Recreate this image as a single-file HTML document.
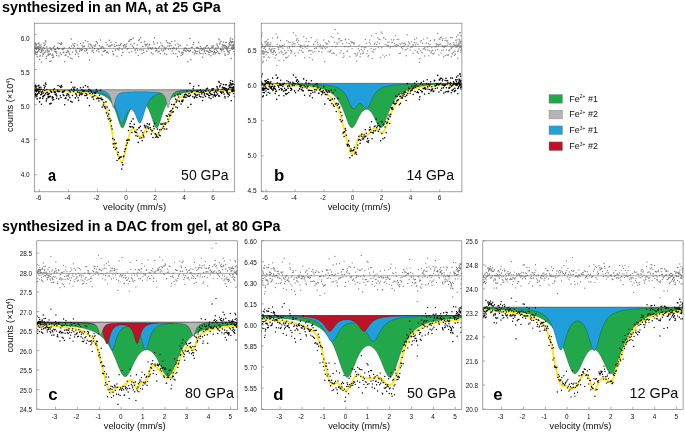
<!DOCTYPE html>
<html><head><meta charset="utf-8"><title>Mossbauer spectra</title>
<style>html,body{margin:0;padding:0;background:#fff;}body{width:685px;height:432px;overflow:hidden;font-family:"Liberation Sans",sans-serif;}svg{display:block;will-change:transform;}</style></head>
<body>
<svg width="685" height="432" viewBox="0 0 685 432" font-family="'Liberation Sans', sans-serif">
<rect width="685" height="432" fill="#fff"/>
<text x="2" y="11.8" font-size="14" textLength="218.8" lengthAdjust="spacingAndGlyphs" font-weight="bold" fill="#000">synthesized in an MA, at 25 GPa</text>
<text x="2" y="231.0" font-size="14" textLength="278.4" lengthAdjust="spacingAndGlyphs" font-weight="bold" fill="#000">synthesized in a DAC from gel, at 80 GPa</text>
<clipPath id="clip11"><rect x="34.3" y="23.2" width="200.39999999999998" height="168.60000000000002"/></clipPath>
<g clip-path="url(#clip11)">
<path d="M34.30,90.30 L34.80,90.30 L35.30,90.31 L35.80,90.31 L36.30,90.32 L36.80,90.32 L37.30,90.32 L37.80,90.33 L38.30,90.33 L38.80,90.34 L39.30,90.34 L39.80,90.35 L40.30,90.35 L40.80,90.36 L41.30,90.36 L41.80,90.37 L42.30,90.37 L42.80,90.38 L43.30,90.38 L43.80,90.39 L44.30,90.39 L44.80,90.40 L45.30,90.41 L45.80,90.41 L46.30,90.42 L46.80,90.42 L47.30,90.43 L47.80,90.44 L48.30,90.44 L48.80,90.45 L49.30,90.46 L49.80,90.46 L50.30,90.47 L50.80,90.48 L51.30,90.49 L51.80,90.49 L52.30,90.50 L52.80,90.51 L53.30,90.52 L53.80,90.52 L54.30,90.53 L54.80,90.54 L55.30,90.55 L55.80,90.56 L56.30,90.57 L56.80,90.58 L57.30,90.58 L57.80,90.59 L58.30,90.60 L58.80,90.61 L59.30,90.62 L59.80,90.63 L60.30,90.64 L60.80,90.65 L61.30,90.67 L61.80,90.68 L62.30,90.69 L62.80,90.70 L63.30,90.71 L63.80,90.72 L64.30,90.74 L64.80,90.75 L65.30,90.76 L65.80,90.78 L66.30,90.79 L66.80,90.80 L67.30,90.82 L67.80,90.83 L68.30,90.85 L68.80,90.86 L69.30,90.88 L69.80,90.90 L70.30,90.91 L70.80,90.93 L71.30,90.95 L71.80,90.97 L72.30,90.99 L72.80,91.01 L73.30,91.03 L73.80,91.05 L74.30,91.07 L74.80,91.09 L75.30,91.11 L75.80,91.13 L76.30,91.16 L76.80,91.18 L77.30,91.21 L77.80,91.23 L78.30,91.26 L78.80,91.29 L79.30,91.31 L79.80,91.34 L80.30,91.37 L80.80,91.40 L81.30,91.44 L81.80,91.47 L82.30,91.50 L82.80,91.54 L83.30,91.57 L83.80,91.61 L84.30,91.65 L84.80,91.69 L85.30,91.73 L85.80,91.78 L86.30,91.82 L86.80,91.87 L87.30,91.92 L87.80,91.97 L88.30,92.02 L88.80,92.08 L89.30,92.13 L89.80,92.19 L90.30,92.25 L90.80,92.32 L91.30,92.39 L91.80,92.46 L92.30,92.53 L92.80,92.60 L93.30,92.68 L93.80,92.77 L94.30,92.86 L94.80,92.95 L95.30,93.04 L95.80,93.14 L96.30,93.25 L96.80,93.36 L97.30,93.48 L97.80,93.60 L98.30,93.73 L98.80,93.87 L99.30,94.01 L99.80,94.16 L100.30,94.32 L100.80,94.49 L101.30,94.67 L101.80,94.86 L102.30,95.07 L102.80,95.28 L103.30,95.51 L103.80,95.76 L104.30,96.02 L104.80,96.29 L105.30,96.59 L105.80,96.91 L106.30,97.25 L106.80,97.61 L107.30,98.00 L107.80,98.42 L108.30,98.87 L108.80,99.36 L109.30,99.88 L109.80,100.44 L110.30,101.05 L110.80,101.71 L111.30,102.42 L111.80,103.19 L112.30,104.01 L112.80,104.91 L113.30,105.87 L113.80,106.91 L114.30,108.03 L114.80,109.23 L115.30,110.51 L115.80,111.87 L116.30,113.31 L116.80,114.81 L117.30,116.37 L117.80,117.97 L118.30,119.58 L118.80,121.16 L119.30,122.69 L119.80,124.10 L120.30,125.37 L120.80,126.42 L121.30,127.23 L121.80,127.75 L122.30,127.95 L122.80,127.84 L123.30,127.41 L123.80,126.70 L124.30,125.73 L124.80,124.57 L125.30,123.24 L125.80,121.82 L126.30,120.33 L126.80,118.82 L127.30,117.32 L127.80,115.87 L128.30,114.47 L128.80,113.14 L129.30,111.89 L129.80,110.73 L130.30,109.65 L130.80,108.65 L131.30,107.74 L131.80,106.90 L132.30,106.15 L132.80,105.46 L133.30,104.84 L133.80,104.29 L134.30,103.79 L134.80,103.36 L135.30,102.97 L135.80,102.64 L136.30,102.35 L136.80,102.11 L137.30,101.91 L137.80,101.76 L138.30,101.64 L138.80,101.57 L139.30,101.53 L139.80,101.54 L140.30,101.58 L140.80,101.66 L141.30,101.79 L141.80,101.95 L142.30,102.15 L142.80,102.40 L143.30,102.70 L143.80,103.04 L144.30,103.44 L144.80,103.89 L145.30,104.39 L145.80,104.96 L146.30,105.59 L146.80,106.29 L147.30,107.06 L147.80,107.91 L148.30,108.84 L148.80,109.85 L149.30,110.95 L149.80,112.13 L150.30,113.40 L150.80,114.74 L151.30,116.15 L151.80,117.62 L152.30,119.12 L152.80,120.63 L153.30,122.11 L153.80,123.52 L154.30,124.81 L154.80,125.95 L155.30,126.86 L155.80,127.52 L156.30,127.89 L156.80,127.94 L157.30,127.67 L157.80,127.09 L158.30,126.23 L158.80,125.13 L159.30,123.83 L159.80,122.39 L160.30,120.85 L160.80,119.26 L161.30,117.65 L161.80,116.06 L162.30,114.51 L162.80,113.01 L163.30,111.59 L163.80,110.25 L164.30,108.98 L164.80,107.80 L165.30,106.70 L165.80,105.67 L166.30,104.72 L166.80,103.84 L167.30,103.03 L167.80,102.27 L168.30,101.57 L168.80,100.93 L169.30,100.33 L169.80,99.77 L170.30,99.26 L170.80,98.78 L171.30,98.33 L171.80,97.92 L172.30,97.53 L172.80,97.18 L173.30,96.84 L173.80,96.53 L174.30,96.24 L174.80,95.96 L175.30,95.71 L175.80,95.46 L176.30,95.24 L176.80,95.03 L177.30,94.82 L177.80,94.64 L178.30,94.46 L178.80,94.29 L179.30,94.13 L179.80,93.98 L180.30,93.84 L180.80,93.70 L181.30,93.57 L181.80,93.45 L182.30,93.34 L182.80,93.23 L183.30,93.12 L183.80,93.02 L184.30,92.93 L184.80,92.84 L185.30,92.75 L185.80,92.67 L186.30,92.59 L186.80,92.51 L187.30,92.44 L187.80,92.37 L188.30,92.31 L188.80,92.24 L189.30,92.18 L189.80,92.12 L190.30,92.07 L190.80,92.01 L191.30,91.96 L191.80,91.91 L192.30,91.86 L192.80,91.81 L193.30,91.77 L193.80,91.73 L194.30,91.68 L194.80,91.64 L195.30,91.60 L195.80,91.57 L196.30,91.53 L196.80,91.50 L197.30,91.46 L197.80,91.43 L198.30,91.40 L198.80,91.37 L199.30,91.34 L199.80,91.31 L200.30,91.28 L200.80,91.25 L201.30,91.23 L201.80,91.20 L202.30,91.18 L202.80,91.15 L203.30,91.13 L203.80,91.11 L204.30,91.08 L204.80,91.06 L205.30,91.04 L205.80,91.02 L206.30,91.00 L206.80,90.98 L207.30,90.96 L207.80,90.95 L208.30,90.93 L208.80,90.91 L209.30,90.89 L209.80,90.88 L210.30,90.86 L210.80,90.85 L211.30,90.83 L211.80,90.82 L212.30,90.80 L212.80,90.79 L213.30,90.77 L213.80,90.76 L214.30,90.75 L214.80,90.73 L215.30,90.72 L215.80,90.71 L216.30,90.70 L216.80,90.69 L217.30,90.67 L217.80,90.66 L218.30,90.65 L218.80,90.64 L219.30,90.63 L219.80,90.62 L220.30,90.61 L220.80,90.60 L221.30,90.59 L221.80,90.58 L222.30,90.57 L222.80,90.56 L223.30,90.56 L223.80,90.55 L224.30,90.54 L224.80,90.53 L225.30,90.52 L225.80,90.51 L226.30,90.51 L226.80,90.50 L227.30,90.49 L227.80,90.48 L228.30,90.48 L228.80,90.47 L229.30,90.46 L229.80,90.46 L230.30,90.45 L230.80,90.44 L231.30,90.44 L231.80,90.43 L232.30,90.42 L232.80,90.42 L233.30,90.41 L233.80,90.41 L234.30,90.40 L234.7,89.9 L34.3,89.9 Z" fill="#22A74A" stroke="#222" stroke-opacity="0.6" stroke-width="0.45"/>
<path d="M34.30,90.16 L34.80,90.17 L35.30,90.17 L35.80,90.17 L36.30,90.17 L36.80,90.18 L37.30,90.18 L37.80,90.18 L38.30,90.19 L38.80,90.19 L39.30,90.19 L39.80,90.20 L40.30,90.20 L40.80,90.20 L41.30,90.21 L41.80,90.21 L42.30,90.21 L42.80,90.22 L43.30,90.22 L43.80,90.23 L44.30,90.23 L44.80,90.23 L45.30,90.24 L45.80,90.24 L46.30,90.25 L46.80,90.25 L47.30,90.25 L47.80,90.26 L48.30,90.26 L48.80,90.27 L49.30,90.27 L49.80,90.28 L50.30,90.28 L50.80,90.29 L51.30,90.29 L51.80,90.30 L52.30,90.30 L52.80,90.31 L53.30,90.31 L53.80,90.32 L54.30,90.32 L54.80,90.33 L55.30,90.34 L55.80,90.34 L56.30,90.35 L56.80,90.35 L57.30,90.36 L57.80,90.37 L58.30,90.37 L58.80,90.38 L59.30,90.39 L59.80,90.40 L60.30,90.40 L60.80,90.41 L61.30,90.42 L61.80,90.43 L62.30,90.43 L62.80,90.44 L63.30,90.45 L63.80,90.46 L64.30,90.47 L64.80,90.48 L65.30,90.49 L65.80,90.50 L66.30,90.51 L66.80,90.52 L67.30,90.53 L67.80,90.54 L68.30,90.55 L68.80,90.56 L69.30,90.57 L69.80,90.58 L70.30,90.59 L70.80,90.61 L71.30,90.62 L71.80,90.63 L72.30,90.64 L72.80,90.66 L73.30,90.67 L73.80,90.69 L74.30,90.70 L74.80,90.72 L75.30,90.73 L75.80,90.75 L76.30,90.76 L76.80,90.78 L77.30,90.80 L77.80,90.82 L78.30,90.84 L78.80,90.86 L79.30,90.88 L79.80,90.90 L80.30,90.92 L80.80,90.94 L81.30,90.96 L81.80,90.99 L82.30,91.01 L82.80,91.04 L83.30,91.06 L83.80,91.09 L84.30,91.12 L84.80,91.15 L85.30,91.18 L85.80,91.21 L86.30,91.24 L86.80,91.27 L87.30,91.31 L87.80,91.35 L88.30,91.38 L88.80,91.42 L89.30,91.46 L89.80,91.51 L90.30,91.55 L90.80,91.60 L91.30,91.65 L91.80,91.70 L92.30,91.75 L92.80,91.80 L93.30,91.86 L93.80,91.92 L94.30,91.99 L94.80,92.05 L95.30,92.12 L95.80,92.20 L96.30,92.27 L96.80,92.35 L97.30,92.44 L97.80,92.53 L98.30,92.62 L98.80,92.72 L99.30,92.83 L99.80,92.94 L100.30,93.06 L100.80,93.19 L101.30,93.32 L101.80,93.46 L102.30,93.62 L102.80,93.78 L103.30,93.95 L103.80,94.13 L104.30,94.33 L104.80,94.54 L105.30,94.77 L105.80,95.01 L106.30,95.27 L106.80,95.55 L107.30,95.86 L107.80,96.19 L108.30,96.54 L108.80,96.93 L109.30,97.35 L109.80,97.81 L110.30,98.30 L110.80,98.85 L111.30,99.44 L111.80,100.09 L112.30,100.80 L112.80,101.58 L113.30,102.43 L113.80,103.36 L114.30,104.38 L114.80,105.49 L115.30,106.69 L115.80,108.00 L116.30,109.40 L116.80,110.90 L117.30,112.48 L117.80,114.11 L118.30,115.78 L118.80,117.42 L119.30,118.99 L119.80,120.42 L120.30,121.65 L120.80,122.61 L121.30,123.24 L121.80,123.50 L122.30,123.40 L122.80,122.95 L123.30,122.20 L123.80,121.20 L124.30,120.04 L124.80,118.77 L125.30,117.47 L125.80,116.19 L126.30,114.97 L126.80,113.83 L127.30,112.81 L127.80,111.91 L128.30,111.14 L128.80,110.50 L129.30,110.00 L129.80,109.64 L130.30,109.42 L130.80,109.33 L131.30,109.37 L131.80,109.55 L132.30,109.87 L132.80,110.32 L133.30,110.90 L133.80,111.62 L134.30,112.48 L134.80,113.45 L135.30,114.54 L135.80,115.73 L136.30,116.98 L136.80,118.25 L137.30,119.51 L137.80,120.68 L138.30,121.69 L138.80,122.48 L139.30,122.99 L139.80,123.15 L140.30,122.96 L140.80,122.41 L141.30,121.52 L141.80,120.36 L142.30,118.97 L142.80,117.44 L143.30,115.82 L143.80,114.18 L144.30,112.56 L144.80,110.99 L145.30,109.49 L145.80,108.08 L146.30,106.77 L146.80,105.56 L147.30,104.44 L147.80,103.42 L148.30,102.48 L148.80,101.62 L149.30,100.84 L149.80,100.13 L150.30,99.47 L150.80,98.88 L151.30,98.33 L151.80,97.83 L152.30,97.37 L152.80,96.95 L153.30,96.56 L153.80,96.20 L154.30,95.87 L154.80,95.56 L155.30,95.28 L155.80,95.02 L156.30,94.77 L156.80,94.55 L157.30,94.34 L157.80,94.14 L158.30,93.95 L158.80,93.78 L159.30,93.62 L159.80,93.47 L160.30,93.32 L160.80,93.19 L161.30,93.06 L161.80,92.94 L162.30,92.83 L162.80,92.73 L163.30,92.63 L163.80,92.53 L164.30,92.44 L164.80,92.35 L165.30,92.27 L165.80,92.20 L166.30,92.12 L166.80,92.05 L167.30,91.99 L167.80,91.92 L168.30,91.86 L168.80,91.80 L169.30,91.75 L169.80,91.70 L170.30,91.65 L170.80,91.60 L171.30,91.55 L171.80,91.51 L172.30,91.46 L172.80,91.42 L173.30,91.38 L173.80,91.35 L174.30,91.31 L174.80,91.27 L175.30,91.24 L175.80,91.21 L176.30,91.18 L176.80,91.15 L177.30,91.12 L177.80,91.09 L178.30,91.06 L178.80,91.04 L179.30,91.01 L179.80,90.99 L180.30,90.96 L180.80,90.94 L181.30,90.92 L181.80,90.90 L182.30,90.88 L182.80,90.86 L183.30,90.84 L183.80,90.82 L184.30,90.80 L184.80,90.78 L185.30,90.76 L185.80,90.75 L186.30,90.73 L186.80,90.72 L187.30,90.70 L187.80,90.69 L188.30,90.67 L188.80,90.66 L189.30,90.64 L189.80,90.63 L190.30,90.62 L190.80,90.61 L191.30,90.59 L191.80,90.58 L192.30,90.57 L192.80,90.56 L193.30,90.55 L193.80,90.54 L194.30,90.53 L194.80,90.52 L195.30,90.51 L195.80,90.50 L196.30,90.49 L196.80,90.48 L197.30,90.47 L197.80,90.46 L198.30,90.45 L198.80,90.44 L199.30,90.43 L199.80,90.43 L200.30,90.42 L200.80,90.41 L201.30,90.40 L201.80,90.40 L202.30,90.39 L202.80,90.38 L203.30,90.37 L203.80,90.37 L204.30,90.36 L204.80,90.35 L205.30,90.35 L205.80,90.34 L206.30,90.34 L206.80,90.33 L207.30,90.32 L207.80,90.32 L208.30,90.31 L208.80,90.31 L209.30,90.30 L209.80,90.30 L210.30,90.29 L210.80,90.29 L211.30,90.28 L211.80,90.28 L212.30,90.27 L212.80,90.27 L213.30,90.26 L213.80,90.26 L214.30,90.25 L214.80,90.25 L215.30,90.25 L215.80,90.24 L216.30,90.24 L216.80,90.23 L217.30,90.23 L217.80,90.23 L218.30,90.22 L218.80,90.22 L219.30,90.21 L219.80,90.21 L220.30,90.21 L220.80,90.20 L221.30,90.20 L221.80,90.20 L222.30,90.19 L222.80,90.19 L223.30,90.19 L223.80,90.18 L224.30,90.18 L224.80,90.18 L225.30,90.17 L225.80,90.17 L226.30,90.17 L226.80,90.17 L227.30,90.16 L227.80,90.16 L228.30,90.16 L228.80,90.16 L229.30,90.15 L229.80,90.15 L230.30,90.15 L230.80,90.14 L231.30,90.14 L231.80,90.14 L232.30,90.14 L232.80,90.14 L233.30,90.13 L233.80,90.13 L234.30,90.13 L234.7,89.9 L34.3,89.9 Z" fill="#219FDB" stroke="#222" stroke-opacity="0.6" stroke-width="0.45"/>
<path d="M34.30,89.92 L34.80,89.92 L35.30,89.92 L35.80,89.92 L36.30,89.92 L36.80,89.92 L37.30,89.92 L37.80,89.92 L38.30,89.92 L38.80,89.92 L39.30,89.92 L39.80,89.92 L40.30,89.92 L40.80,89.92 L41.30,89.92 L41.80,89.92 L42.30,89.92 L42.80,89.92 L43.30,89.92 L43.80,89.92 L44.30,89.92 L44.80,89.92 L45.30,89.92 L45.80,89.92 L46.30,89.92 L46.80,89.93 L47.30,89.93 L47.80,89.93 L48.30,89.93 L48.80,89.93 L49.30,89.93 L49.80,89.93 L50.30,89.93 L50.80,89.93 L51.30,89.93 L51.80,89.93 L52.30,89.93 L52.80,89.93 L53.30,89.93 L53.80,89.93 L54.30,89.93 L54.80,89.93 L55.30,89.93 L55.80,89.93 L56.30,89.93 L56.80,89.93 L57.30,89.93 L57.80,89.93 L58.30,89.94 L58.80,89.94 L59.30,89.94 L59.80,89.94 L60.30,89.94 L60.80,89.94 L61.30,89.94 L61.80,89.94 L62.30,89.94 L62.80,89.94 L63.30,89.94 L63.80,89.94 L64.30,89.94 L64.80,89.94 L65.30,89.95 L65.80,89.95 L66.30,89.95 L66.80,89.95 L67.30,89.95 L67.80,89.95 L68.30,89.95 L68.80,89.95 L69.30,89.95 L69.80,89.95 L70.30,89.96 L70.80,89.96 L71.30,89.96 L71.80,89.96 L72.30,89.96 L72.80,89.96 L73.30,89.96 L73.80,89.96 L74.30,89.97 L74.80,89.97 L75.30,89.97 L75.80,89.97 L76.30,89.97 L76.80,89.97 L77.30,89.98 L77.80,89.98 L78.30,89.98 L78.80,89.98 L79.30,89.98 L79.80,89.99 L80.30,89.99 L80.80,89.99 L81.30,89.99 L81.80,90.00 L82.30,90.00 L82.80,90.00 L83.30,90.01 L83.80,90.01 L84.30,90.01 L84.80,90.02 L85.30,90.02 L85.80,90.03 L86.30,90.03 L86.80,90.03 L87.30,90.04 L87.80,90.04 L88.30,90.05 L88.80,90.06 L89.30,90.06 L89.80,90.07 L90.30,90.08 L90.80,90.08 L91.30,90.09 L91.80,90.10 L92.30,90.11 L92.80,90.12 L93.30,90.13 L93.80,90.14 L94.30,90.16 L94.80,90.17 L95.30,90.19 L95.80,90.20 L96.30,90.22 L96.80,90.24 L97.30,90.27 L97.80,90.29 L98.30,90.32 L98.80,90.36 L99.30,90.39 L99.80,90.44 L100.30,90.49 L100.80,90.54 L101.30,90.60 L101.80,90.67 L102.30,90.76 L102.80,90.85 L103.30,90.96 L103.80,91.08 L104.30,91.23 L104.80,91.40 L105.30,91.59 L105.80,91.81 L106.30,92.07 L106.80,92.38 L107.30,92.73 L107.80,93.15 L108.30,93.65 L108.80,94.26 L109.30,95.02 L109.80,95.95 L110.30,97.14 L110.80,98.63 L111.30,100.49 L111.80,102.69 L112.30,104.99 L112.80,106.88 L113.30,107.65 L113.80,106.95 L114.30,105.13 L114.80,102.89 L115.30,100.77 L115.80,98.99 L116.30,97.57 L116.80,96.47 L117.30,95.62 L117.80,94.96 L118.30,94.44 L118.80,94.02 L119.30,93.69 L119.80,93.42 L120.30,93.20 L120.80,93.02 L121.30,92.87 L121.80,92.74 L122.30,92.63 L122.80,92.53 L123.30,92.45 L123.80,92.38 L124.30,92.32 L124.80,92.27 L125.30,92.22 L125.80,92.18 L126.30,92.14 L126.80,92.11 L127.30,92.08 L127.80,92.05 L128.30,92.03 L128.80,92.00 L129.30,91.98 L129.80,91.97 L130.30,91.95 L130.80,91.94 L131.30,91.92 L131.80,91.91 L132.30,91.90 L132.80,91.89 L133.30,91.88 L133.80,91.87 L134.30,91.87 L134.80,91.86 L135.30,91.85 L135.80,91.85 L136.30,91.84 L136.80,91.84 L137.30,91.84 L137.80,91.83 L138.30,91.83 L138.80,91.83 L139.30,91.83 L139.80,91.83 L140.30,91.83 L140.80,91.83 L141.30,91.83 L141.80,91.83 L142.30,91.83 L142.80,91.83 L143.30,91.83 L143.80,91.84 L144.30,91.84 L144.80,91.84 L145.30,91.85 L145.80,91.85 L146.30,91.86 L146.80,91.86 L147.30,91.87 L147.80,91.88 L148.30,91.89 L148.80,91.89 L149.30,91.90 L149.80,91.92 L150.30,91.93 L150.80,91.94 L151.30,91.96 L151.80,91.97 L152.30,91.99 L152.80,92.01 L153.30,92.03 L153.80,92.06 L154.30,92.09 L154.80,92.12 L155.30,92.15 L155.80,92.19 L156.30,92.24 L156.80,92.29 L157.30,92.34 L157.80,92.41 L158.30,92.48 L158.80,92.57 L159.30,92.67 L159.80,92.79 L160.30,92.93 L160.80,93.09 L161.30,93.29 L161.80,93.53 L162.30,93.82 L162.80,94.18 L163.30,94.64 L163.80,95.21 L164.30,95.94 L164.80,96.89 L165.30,98.11 L165.80,99.67 L166.30,101.60 L166.80,103.82 L167.30,105.97 L167.80,107.43 L168.30,107.55 L168.80,106.27 L169.30,104.14 L169.80,101.84 L170.30,99.77 L170.80,98.07 L171.30,96.71 L171.80,95.64 L172.30,94.79 L172.80,94.10 L173.30,93.54 L173.80,93.08 L174.30,92.68 L174.80,92.35 L175.30,92.06 L175.80,91.81 L176.30,91.59 L176.80,91.40 L177.30,91.23 L177.80,91.09 L178.30,90.96 L178.80,90.85 L179.30,90.76 L179.80,90.67 L180.30,90.60 L180.80,90.54 L181.30,90.48 L181.80,90.43 L182.30,90.39 L182.80,90.35 L183.30,90.32 L183.80,90.29 L184.30,90.26 L184.80,90.24 L185.30,90.22 L185.80,90.20 L186.30,90.18 L186.80,90.17 L187.30,90.15 L187.80,90.14 L188.30,90.13 L188.80,90.12 L189.30,90.11 L189.80,90.10 L190.30,90.09 L190.80,90.08 L191.30,90.07 L191.80,90.07 L192.30,90.06 L192.80,90.05 L193.30,90.05 L193.80,90.04 L194.30,90.04 L194.80,90.03 L195.30,90.03 L195.80,90.02 L196.30,90.02 L196.80,90.02 L197.30,90.01 L197.80,90.01 L198.30,90.01 L198.80,90.00 L199.30,90.00 L199.80,90.00 L200.30,89.99 L200.80,89.99 L201.30,89.99 L201.80,89.99 L202.30,89.98 L202.80,89.98 L203.30,89.98 L203.80,89.98 L204.30,89.98 L204.80,89.97 L205.30,89.97 L205.80,89.97 L206.30,89.97 L206.80,89.97 L207.30,89.97 L207.80,89.96 L208.30,89.96 L208.80,89.96 L209.30,89.96 L209.80,89.96 L210.30,89.96 L210.80,89.96 L211.30,89.95 L211.80,89.95 L212.30,89.95 L212.80,89.95 L213.30,89.95 L213.80,89.95 L214.30,89.95 L214.80,89.95 L215.30,89.95 L215.80,89.95 L216.30,89.94 L216.80,89.94 L217.30,89.94 L217.80,89.94 L218.30,89.94 L218.80,89.94 L219.30,89.94 L219.80,89.94 L220.30,89.94 L220.80,89.94 L221.30,89.94 L221.80,89.94 L222.30,89.94 L222.80,89.94 L223.30,89.94 L223.80,89.93 L224.30,89.93 L224.80,89.93 L225.30,89.93 L225.80,89.93 L226.30,89.93 L226.80,89.93 L227.30,89.93 L227.80,89.93 L228.30,89.93 L228.80,89.93 L229.30,89.93 L229.80,89.93 L230.30,89.93 L230.80,89.93 L231.30,89.93 L231.80,89.93 L232.30,89.93 L232.80,89.93 L233.30,89.93 L233.80,89.93 L234.30,89.93 L234.7,89.9 L34.3,89.9 Z" fill="#B4B4B4" stroke="#222" stroke-opacity="0.6" stroke-width="0.45"/>
<path d="M34.30,90.58 L34.80,90.59 L35.30,90.59 L35.80,90.60 L36.30,90.61 L36.80,90.62 L37.30,90.63 L37.80,90.63 L38.30,90.64 L38.80,90.65 L39.30,90.66 L39.80,90.67 L40.30,90.67 L40.80,90.68 L41.30,90.69 L41.80,90.70 L42.30,90.71 L42.80,90.72 L43.30,90.73 L43.80,90.74 L44.30,90.75 L44.80,90.76 L45.30,90.77 L45.80,90.78 L46.30,90.79 L46.80,90.80 L47.30,90.81 L47.80,90.82 L48.30,90.83 L48.80,90.84 L49.30,90.86 L49.80,90.87 L50.30,90.88 L50.80,90.89 L51.30,90.91 L51.80,90.92 L52.30,90.93 L52.80,90.95 L53.30,90.96 L53.80,90.97 L54.30,90.99 L54.80,91.00 L55.30,91.02 L55.80,91.03 L56.30,91.05 L56.80,91.06 L57.30,91.08 L57.80,91.10 L58.30,91.11 L58.80,91.13 L59.30,91.15 L59.80,91.17 L60.30,91.18 L60.80,91.20 L61.30,91.22 L61.80,91.24 L62.30,91.26 L62.80,91.28 L63.30,91.30 L63.80,91.33 L64.30,91.35 L64.80,91.37 L65.30,91.39 L65.80,91.42 L66.30,91.44 L66.80,91.47 L67.30,91.49 L67.80,91.52 L68.30,91.55 L68.80,91.57 L69.30,91.60 L69.80,91.63 L70.30,91.66 L70.80,91.69 L71.30,91.72 L71.80,91.76 L72.30,91.79 L72.80,91.82 L73.30,91.86 L73.80,91.90 L74.30,91.93 L74.80,91.97 L75.30,92.01 L75.80,92.05 L76.30,92.09 L76.80,92.14 L77.30,92.18 L77.80,92.23 L78.30,92.28 L78.80,92.32 L79.30,92.37 L79.80,92.43 L80.30,92.48 L80.80,92.54 L81.30,92.59 L81.80,92.65 L82.30,92.71 L82.80,92.78 L83.30,92.84 L83.80,92.91 L84.30,92.98 L84.80,93.06 L85.30,93.14 L85.80,93.22 L86.30,93.31 L86.80,93.40 L87.30,93.49 L87.80,93.59 L88.30,93.69 L88.80,93.80 L89.30,93.91 L89.80,94.03 L90.30,94.16 L90.80,94.29 L91.30,94.43 L91.80,94.57 L92.30,94.72 L92.80,94.88 L93.30,95.05 L93.80,95.22 L94.30,95.41 L94.80,95.60 L95.30,95.81 L95.80,96.02 L96.30,96.25 L96.80,96.49 L97.30,96.75 L97.80,97.01 L98.30,97.30 L98.80,97.60 L99.30,97.93 L99.80,98.27 L100.30,98.63 L100.80,99.02 L101.30,99.44 L101.80,99.92 L102.30,100.54 L102.80,101.28 L103.30,102.13 L103.80,103.06 L104.30,104.04 L104.80,105.08 L105.30,106.16 L105.80,107.30 L106.30,108.55 L106.80,109.91 L107.30,111.38 L107.80,112.96 L108.30,114.67 L108.80,116.54 L109.30,118.56 L109.80,120.73 L110.30,123.07 L110.80,125.57 L111.30,128.22 L111.80,130.96 L112.30,133.70 L112.80,136.35 L113.30,138.85 L113.80,141.16 L114.30,143.29 L114.80,145.26 L115.30,147.07 L115.80,148.74 L116.30,150.29 L116.80,151.73 L117.30,153.10 L117.80,154.41 L118.30,155.70 L118.80,156.98 L119.30,158.25 L119.80,159.48 L120.30,160.59 L120.80,161.47 L121.30,162.01 L121.80,162.11 L122.30,161.72 L122.80,160.85 L123.30,159.56 L123.80,157.92 L124.30,156.01 L124.80,153.89 L125.30,151.65 L125.80,149.32 L126.30,146.98 L126.80,144.68 L127.30,142.47 L127.80,140.37 L128.30,138.41 L128.80,136.59 L129.30,134.95 L129.80,133.48 L130.30,132.20 L130.80,131.13 L131.30,130.25 L131.80,129.59 L132.30,129.15 L132.80,128.93 L133.30,128.92 L133.80,129.09 L134.30,129.44 L134.80,129.92 L135.30,130.52 L135.80,131.22 L136.30,132.00 L136.80,132.84 L137.30,133.70 L137.80,134.55 L138.30,135.33 L138.80,136.01 L139.30,136.53 L139.80,136.85 L140.30,136.95 L140.80,136.83 L141.30,136.53 L141.80,136.06 L142.30,135.47 L142.80,134.78 L143.30,134.03 L143.80,133.24 L144.30,132.43 L144.80,131.62 L145.30,130.83 L145.80,130.08 L146.30,129.40 L146.80,128.81 L147.30,128.34 L147.80,128.01 L148.30,127.84 L148.80,127.83 L149.30,127.97 L149.80,128.26 L150.30,128.65 L150.80,129.15 L151.30,129.72 L151.80,130.34 L152.30,130.99 L152.80,131.66 L153.30,132.33 L153.80,132.97 L154.30,133.56 L154.80,134.07 L155.30,134.48 L155.80,134.75 L156.30,134.87 L156.80,134.79 L157.30,134.54 L157.80,134.11 L158.30,133.53 L158.80,132.84 L159.30,132.05 L159.80,131.20 L160.30,130.29 L160.80,129.34 L161.30,128.40 L161.80,127.48 L162.30,126.63 L162.80,125.87 L163.30,125.22 L163.80,124.68 L164.30,124.24 L164.80,123.90 L165.30,123.64 L165.80,123.43 L166.30,123.23 L166.80,122.96 L167.30,122.54 L167.80,121.91 L168.30,121.05 L168.80,119.98 L169.30,118.74 L169.80,117.39 L170.30,115.91 L170.80,114.33 L171.30,112.67 L171.80,111.02 L172.30,109.43 L172.80,107.97 L173.30,106.67 L173.80,105.52 L174.30,104.48 L174.80,103.53 L175.30,102.65 L175.80,101.83 L176.30,101.07 L176.80,100.38 L177.30,99.78 L177.80,99.30 L178.30,98.85 L178.80,98.44 L179.30,98.05 L179.80,97.68 L180.30,97.34 L180.80,97.02 L181.30,96.71 L181.80,96.42 L182.30,96.15 L182.80,95.89 L183.30,95.64 L183.80,95.41 L184.30,95.18 L184.80,94.97 L185.30,94.77 L185.80,94.57 L186.30,94.39 L186.80,94.21 L187.30,94.04 L187.80,93.89 L188.30,93.73 L188.80,93.59 L189.30,93.45 L189.80,93.32 L190.30,93.20 L190.80,93.08 L191.30,92.98 L191.80,92.87 L192.30,92.78 L192.80,92.69 L193.30,92.61 L193.80,92.53 L194.30,92.46 L194.80,92.40 L195.30,92.34 L195.80,92.29 L196.30,92.24 L196.80,92.19 L197.30,92.14 L197.80,92.10 L198.30,92.05 L198.80,92.01 L199.30,91.97 L199.80,91.93 L200.30,91.89 L200.80,91.85 L201.30,91.82 L201.80,91.78 L202.30,91.75 L202.80,91.71 L203.30,91.68 L203.80,91.65 L204.30,91.62 L204.80,91.59 L205.30,91.56 L205.80,91.53 L206.30,91.51 L206.80,91.48 L207.30,91.45 L207.80,91.43 L208.30,91.40 L208.80,91.38 L209.30,91.36 L209.80,91.33 L210.30,91.31 L210.80,91.29 L211.30,91.27 L211.80,91.25 L212.30,91.23 L212.80,91.21 L213.30,91.19 L213.80,91.17 L214.30,91.15 L214.80,91.13 L215.30,91.11 L215.80,91.10 L216.30,91.08 L216.80,91.06 L217.30,91.05 L217.80,91.03 L218.30,91.02 L218.80,91.00 L219.30,90.99 L219.80,90.97 L220.30,90.96 L220.80,90.94 L221.30,90.93 L221.80,90.92 L222.30,90.90 L222.80,90.89 L223.30,90.88 L223.80,90.87 L224.30,90.85 L224.80,90.84 L225.30,90.83 L225.80,90.82 L226.30,90.81 L226.80,90.80 L227.30,90.79 L227.80,90.77 L228.30,90.76 L228.80,90.75 L229.30,90.74 L229.80,90.73 L230.30,90.72 L230.80,90.71 L231.30,90.71 L231.80,90.70 L232.30,90.69 L232.80,90.68 L233.30,90.67 L233.80,90.66 L234.30,90.65" fill="none" stroke="#FFE51A" stroke-width="1.75" stroke-linejoin="round"/>
<path d="M34.3,91.2h0M34.4,90.3h0M34.5,90.2h0M34.6,94.7h0M34.6,89.2h0M34.7,92.0h0M34.8,85.9h0M34.9,89.2h0M35.0,96.9h0M35.1,90.8h0M35.2,85.2h0M35.3,87.0h0M35.4,93.8h0M35.5,95.3h0M35.6,90.1h0M35.7,90.3h0M35.8,85.6h0M36.0,90.3h0M36.1,88.1h0M36.2,86.6h0M36.4,90.9h0M36.5,91.7h0M36.6,94.9h0M36.8,96.8h0M36.9,90.8h0M37.1,89.4h0M37.2,98.9h0M37.4,94.8h0M37.5,93.8h0M37.7,90.1h0M37.8,89.8h0M38.0,86.0h0M38.2,89.1h0M38.3,89.5h0M38.5,91.3h0M38.7,92.3h0M38.9,85.2h0M39.1,93.3h0M39.3,87.4h0M39.4,89.2h0M39.6,101.9h0M39.8,91.4h0M40.0,98.4h0M40.2,97.7h0M40.4,89.8h0M40.7,94.7h0M40.9,87.2h0M41.1,89.0h0M41.3,92.5h0M41.5,104.3h0M41.7,94.1h0M42.0,93.1h0M42.2,91.4h0M42.4,91.5h0M42.7,98.4h0M42.9,96.4h0M43.2,89.8h0M43.4,96.6h0M43.6,93.0h0M43.9,85.2h0M44.1,95.5h0M44.4,87.9h0M44.7,90.5h0M44.9,95.0h0M45.2,86.3h0M45.5,83.1h0M45.7,93.4h0M46.0,84.2h0M46.3,100.9h0M46.6,98.9h0M46.8,89.5h0M47.1,92.2h0M47.4,94.5h0M47.7,92.7h0M48.0,97.7h0M48.3,96.4h0M48.6,94.3h0M48.9,97.2h0M49.2,93.6h0M49.5,96.6h0M49.8,103.9h0M50.1,90.3h0M50.4,96.4h0M50.8,91.8h0M51.1,103.4h0M51.4,91.6h0M51.7,92.5h0M52.1,98.1h0M52.4,96.8h0M52.7,100.0h0M53.1,97.5h0M53.4,89.9h0M53.7,99.5h0M54.1,91.9h0M54.4,88.8h0M54.8,92.4h0M55.1,94.3h0M55.5,92.1h0M55.9,94.9h0M56.2,94.1h0M56.6,98.3h0M56.9,96.0h0M57.3,91.0h0M57.7,90.2h0M58.0,85.6h0M58.4,91.7h0M58.8,98.9h0M59.2,91.4h0M59.6,91.5h0M59.9,86.2h0M60.3,95.7h0M60.7,87.4h0M61.1,97.5h0M61.5,85.5h0M61.9,86.7h0M62.3,92.4h0M62.7,91.5h0M63.1,94.8h0M63.5,91.9h0M63.9,95.6h0M64.3,90.9h0M64.7,104.7h0M65.2,98.5h0M65.6,97.9h0M66.0,98.1h0M66.4,95.5h0M66.8,95.6h0M67.3,93.9h0M67.7,94.0h0M68.1,99.9h0M68.6,94.5h0M69.0,96.1h0M69.4,90.8h0M69.9,97.7h0M70.3,92.0h0M70.8,101.4h0M71.2,82.3h0M71.6,89.3h0M72.1,102.1h0M72.5,95.5h0M73.0,87.3h0M73.5,91.5h0M73.9,88.9h0M74.4,89.8h0M74.8,87.2h0M75.3,97.9h0M75.8,93.8h0M76.2,94.5h0M76.7,96.0h0M77.2,88.8h0M77.6,92.0h0M78.1,97.7h0M78.6,100.4h0M79.1,92.6h0M79.5,95.4h0M80.0,94.1h0M80.5,87.7h0M81.0,93.0h0M81.5,94.6h0M82.0,89.5h0M82.5,93.9h0M82.9,91.4h0M83.4,87.3h0M83.9,90.8h0M84.4,90.8h0M84.9,95.5h0M85.4,85.6h0M85.9,93.5h0M86.4,95.5h0M86.9,94.8h0M87.4,98.1h0M87.9,86.9h0M88.5,91.6h0M89.0,89.4h0M89.5,105.6h0M90.0,93.6h0M90.5,90.3h0M91.0,90.7h0M91.5,92.1h0M92.1,97.1h0M92.6,93.6h0M93.1,96.8h0M93.6,99.3h0M94.1,92.6h0M94.7,95.6h0M95.2,93.4h0M95.7,92.4h0M96.3,89.6h0M96.8,98.8h0M97.3,91.3h0M97.9,97.7h0M98.4,98.6h0M98.9,101.0h0M99.5,95.3h0M100.0,98.6h0M100.5,90.4h0M101.1,98.0h0M101.6,99.4h0M102.2,107.1h0M102.7,99.6h0M103.2,105.1h0M103.8,102.7h0M104.3,106.6h0M104.9,107.1h0M105.4,108.4h0M106.0,101.9h0M106.5,112.9h0M107.1,107.1h0M107.6,116.1h0M108.2,119.0h0M108.7,114.1h0M109.3,110.3h0M109.8,118.6h0M110.4,121.2h0M111.0,120.2h0M111.5,126.0h0M112.1,129.0h0M112.6,138.6h0M113.2,143.9h0M113.7,147.3h0M114.3,139.7h0M114.9,143.6h0M115.4,149.2h0M116.0,143.4h0M116.6,148.1h0M117.1,160.5h0M117.7,154.6h0M118.3,152.3h0M118.8,158.8h0M119.4,158.1h0M119.9,157.0h0M120.5,157.2h0M121.1,156.9h0M121.7,169.1h0M122.2,162.7h0M122.8,164.9h0M123.4,156.6h0M123.9,156.0h0M124.5,151.5h0M125.1,149.3h0M125.6,148.8h0M126.2,145.2h0M126.8,140.4h0M127.3,143.0h0M127.9,140.1h0M128.5,130.5h0M129.1,139.9h0M129.6,126.6h0M130.2,123.6h0M130.8,126.9h0M131.4,121.2h0M131.9,132.5h0M132.5,126.7h0M133.1,118.9h0M133.6,127.8h0M134.2,124.4h0M134.8,131.6h0M135.4,132.2h0M135.9,135.8h0M136.5,132.5h0M137.1,129.8h0M137.6,136.2h0M138.2,142.4h0M138.8,128.0h0M139.4,127.6h0M139.9,138.2h0M140.5,126.3h0M141.1,130.7h0M141.7,137.7h0M142.2,140.8h0M142.8,132.8h0M143.4,135.4h0M143.9,137.1h0M144.5,125.4h0M145.1,127.1h0M145.6,127.8h0M146.2,126.0h0M146.8,131.8h0M147.3,123.8h0M147.9,126.9h0M148.5,128.5h0M149.1,124.7h0M149.6,124.1h0M150.2,127.6h0M150.7,129.5h0M151.3,134.1h0M151.9,131.0h0M152.4,130.5h0M153.0,137.6h0M153.6,126.4h0M154.1,128.8h0M154.7,123.4h0M155.3,133.9h0M155.8,137.2h0M156.4,135.1h0M156.9,136.5h0M157.5,129.1h0M158.0,137.4h0M158.6,132.8h0M159.2,135.1h0M159.7,129.7h0M160.3,135.8h0M160.8,124.0h0M161.4,129.7h0M161.9,124.1h0M162.5,124.0h0M163.0,128.2h0M163.6,126.5h0M164.1,123.2h0M164.7,129.0h0M165.2,124.5h0M165.8,123.1h0M166.3,115.7h0M166.8,129.1h0M167.4,116.4h0M167.9,119.3h0M168.5,121.5h0M169.0,114.2h0M169.5,115.8h0M170.1,111.6h0M170.6,115.2h0M171.1,110.5h0M171.7,104.5h0M172.2,112.3h0M172.7,108.6h0M173.3,111.7h0M173.8,104.5h0M174.3,104.6h0M174.9,96.0h0M175.4,99.1h0M175.9,107.0h0M176.4,101.9h0M176.9,100.1h0M177.5,107.7h0M178.0,94.9h0M178.5,97.0h0M179.0,101.1h0M179.5,101.4h0M180.0,94.3h0M180.5,94.2h0M181.1,104.0h0M181.6,101.2h0M182.1,100.2h0M182.6,101.8h0M183.1,100.1h0M183.6,97.3h0M184.1,96.6h0M184.6,94.9h0M185.1,97.2h0M185.6,94.3h0M186.1,97.3h0M186.5,94.8h0M187.0,91.0h0M187.5,95.8h0M188.0,107.2h0M188.5,96.3h0M189.0,93.6h0M189.5,96.3h0M189.9,83.4h0M190.4,95.3h0M190.9,104.4h0M191.4,92.2h0M191.8,92.0h0M192.3,91.7h0M192.8,96.6h0M193.2,88.7h0M193.7,86.6h0M194.2,98.1h0M194.6,93.9h0M195.1,96.9h0M195.5,94.6h0M196.0,95.6h0M196.5,91.5h0M196.9,97.5h0M197.4,95.1h0M197.8,91.1h0M198.2,91.8h0M198.7,85.8h0M199.1,94.6h0M199.6,96.3h0M200.0,92.5h0M200.4,90.0h0M200.9,96.9h0M201.3,91.6h0M201.7,93.9h0M202.2,92.6h0M202.6,100.6h0M203.0,97.3h0M203.4,91.5h0M203.8,92.6h0M204.3,95.0h0M204.7,93.8h0M205.1,90.8h0M205.5,96.4h0M205.9,91.3h0M206.3,89.0h0M206.7,93.8h0M207.1,94.2h0M207.5,88.4h0M207.9,94.2h0M208.3,90.8h0M208.7,95.6h0M209.1,97.8h0M209.4,92.8h0M209.8,95.5h0M210.2,91.5h0M210.6,93.5h0M211.0,98.6h0M211.3,94.5h0M211.7,90.2h0M212.1,88.8h0M212.4,94.5h0M212.8,90.3h0M213.1,97.0h0M213.5,88.7h0M213.9,95.3h0M214.2,92.6h0M214.6,94.2h0M214.9,95.4h0M215.3,96.5h0M215.6,91.4h0M215.9,90.6h0M216.3,95.2h0M216.6,92.6h0M216.9,86.6h0M217.3,88.0h0M217.6,94.1h0M217.9,90.6h0M218.2,89.3h0M218.6,95.9h0M218.9,81.6h0M219.2,82.4h0M219.5,96.1h0M219.8,86.7h0M220.1,85.5h0M220.4,91.6h0M220.7,92.3h0M221.0,83.7h0M221.3,92.8h0M221.6,93.4h0M221.9,92.1h0M222.2,89.4h0M222.4,87.3h0M222.7,87.2h0M223.0,87.6h0M223.3,92.1h0M223.5,84.6h0M223.8,88.5h0M224.1,94.1h0M224.3,89.6h0M224.6,87.8h0M224.9,96.6h0M225.1,98.0h0M225.4,88.5h0M225.6,84.8h0M225.8,90.5h0M226.1,90.1h0M226.3,84.8h0M226.6,88.8h0M226.8,92.2h0M227.0,91.3h0M227.3,90.3h0M227.5,93.2h0M227.7,92.6h0M227.9,93.9h0M228.1,96.7h0M228.3,89.2h0M228.6,94.3h0M228.8,88.6h0M229.0,86.1h0M229.2,85.6h0M229.4,95.3h0M229.6,85.1h0M229.7,87.3h0M229.9,92.8h0M230.1,82.5h0M230.3,87.6h0M230.5,83.8h0M230.7,80.5h0M230.8,84.0h0M231.0,87.4h0M231.2,85.1h0M231.3,100.7h0M231.5,84.0h0M231.6,90.0h0M231.8,90.0h0M231.9,91.3h0M232.1,88.9h0M232.2,84.4h0M232.4,87.8h0M232.5,91.6h0M232.6,81.4h0M232.8,83.8h0M232.9,84.3h0M233.0,87.3h0M233.2,84.1h0M233.3,90.0h0M233.4,90.9h0M233.5,86.9h0M233.6,89.3h0M233.7,86.8h0M233.8,88.0h0M233.9,89.5h0M234.0,93.6h0M234.1,90.2h0M234.2,89.2h0M234.3,91.0h0M234.4,89.8h0M234.4,91.0h0M234.5,96.6h0M234.6,90.0h0M234.7,84.5h0" stroke="#000" stroke-width="1.56" stroke-linecap="round" fill="none"/>
<path d="M34.3,49.1h0M34.4,48.1h0M34.5,48.0h0M34.6,52.6h0M34.6,47.0h0M34.7,49.8h0M34.8,43.7h0M34.9,47.1h0M35.0,54.7h0M35.1,48.6h0M35.2,43.0h0M35.3,44.8h0M35.4,51.6h0M35.5,53.1h0M35.6,47.9h0M35.7,48.1h0M35.8,43.4h0M36.0,48.1h0M36.1,45.9h0M36.2,44.4h0M36.4,48.7h0M36.5,49.5h0M36.6,52.6h0M36.8,54.5h0M36.9,48.6h0M37.1,47.2h0M37.2,56.7h0M37.4,52.5h0M37.5,51.5h0M37.7,47.9h0M37.8,47.6h0M38.0,43.8h0M38.2,46.8h0M38.3,47.3h0M38.5,49.0h0M38.7,50.0h0M38.9,42.9h0M39.1,51.1h0M39.3,45.1h0M39.4,46.9h0M39.6,59.6h0M39.8,49.2h0M40.0,56.2h0M40.2,55.4h0M40.4,47.5h0M40.7,52.4h0M40.9,44.9h0M41.1,46.7h0M41.3,50.2h0M41.5,62.0h0M41.7,51.8h0M42.0,50.8h0M42.2,49.1h0M42.4,49.2h0M42.7,56.1h0M42.9,54.0h0M43.2,47.4h0M43.4,54.3h0M43.6,50.6h0M43.9,42.9h0M44.1,53.1h0M44.4,45.5h0M44.7,48.2h0M44.9,52.6h0M45.2,43.9h0M45.5,40.7h0M45.7,51.0h0M46.0,41.8h0M46.3,58.5h0M46.6,56.5h0M46.8,47.1h0M47.1,49.8h0M47.4,52.1h0M47.7,50.3h0M48.0,55.2h0M48.3,54.0h0M48.6,51.8h0M48.9,54.7h0M49.2,51.1h0M49.5,54.2h0M49.8,61.4h0M50.1,47.8h0M50.4,53.9h0M50.8,49.3h0M51.1,60.9h0M51.4,49.1h0M51.7,49.9h0M52.1,55.5h0M52.4,54.3h0M52.7,57.4h0M53.1,55.0h0M53.4,47.4h0M53.7,56.9h0M54.1,49.3h0M54.4,46.2h0M54.8,49.8h0M55.1,51.6h0M55.5,49.5h0M55.9,52.3h0M56.2,51.5h0M56.6,55.6h0M56.9,53.3h0M57.3,48.3h0M57.7,47.5h0M58.0,42.9h0M58.4,49.0h0M58.8,56.1h0M59.2,48.7h0M59.6,48.7h0M59.9,43.5h0M60.3,53.0h0M60.7,44.6h0M61.1,54.7h0M61.5,42.7h0M61.9,43.9h0M62.3,49.6h0M62.7,48.6h0M63.1,51.9h0M63.5,49.0h0M63.9,52.7h0M64.3,48.0h0M64.7,61.7h0M65.2,55.5h0M65.6,54.9h0M66.0,55.1h0M66.4,52.4h0M66.8,52.5h0M67.3,50.9h0M67.7,50.9h0M68.1,56.8h0M68.6,51.3h0M69.0,52.9h0M69.4,47.6h0M69.9,54.4h0M70.3,48.8h0M70.8,58.1h0M71.2,39.0h0M71.6,46.0h0M72.1,58.8h0M72.5,52.1h0M73.0,43.9h0M73.5,48.0h0M73.9,45.4h0M74.4,46.2h0M74.8,43.6h0M75.3,54.3h0M75.8,50.2h0M76.2,50.9h0M76.7,52.2h0M77.2,45.0h0M77.6,48.2h0M78.1,53.9h0M78.6,56.5h0M79.1,48.6h0M79.5,51.4h0M80.0,50.1h0M80.5,43.6h0M81.0,48.9h0M81.5,50.4h0M82.0,45.3h0M82.5,49.6h0M82.9,47.0h0M83.4,42.8h0M83.9,46.3h0M84.4,46.2h0M84.9,50.9h0M85.4,40.8h0M85.9,48.7h0M86.4,50.5h0M86.9,49.8h0M87.4,53.0h0M87.9,41.6h0M88.5,46.2h0M89.0,44.0h0M89.5,60.1h0M90.0,47.9h0M90.5,44.4h0M91.0,44.8h0M91.5,46.0h0M92.1,50.9h0M92.6,47.2h0M93.1,50.2h0M93.6,52.6h0M94.1,45.7h0M94.7,48.5h0M95.2,46.0h0M95.7,44.8h0M96.3,41.8h0M96.8,50.7h0M97.3,43.0h0M97.9,49.0h0M98.4,49.6h0M98.9,51.7h0M99.5,45.7h0M100.0,48.6h0M100.5,40.0h0M101.1,47.1h0M101.6,48.1h0M102.2,55.1h0M102.7,46.8h0M103.2,51.4h0M103.8,48.1h0M104.3,50.9h0M104.9,50.2h0M105.4,50.4h0M106.0,42.6h0M106.5,52.2h0M107.1,44.8h0M107.6,52.1h0M108.2,53.1h0M108.7,46.2h0M109.3,40.2h0M109.8,46.1h0M110.4,46.0h0M111.0,42.2h0M111.5,45.0h0M112.1,45.0h0M112.6,51.6h0M113.2,54.0h0M113.7,54.8h0M114.3,44.7h0M114.9,46.5h0M115.4,50.1h0M116.0,42.4h0M116.6,45.4h0M117.1,56.3h0M117.7,48.9h0M118.3,45.2h0M118.8,50.1h0M119.4,48.1h0M119.9,45.6h0M120.5,44.6h0M121.1,43.5h0M121.7,55.4h0M122.2,49.3h0M122.8,52.4h0M123.4,45.6h0M123.9,47.0h0M124.5,44.7h0M125.1,45.0h0M125.6,47.1h0M126.2,46.2h0M126.8,44.0h0M127.3,49.1h0M127.9,48.6h0M128.5,41.2h0M129.1,52.5h0M129.6,41.0h0M130.2,39.6h0M130.8,44.2h0M131.4,39.4h0M131.9,51.4h0M132.5,46.1h0M133.1,38.3h0M133.6,47.2h0M134.2,43.4h0M134.8,50.1h0M135.4,50.0h0M135.9,52.8h0M136.5,48.6h0M137.1,44.9h0M137.6,50.3h0M138.2,55.6h0M138.8,40.4h0M139.4,39.4h0M139.9,49.8h0M140.5,37.8h0M141.1,42.4h0M141.7,49.9h0M142.2,53.6h0M142.8,46.4h0M143.4,49.9h0M143.9,52.5h0M144.5,41.7h0M145.1,44.3h0M145.6,45.9h0M146.2,44.9h0M146.8,51.3h0M147.3,43.9h0M147.9,47.3h0M148.5,49.1h0M149.1,45.2h0M149.6,44.4h0M150.2,47.4h0M150.7,48.8h0M151.3,52.8h0M151.9,49.0h0M152.4,47.7h0M153.0,54.0h0M153.6,42.1h0M154.1,43.9h0M154.7,37.8h0M155.3,47.9h0M155.8,50.9h0M156.4,48.7h0M156.9,50.2h0M157.5,43.1h0M158.0,52.0h0M158.6,48.1h0M159.2,51.2h0M159.7,46.8h0M160.3,53.8h0M160.8,43.1h0M161.4,49.9h0M161.9,45.2h0M162.5,46.0h0M163.0,51.1h0M163.6,49.9h0M164.1,47.2h0M164.7,53.4h0M165.2,49.2h0M165.8,48.1h0M166.3,40.8h0M166.8,54.6h0M167.4,42.4h0M167.9,46.0h0M168.5,49.2h0M169.0,43.1h0M169.5,46.1h0M170.1,43.5h0M170.6,48.7h0M171.1,45.8h0M171.7,41.5h0M172.2,51.0h0M172.7,48.8h0M173.3,53.4h0M173.8,47.4h0M174.3,48.6h0M174.9,41.0h0M175.4,44.9h0M175.9,53.7h0M176.4,49.4h0M176.9,48.3h0M177.5,56.5h0M178.0,44.1h0M178.5,46.7h0M179.0,51.2h0M179.5,51.9h0M180.0,45.2h0M180.5,45.4h0M181.1,55.6h0M181.6,53.0h0M182.1,52.3h0M182.6,54.2h0M183.1,52.7h0M183.6,50.2h0M184.1,49.7h0M184.6,48.2h0M185.1,50.7h0M185.6,48.1h0M186.1,51.2h0M186.5,48.9h0M187.0,45.3h0M187.5,50.3h0M188.0,61.8h0M188.5,51.0h0M189.0,48.4h0M189.5,51.3h0M189.9,38.6h0M190.4,50.5h0M190.9,59.8h0M191.4,47.6h0M191.8,47.5h0M192.3,47.3h0M192.8,52.3h0M193.2,44.5h0M193.7,42.5h0M194.2,54.0h0M194.6,49.9h0M195.1,52.9h0M195.5,50.7h0M196.0,51.7h0M196.5,47.7h0M196.9,53.7h0M197.4,51.4h0M197.8,47.4h0M198.2,48.2h0M198.7,42.2h0M199.1,51.1h0M199.6,52.7h0M200.0,49.0h0M200.4,46.5h0M200.9,53.5h0M201.3,48.2h0M201.7,50.5h0M202.2,49.3h0M202.6,57.3h0M203.0,54.0h0M203.4,48.2h0M203.8,49.4h0M204.3,51.8h0M204.7,50.6h0M205.1,47.6h0M205.5,53.3h0M205.9,48.2h0M206.3,45.9h0M206.7,50.7h0M207.1,51.2h0M207.5,45.4h0M207.9,51.2h0M208.3,47.8h0M208.7,52.6h0M209.1,54.8h0M209.4,49.9h0M209.8,52.6h0M210.2,48.6h0M210.6,50.6h0M211.0,55.7h0M211.3,51.6h0M211.7,47.3h0M212.1,45.9h0M212.4,51.6h0M212.8,47.5h0M213.1,54.2h0M213.5,45.9h0M213.9,52.6h0M214.2,49.8h0M214.6,51.4h0M214.9,52.7h0M215.3,53.8h0M215.6,48.7h0M215.9,47.9h0M216.3,52.5h0M216.6,50.0h0M216.9,44.0h0M217.3,45.4h0M217.6,51.4h0M217.9,47.9h0M218.2,46.7h0M218.6,53.3h0M218.9,39.0h0M219.2,39.8h0M219.5,53.5h0M219.8,44.1h0M220.1,43.0h0M220.4,49.1h0M220.7,49.8h0M221.0,41.2h0M221.3,50.2h0M221.6,50.8h0M221.9,49.5h0M222.2,46.9h0M222.4,44.8h0M222.7,44.7h0M223.0,45.1h0M223.3,49.6h0M223.5,42.1h0M223.8,46.1h0M224.1,51.6h0M224.3,47.2h0M224.6,45.3h0M224.9,54.1h0M225.1,55.6h0M225.4,46.1h0M225.6,42.4h0M225.8,48.1h0M226.1,47.7h0M226.3,42.4h0M226.6,46.4h0M226.8,49.8h0M227.0,48.9h0M227.3,47.9h0M227.5,50.8h0M227.7,50.2h0M227.9,51.6h0M228.1,54.3h0M228.3,46.9h0M228.6,52.0h0M228.8,46.2h0M229.0,43.7h0M229.2,43.3h0M229.4,53.0h0M229.6,42.8h0M229.7,45.0h0M229.9,50.5h0M230.1,40.1h0M230.3,45.3h0M230.5,41.4h0M230.7,38.2h0M230.8,41.7h0M231.0,45.1h0M231.2,42.7h0M231.3,58.4h0M231.5,41.7h0M231.6,47.7h0M231.8,47.7h0M231.9,49.0h0M232.1,46.7h0M232.2,42.1h0M232.4,45.5h0M232.5,49.4h0M232.6,39.2h0M232.8,41.5h0M232.9,42.0h0M233.0,45.0h0M233.2,41.8h0M233.3,47.7h0M233.4,48.6h0M233.5,44.6h0M233.6,47.1h0M233.7,44.6h0M233.8,45.7h0M233.9,47.3h0M234.0,51.4h0M234.1,48.0h0M234.2,46.9h0M234.3,48.7h0M234.4,47.6h0M234.4,48.8h0M234.5,54.4h0M234.6,47.7h0M234.7,42.2h0" stroke="#7c7c7c" stroke-width="1.48" stroke-linecap="round" fill="none"/>
<line x1="34.3" y1="48.4" x2="234.7" y2="48.4" stroke="#5a5a5a" stroke-width="0.55"/>
</g>
<rect x="34.3" y="23.2" width="200.39999999999998" height="168.60000000000002" fill="none" stroke="#707070" stroke-width="0.65"/>
<line x1="39.55" y1="191.8" x2="39.55" y2="189.3" stroke="#7a7a7a" stroke-width="0.6"/>
<text x="38.55" y="200.3" font-size="6.5" text-anchor="middle" fill="#111">-6</text>
<line x1="68.50" y1="191.8" x2="68.50" y2="189.3" stroke="#7a7a7a" stroke-width="0.6"/>
<text x="67.50" y="200.3" font-size="6.5" text-anchor="middle" fill="#111">-4</text>
<line x1="97.45" y1="191.8" x2="97.45" y2="189.3" stroke="#7a7a7a" stroke-width="0.6"/>
<text x="96.45" y="200.3" font-size="6.5" text-anchor="middle" fill="#111">-2</text>
<line x1="126.40" y1="191.8" x2="126.40" y2="189.3" stroke="#7a7a7a" stroke-width="0.6"/>
<text x="126.10" y="200.3" font-size="6.5" text-anchor="middle" fill="#111">0</text>
<line x1="155.35" y1="191.8" x2="155.35" y2="189.3" stroke="#7a7a7a" stroke-width="0.6"/>
<text x="155.05" y="200.3" font-size="6.5" text-anchor="middle" fill="#111">2</text>
<line x1="184.30" y1="191.8" x2="184.30" y2="189.3" stroke="#7a7a7a" stroke-width="0.6"/>
<text x="184.00" y="200.3" font-size="6.5" text-anchor="middle" fill="#111">4</text>
<line x1="213.25" y1="191.8" x2="213.25" y2="189.3" stroke="#7a7a7a" stroke-width="0.6"/>
<text x="212.95" y="200.3" font-size="6.5" text-anchor="middle" fill="#111">6</text>
<line x1="34.3" y1="34.40" x2="36.8" y2="34.40" stroke="#7a7a7a" stroke-width="0.6"/>
<text x="29.699999999999996" y="41.20" font-size="6.5" text-anchor="end" fill="#111">6.0</text>
<line x1="34.3" y1="69.50" x2="36.8" y2="69.50" stroke="#7a7a7a" stroke-width="0.6"/>
<text x="29.699999999999996" y="75.20" font-size="6.5" text-anchor="end" fill="#111">5.5</text>
<line x1="34.3" y1="104.60" x2="36.8" y2="104.60" stroke="#7a7a7a" stroke-width="0.6"/>
<text x="29.699999999999996" y="109.20" font-size="6.5" text-anchor="end" fill="#111">5.0</text>
<line x1="34.3" y1="139.70" x2="36.8" y2="139.70" stroke="#7a7a7a" stroke-width="0.6"/>
<text x="29.699999999999996" y="143.20" font-size="6.5" text-anchor="end" fill="#111">4.5</text>
<line x1="34.3" y1="174.80" x2="36.8" y2="174.80" stroke="#7a7a7a" stroke-width="0.6"/>
<text x="29.699999999999996" y="177.20" font-size="6.5" text-anchor="end" fill="#111">4.0</text>
<text x="134.5" y="210" font-size="9.4" text-anchor="middle" fill="#0a0a0a">velocity (mm/s)</text>
<text transform="translate(12.9,104.8) rotate(-90)" font-size="9.2" text-anchor="middle" fill="#0a0a0a">counts (×10<tspan font-size="5.2" dy="-3">4</tspan><tspan dy="3">)</tspan></text>
<text transform="translate(48,180.7) scale(0.86,1)" font-size="16.8" font-weight="bold" fill="#000">a</text>
<text x="228.6" y="179.6" font-size="14" text-anchor="end" fill="#0a0a0a">50 GPa</text>
<clipPath id="clip12"><rect x="261.2" y="23.2" width="200.7" height="168.60000000000002"/></clipPath>
<g clip-path="url(#clip12)">
<path d="M261.20,84.19 L261.70,84.20 L262.20,84.21 L262.70,84.22 L263.20,84.22 L263.70,84.23 L264.20,84.24 L264.70,84.25 L265.20,84.26 L265.70,84.27 L266.20,84.28 L266.70,84.29 L267.20,84.30 L267.70,84.31 L268.20,84.32 L268.70,84.33 L269.20,84.34 L269.70,84.35 L270.20,84.36 L270.70,84.37 L271.20,84.38 L271.70,84.39 L272.20,84.40 L272.70,84.41 L273.20,84.42 L273.70,84.43 L274.20,84.45 L274.70,84.46 L275.20,84.47 L275.70,84.48 L276.20,84.50 L276.70,84.51 L277.20,84.52 L277.70,84.54 L278.20,84.55 L278.70,84.56 L279.20,84.58 L279.70,84.59 L280.20,84.61 L280.70,84.62 L281.20,84.64 L281.70,84.65 L282.20,84.67 L282.70,84.69 L283.20,84.70 L283.70,84.72 L284.20,84.74 L284.70,84.76 L285.20,84.77 L285.70,84.79 L286.20,84.81 L286.70,84.83 L287.20,84.85 L287.70,84.87 L288.20,84.89 L288.70,84.91 L289.20,84.93 L289.70,84.95 L290.20,84.98 L290.70,85.00 L291.20,85.02 L291.70,85.05 L292.20,85.07 L292.70,85.09 L293.20,85.12 L293.70,85.15 L294.20,85.17 L294.70,85.20 L295.20,85.23 L295.70,85.26 L296.20,85.29 L296.70,85.32 L297.20,85.35 L297.70,85.38 L298.20,85.41 L298.70,85.44 L299.20,85.48 L299.70,85.51 L300.20,85.55 L300.70,85.58 L301.20,85.62 L301.70,85.66 L302.20,85.70 L302.70,85.74 L303.20,85.78 L303.70,85.82 L304.20,85.87 L304.70,85.91 L305.20,85.96 L305.70,86.01 L306.20,86.06 L306.70,86.11 L307.20,86.16 L307.70,86.21 L308.20,86.27 L308.70,86.33 L309.20,86.39 L309.70,86.45 L310.20,86.51 L310.70,86.57 L311.20,86.64 L311.70,86.71 L312.20,86.78 L312.70,86.85 L313.20,86.93 L313.70,87.01 L314.20,87.09 L314.70,87.17 L315.20,87.26 L315.70,87.35 L316.20,87.44 L316.70,87.54 L317.20,87.64 L317.70,87.74 L318.20,87.85 L318.70,87.96 L319.20,88.08 L319.70,88.20 L320.20,88.33 L320.70,88.46 L321.20,88.59 L321.70,88.73 L322.20,88.88 L322.70,89.03 L323.20,89.19 L323.70,89.36 L324.20,89.53 L324.70,89.72 L325.20,89.91 L325.70,90.10 L326.20,90.31 L326.70,90.53 L327.20,90.76 L327.70,91.00 L328.20,91.25 L328.70,91.51 L329.20,91.79 L329.70,92.08 L330.20,92.38 L330.70,92.70 L331.20,93.04 L331.70,93.39 L332.20,93.77 L332.70,94.16 L333.20,94.58 L333.70,95.02 L334.20,95.48 L334.70,95.97 L335.20,96.49 L335.70,97.03 L336.20,97.61 L336.70,98.22 L337.20,98.87 L337.70,99.56 L338.20,100.28 L338.70,101.04 L339.20,101.85 L339.70,102.70 L340.20,103.60 L340.70,104.55 L341.20,105.55 L341.70,106.60 L342.20,107.70 L342.70,108.85 L343.20,110.04 L343.70,111.28 L344.20,112.56 L344.70,113.88 L345.20,115.22 L345.70,116.57 L346.20,117.93 L346.70,119.28 L347.20,120.60 L347.70,121.87 L348.20,123.07 L348.70,124.18 L349.20,125.18 L349.70,126.05 L350.20,126.76 L350.70,127.31 L351.20,127.68 L351.70,127.87 L352.20,127.87 L352.70,127.68 L353.20,127.32 L353.70,126.80 L354.20,126.14 L354.70,125.36 L355.20,124.48 L355.70,123.53 L356.20,122.51 L356.70,121.47 L357.20,120.41 L357.70,119.35 L358.20,118.31 L358.70,117.30 L359.20,116.33 L359.70,115.40 L360.20,114.53 L360.70,113.72 L361.20,112.97 L361.70,112.29 L362.20,111.68 L362.70,111.13 L363.20,110.65 L363.70,110.24 L364.20,109.90 L364.70,109.63 L365.20,109.43 L365.70,109.30 L366.20,109.23 L366.70,109.24 L367.20,109.31 L367.70,109.45 L368.20,109.66 L368.70,109.94 L369.20,110.29 L369.70,110.70 L370.20,111.19 L370.70,111.74 L371.20,112.36 L371.70,113.05 L372.20,113.81 L372.70,114.62 L373.20,115.50 L373.70,116.42 L374.20,117.40 L374.70,118.41 L375.20,119.44 L375.70,120.50 L376.20,121.55 L376.70,122.58 L377.20,123.58 L377.70,124.51 L378.20,125.37 L378.70,126.12 L379.20,126.75 L379.70,127.23 L380.20,127.56 L380.70,127.70 L381.20,127.67 L381.70,127.44 L382.20,127.04 L382.70,126.46 L383.20,125.71 L383.70,124.82 L384.20,123.80 L384.70,122.67 L385.20,121.46 L385.70,120.18 L386.20,118.86 L386.70,117.52 L387.20,116.17 L387.70,114.82 L388.20,113.49 L388.70,112.19 L389.20,110.92 L389.70,109.70 L390.20,108.51 L390.70,107.38 L391.20,106.30 L391.70,105.26 L392.20,104.28 L392.70,103.34 L393.20,102.46 L393.70,101.62 L394.20,100.82 L394.70,100.07 L395.20,99.36 L395.70,98.68 L396.20,98.05 L396.70,97.44 L397.20,96.87 L397.70,96.34 L398.20,95.83 L398.70,95.34 L399.20,94.89 L399.70,94.45 L400.20,94.04 L400.70,93.66 L401.20,93.29 L401.70,92.94 L402.20,92.61 L402.70,92.29 L403.20,91.99 L403.70,91.70 L404.20,91.43 L404.70,91.17 L405.20,90.92 L405.70,90.69 L406.20,90.46 L406.70,90.25 L407.20,90.04 L407.70,89.85 L408.20,89.66 L408.70,89.48 L409.20,89.31 L409.70,89.14 L410.20,88.99 L410.70,88.83 L411.20,88.69 L411.70,88.55 L412.20,88.41 L412.70,88.29 L413.20,88.16 L413.70,88.04 L414.20,87.93 L414.70,87.82 L415.20,87.71 L415.70,87.61 L416.20,87.51 L416.70,87.41 L417.20,87.32 L417.70,87.23 L418.20,87.15 L418.70,87.06 L419.20,86.98 L419.70,86.91 L420.20,86.83 L420.70,86.76 L421.20,86.69 L421.70,86.62 L422.20,86.55 L422.70,86.49 L423.20,86.43 L423.70,86.37 L424.20,86.31 L424.70,86.25 L425.20,86.20 L425.70,86.14 L426.20,86.09 L426.70,86.04 L427.20,85.99 L427.70,85.95 L428.20,85.90 L428.70,85.85 L429.20,85.81 L429.70,85.77 L430.20,85.73 L430.70,85.69 L431.20,85.65 L431.70,85.61 L432.20,85.57 L432.70,85.54 L433.20,85.50 L433.70,85.47 L434.20,85.43 L434.70,85.40 L435.20,85.37 L435.70,85.34 L436.20,85.31 L436.70,85.28 L437.20,85.25 L437.70,85.22 L438.20,85.19 L438.70,85.16 L439.20,85.14 L439.70,85.11 L440.20,85.09 L440.70,85.06 L441.20,85.04 L441.70,85.01 L442.20,84.99 L442.70,84.97 L443.20,84.95 L443.70,84.92 L444.20,84.90 L444.70,84.88 L445.20,84.86 L445.70,84.84 L446.20,84.82 L446.70,84.80 L447.20,84.79 L447.70,84.77 L448.20,84.75 L448.70,84.73 L449.20,84.71 L449.70,84.70 L450.20,84.68 L450.70,84.66 L451.20,84.65 L451.70,84.63 L452.20,84.62 L452.70,84.60 L453.20,84.59 L453.70,84.57 L454.20,84.56 L454.70,84.55 L455.20,84.53 L455.70,84.52 L456.20,84.51 L456.70,84.49 L457.20,84.48 L457.70,84.47 L458.20,84.45 L458.70,84.44 L459.20,84.43 L459.70,84.42 L460.20,84.41 L460.70,84.40 L461.20,84.39 L461.70,84.37 L461.9,83.4 L261.2,83.4 Z" fill="#22A74A" stroke="#222" stroke-opacity="0.6" stroke-width="0.45"/>
<path d="M261.20,83.59 L261.70,83.59 L262.20,83.60 L262.70,83.60 L263.20,83.60 L263.70,83.60 L264.20,83.60 L264.70,83.61 L265.20,83.61 L265.70,83.61 L266.20,83.61 L266.70,83.62 L267.20,83.62 L267.70,83.62 L268.20,83.62 L268.70,83.63 L269.20,83.63 L269.70,83.63 L270.20,83.63 L270.70,83.64 L271.20,83.64 L271.70,83.64 L272.20,83.64 L272.70,83.65 L273.20,83.65 L273.70,83.65 L274.20,83.66 L274.70,83.66 L275.20,83.66 L275.70,83.67 L276.20,83.67 L276.70,83.67 L277.20,83.67 L277.70,83.68 L278.20,83.68 L278.70,83.69 L279.20,83.69 L279.70,83.69 L280.20,83.70 L280.70,83.70 L281.20,83.70 L281.70,83.71 L282.20,83.71 L282.70,83.72 L283.20,83.72 L283.70,83.72 L284.20,83.73 L284.70,83.73 L285.20,83.74 L285.70,83.74 L286.20,83.75 L286.70,83.75 L287.20,83.76 L287.70,83.76 L288.20,83.77 L288.70,83.77 L289.20,83.78 L289.70,83.78 L290.20,83.79 L290.70,83.80 L291.20,83.80 L291.70,83.81 L292.20,83.81 L292.70,83.82 L293.20,83.83 L293.70,83.83 L294.20,83.84 L294.70,83.85 L295.20,83.85 L295.70,83.86 L296.20,83.87 L296.70,83.88 L297.20,83.88 L297.70,83.89 L298.20,83.90 L298.70,83.91 L299.20,83.92 L299.70,83.93 L300.20,83.93 L300.70,83.94 L301.20,83.95 L301.70,83.96 L302.20,83.97 L302.70,83.98 L303.20,83.99 L303.70,84.00 L304.20,84.02 L304.70,84.03 L305.20,84.04 L305.70,84.05 L306.20,84.06 L306.70,84.08 L307.20,84.09 L307.70,84.10 L308.20,84.12 L308.70,84.13 L309.20,84.15 L309.70,84.16 L310.20,84.18 L310.70,84.20 L311.20,84.21 L311.70,84.23 L312.20,84.25 L312.70,84.27 L313.20,84.29 L313.70,84.31 L314.20,84.33 L314.70,84.35 L315.20,84.37 L315.70,84.39 L316.20,84.42 L316.70,84.44 L317.20,84.47 L317.70,84.50 L318.20,84.52 L318.70,84.55 L319.20,84.58 L319.70,84.61 L320.20,84.65 L320.70,84.68 L321.20,84.71 L321.70,84.75 L322.20,84.79 L322.70,84.83 L323.20,84.87 L323.70,84.91 L324.20,84.96 L324.70,85.01 L325.20,85.06 L325.70,85.11 L326.20,85.16 L326.70,85.22 L327.20,85.28 L327.70,85.34 L328.20,85.41 L328.70,85.48 L329.20,85.55 L329.70,85.63 L330.20,85.71 L330.70,85.80 L331.20,85.89 L331.70,85.99 L332.20,86.09 L332.70,86.20 L333.20,86.32 L333.70,86.44 L334.20,86.57 L334.70,86.71 L335.20,86.86 L335.70,87.02 L336.20,87.19 L336.70,87.37 L337.20,87.57 L337.70,87.78 L338.20,88.00 L338.70,88.25 L339.20,88.51 L339.70,88.79 L340.20,89.10 L340.70,89.43 L341.20,89.79 L341.70,90.19 L342.20,90.61 L342.70,91.07 L343.20,91.58 L343.70,92.13 L344.20,92.73 L344.70,93.38 L345.20,94.09 L345.70,94.86 L346.20,95.70 L346.70,96.60 L347.20,97.57 L347.70,98.60 L348.20,99.69 L348.70,100.83 L349.20,102.00 L349.70,103.17 L350.20,104.33 L350.70,105.43 L351.20,106.42 L351.70,107.28 L352.20,107.96 L352.70,108.44 L353.20,108.69 L353.70,108.72 L354.20,108.55 L354.70,108.20 L355.20,107.71 L355.70,107.14 L356.20,106.52 L356.70,105.89 L357.20,105.30 L357.70,104.77 L358.20,104.32 L358.70,103.97 L359.20,103.74 L359.70,103.62 L360.20,103.62 L360.70,103.74 L361.20,103.97 L361.70,104.32 L362.20,104.77 L362.70,105.30 L363.20,105.89 L363.70,106.52 L364.20,107.14 L364.70,107.71 L365.20,108.20 L365.70,108.55 L366.20,108.72 L366.70,108.69 L367.20,108.44 L367.70,107.96 L368.20,107.28 L368.70,106.42 L369.20,105.43 L369.70,104.33 L370.20,103.17 L370.70,102.00 L371.20,100.83 L371.70,99.69 L372.20,98.60 L372.70,97.57 L373.20,96.60 L373.70,95.70 L374.20,94.86 L374.70,94.09 L375.20,93.38 L375.70,92.73 L376.20,92.13 L376.70,91.58 L377.20,91.07 L377.70,90.61 L378.20,90.19 L378.70,89.79 L379.20,89.43 L379.70,89.10 L380.20,88.79 L380.70,88.51 L381.20,88.25 L381.70,88.00 L382.20,87.78 L382.70,87.57 L383.20,87.37 L383.70,87.19 L384.20,87.02 L384.70,86.86 L385.20,86.71 L385.70,86.57 L386.20,86.44 L386.70,86.32 L387.20,86.20 L387.70,86.09 L388.20,85.99 L388.70,85.89 L389.20,85.80 L389.70,85.71 L390.20,85.63 L390.70,85.55 L391.20,85.48 L391.70,85.41 L392.20,85.34 L392.70,85.28 L393.20,85.22 L393.70,85.16 L394.20,85.11 L394.70,85.06 L395.20,85.01 L395.70,84.96 L396.20,84.91 L396.70,84.87 L397.20,84.83 L397.70,84.79 L398.20,84.75 L398.70,84.71 L399.20,84.68 L399.70,84.65 L400.20,84.61 L400.70,84.58 L401.20,84.55 L401.70,84.52 L402.20,84.50 L402.70,84.47 L403.20,84.44 L403.70,84.42 L404.20,84.39 L404.70,84.37 L405.20,84.35 L405.70,84.33 L406.20,84.31 L406.70,84.29 L407.20,84.27 L407.70,84.25 L408.20,84.23 L408.70,84.21 L409.20,84.20 L409.70,84.18 L410.20,84.16 L410.70,84.15 L411.20,84.13 L411.70,84.12 L412.20,84.10 L412.70,84.09 L413.20,84.08 L413.70,84.06 L414.20,84.05 L414.70,84.04 L415.20,84.03 L415.70,84.02 L416.20,84.00 L416.70,83.99 L417.20,83.98 L417.70,83.97 L418.20,83.96 L418.70,83.95 L419.20,83.94 L419.70,83.93 L420.20,83.93 L420.70,83.92 L421.20,83.91 L421.70,83.90 L422.20,83.89 L422.70,83.88 L423.20,83.88 L423.70,83.87 L424.20,83.86 L424.70,83.85 L425.20,83.85 L425.70,83.84 L426.20,83.83 L426.70,83.83 L427.20,83.82 L427.70,83.81 L428.20,83.81 L428.70,83.80 L429.20,83.80 L429.70,83.79 L430.20,83.78 L430.70,83.78 L431.20,83.77 L431.70,83.77 L432.20,83.76 L432.70,83.76 L433.20,83.75 L433.70,83.75 L434.20,83.74 L434.70,83.74 L435.20,83.73 L435.70,83.73 L436.20,83.72 L436.70,83.72 L437.20,83.72 L437.70,83.71 L438.20,83.71 L438.70,83.70 L439.20,83.70 L439.70,83.70 L440.20,83.69 L440.70,83.69 L441.20,83.69 L441.70,83.68 L442.20,83.68 L442.70,83.67 L443.20,83.67 L443.70,83.67 L444.20,83.67 L444.70,83.66 L445.20,83.66 L445.70,83.66 L446.20,83.65 L446.70,83.65 L447.20,83.65 L447.70,83.64 L448.20,83.64 L448.70,83.64 L449.20,83.64 L449.70,83.63 L450.20,83.63 L450.70,83.63 L451.20,83.63 L451.70,83.62 L452.20,83.62 L452.70,83.62 L453.20,83.62 L453.70,83.61 L454.20,83.61 L454.70,83.61 L455.20,83.61 L455.70,83.60 L456.20,83.60 L456.70,83.60 L457.20,83.60 L457.70,83.60 L458.20,83.59 L458.70,83.59 L459.20,83.59 L459.70,83.59 L460.20,83.59 L460.70,83.58 L461.20,83.58 L461.70,83.58 L461.9,83.4 L261.2,83.4 Z" fill="#219FDB" stroke="#222" stroke-opacity="0.6" stroke-width="0.45"/>
<path d="M261.20,84.38 L261.70,84.39 L262.20,84.40 L262.70,84.41 L263.20,84.43 L263.70,84.44 L264.20,84.45 L264.70,84.46 L265.20,84.47 L265.70,84.48 L266.20,84.49 L266.70,84.50 L267.20,84.51 L267.70,84.53 L268.20,84.54 L268.70,84.55 L269.20,84.56 L269.70,84.58 L270.20,84.59 L270.70,84.60 L271.20,84.62 L271.70,84.63 L272.20,84.64 L272.70,84.66 L273.20,84.67 L273.70,84.69 L274.20,84.70 L274.70,84.72 L275.20,84.73 L275.70,84.75 L276.20,84.76 L276.70,84.78 L277.20,84.80 L277.70,84.81 L278.20,84.83 L278.70,84.85 L279.20,84.87 L279.70,84.89 L280.20,84.90 L280.70,84.92 L281.20,84.94 L281.70,84.96 L282.20,84.98 L282.70,85.00 L283.20,85.02 L283.70,85.04 L284.20,85.07 L284.70,85.09 L285.20,85.11 L285.70,85.13 L286.20,85.16 L286.70,85.18 L287.20,85.21 L287.70,85.23 L288.20,85.26 L288.70,85.28 L289.20,85.31 L289.70,85.34 L290.20,85.37 L290.70,85.39 L291.20,85.42 L291.70,85.45 L292.20,85.48 L292.70,85.51 L293.20,85.55 L293.70,85.58 L294.20,85.61 L294.70,85.65 L295.20,85.68 L295.70,85.72 L296.20,85.75 L296.70,85.79 L297.20,85.83 L297.70,85.87 L298.20,85.91 L298.70,85.95 L299.20,85.99 L299.70,86.04 L300.20,86.08 L300.70,86.13 L301.20,86.17 L301.70,86.22 L302.20,86.27 L302.70,86.32 L303.20,86.38 L303.70,86.43 L304.20,86.48 L304.70,86.54 L305.20,86.60 L305.70,86.66 L306.20,86.72 L306.70,86.79 L307.20,86.85 L307.70,86.92 L308.20,86.99 L308.70,87.06 L309.20,87.13 L309.70,87.21 L310.20,87.29 L310.70,87.37 L311.20,87.45 L311.70,87.54 L312.20,87.63 L312.70,87.72 L313.20,87.82 L313.70,87.92 L314.20,88.02 L314.70,88.13 L315.20,88.24 L315.70,88.37 L316.20,88.50 L316.70,88.64 L317.20,88.80 L317.70,88.96 L318.20,89.13 L318.70,89.30 L319.20,89.49 L319.70,89.69 L320.20,89.90 L320.70,90.11 L321.20,90.34 L321.70,90.58 L322.20,90.82 L322.70,91.08 L323.20,91.35 L323.70,91.63 L324.20,91.93 L324.70,92.23 L325.20,92.55 L325.70,92.88 L326.20,93.23 L326.70,93.59 L327.20,93.96 L327.70,94.35 L328.20,94.76 L328.70,95.19 L329.20,95.63 L329.70,96.09 L330.20,96.57 L330.70,97.08 L331.20,97.60 L331.70,98.15 L332.20,98.73 L332.70,99.34 L333.20,100.00 L333.70,100.68 L334.20,101.40 L334.70,102.16 L335.20,102.96 L335.70,103.81 L336.20,104.71 L336.70,105.69 L337.20,106.73 L337.70,107.86 L338.20,109.08 L338.70,110.38 L339.20,111.77 L339.70,113.24 L340.20,114.77 L340.70,116.37 L341.20,118.05 L341.70,119.79 L342.20,121.61 L342.70,123.50 L343.20,125.44 L343.70,127.43 L344.20,129.45 L344.70,131.48 L345.20,133.49 L345.70,135.47 L346.20,137.40 L346.70,139.28 L347.20,141.10 L347.70,142.87 L348.20,144.60 L348.70,146.29 L349.20,147.95 L349.70,149.56 L350.20,151.07 L350.70,152.39 L351.20,153.43 L351.70,154.07 L352.20,154.23 L352.70,153.90 L353.20,153.13 L353.70,152.02 L354.20,150.67 L354.70,149.19 L355.20,147.66 L355.70,146.12 L356.20,144.61 L356.70,143.14 L357.20,141.72 L357.70,140.38 L358.20,139.12 L358.70,137.96 L359.20,136.90 L359.70,135.97 L360.20,135.19 L360.70,134.56 L361.20,134.09 L361.70,133.78 L362.20,133.62 L362.70,133.60 L363.20,133.71 L363.70,133.95 L364.20,134.29 L364.70,134.72 L365.20,135.17 L365.70,135.57 L366.20,135.80 L366.70,135.81 L367.20,135.57 L367.70,135.11 L368.20,134.50 L368.70,133.80 L369.20,133.06 L369.70,132.33 L370.20,131.64 L370.70,131.00 L371.20,130.42 L371.70,129.91 L372.20,129.48 L372.70,129.12 L373.20,128.85 L373.70,128.67 L374.20,128.58 L374.70,128.58 L375.20,128.65 L375.70,128.79 L376.20,129.00 L376.70,129.26 L377.20,129.58 L377.70,129.93 L378.20,130.33 L378.70,130.75 L379.20,131.18 L379.70,131.60 L380.20,131.98 L380.70,132.29 L381.20,132.51 L381.70,132.61 L382.20,132.55 L382.70,132.32 L383.20,131.89 L383.70,131.26 L384.20,130.45 L384.70,129.49 L385.20,128.41 L385.70,127.23 L386.20,125.99 L386.70,124.70 L387.20,123.37 L387.70,122.02 L388.20,120.68 L388.70,119.35 L389.20,118.04 L389.70,116.76 L390.20,115.51 L390.70,114.28 L391.20,113.09 L391.70,111.93 L392.20,110.80 L392.70,109.70 L393.20,108.64 L393.70,107.62 L394.20,106.65 L394.70,105.73 L395.20,104.86 L395.70,104.04 L396.20,103.28 L396.70,102.56 L397.20,101.87 L397.70,101.23 L398.20,100.61 L398.70,100.02 L399.20,99.46 L399.70,98.91 L400.20,98.39 L400.70,97.89 L401.20,97.40 L401.70,96.93 L402.20,96.47 L402.70,96.03 L403.20,95.59 L403.70,95.17 L404.20,94.77 L404.70,94.37 L405.20,93.99 L405.70,93.61 L406.20,93.25 L406.70,92.90 L407.20,92.55 L407.70,92.22 L408.20,91.90 L408.70,91.59 L409.20,91.28 L409.70,90.99 L410.20,90.71 L410.70,90.44 L411.20,90.18 L411.70,89.93 L412.20,89.69 L412.70,89.46 L413.20,89.24 L413.70,89.03 L414.20,88.84 L414.70,88.65 L415.20,88.48 L415.70,88.32 L416.20,88.17 L416.70,88.04 L417.20,87.92 L417.70,87.81 L418.20,87.71 L418.70,87.62 L419.20,87.53 L419.70,87.44 L420.20,87.36 L420.70,87.27 L421.20,87.20 L421.70,87.12 L422.20,87.04 L422.70,86.97 L423.20,86.90 L423.70,86.84 L424.20,86.77 L424.70,86.71 L425.20,86.64 L425.70,86.58 L426.20,86.52 L426.70,86.47 L427.20,86.41 L427.70,86.36 L428.20,86.31 L428.70,86.26 L429.20,86.21 L429.70,86.16 L430.20,86.11 L430.70,86.06 L431.20,86.02 L431.70,85.98 L432.20,85.93 L432.70,85.89 L433.20,85.85 L433.70,85.81 L434.20,85.78 L434.70,85.74 L435.20,85.70 L435.70,85.67 L436.20,85.63 L436.70,85.60 L437.20,85.56 L437.70,85.53 L438.20,85.50 L438.70,85.47 L439.20,85.44 L439.70,85.41 L440.20,85.38 L440.70,85.35 L441.20,85.32 L441.70,85.30 L442.20,85.27 L442.70,85.24 L443.20,85.22 L443.70,85.19 L444.20,85.17 L444.70,85.14 L445.20,85.12 L445.70,85.10 L446.20,85.08 L446.70,85.05 L447.20,85.03 L447.70,85.01 L448.20,84.99 L448.70,84.97 L449.20,84.95 L449.70,84.93 L450.20,84.91 L450.70,84.89 L451.20,84.87 L451.70,84.86 L452.20,84.84 L452.70,84.82 L453.20,84.80 L453.70,84.79 L454.20,84.77 L454.70,84.75 L455.20,84.74 L455.70,84.72 L456.20,84.71 L456.70,84.69 L457.20,84.68 L457.70,84.66 L458.20,84.65 L458.70,84.63 L459.20,84.62 L459.70,84.61 L460.20,84.59 L460.70,84.58 L461.20,84.57 L461.70,84.56" fill="none" stroke="#FFE51A" stroke-width="1.75" stroke-linejoin="round"/>
<path d="M261.2,82.6h0M261.3,81.6h0M261.4,84.7h0M261.5,76.8h0M261.5,85.0h0M261.6,76.0h0M261.7,82.4h0M261.8,82.8h0M261.9,82.6h0M262.0,88.0h0M262.1,74.1h0M262.2,84.4h0M262.3,89.5h0M262.4,84.6h0M262.5,83.5h0M262.6,96.7h0M262.8,88.6h0M262.9,90.2h0M263.0,90.4h0M263.1,92.5h0M263.3,95.9h0M263.4,88.5h0M263.5,88.0h0M263.7,89.8h0M263.8,85.9h0M264.0,84.3h0M264.1,90.0h0M264.3,88.9h0M264.4,92.6h0M264.6,85.7h0M264.7,88.6h0M264.9,80.8h0M265.1,84.6h0M265.3,81.7h0M265.4,84.2h0M265.6,87.0h0M265.8,88.6h0M266.0,91.0h0M266.2,83.4h0M266.4,80.5h0M266.5,88.3h0M266.7,95.1h0M266.9,83.2h0M267.1,82.5h0M267.4,81.7h0M267.6,89.2h0M267.8,83.5h0M268.0,79.2h0M268.2,92.5h0M268.4,89.4h0M268.7,81.9h0M268.9,83.4h0M269.1,86.4h0M269.3,83.2h0M269.6,84.8h0M269.8,93.2h0M270.1,86.8h0M270.3,88.1h0M270.6,83.3h0M270.8,81.8h0M271.1,87.9h0M271.3,88.1h0M271.6,86.9h0M271.8,89.3h0M272.1,86.4h0M272.4,84.5h0M272.6,78.1h0M272.9,90.6h0M273.2,89.3h0M273.5,88.5h0M273.8,87.9h0M274.0,86.6h0M274.3,88.0h0M274.6,88.4h0M274.9,86.3h0M275.2,93.5h0M275.5,89.4h0M275.8,91.5h0M276.1,75.1h0M276.4,91.0h0M276.7,99.3h0M277.1,78.2h0M277.4,83.0h0M277.7,77.6h0M278.0,85.5h0M278.3,86.0h0M278.7,87.2h0M279.0,95.6h0M279.3,89.6h0M279.7,83.9h0M280.0,85.4h0M280.3,84.5h0M280.7,80.2h0M281.0,88.6h0M281.4,85.2h0M281.7,90.0h0M282.1,89.4h0M282.4,84.3h0M282.8,86.4h0M283.1,84.5h0M283.5,91.1h0M283.9,95.8h0M284.2,83.4h0M284.6,88.2h0M285.0,90.7h0M285.4,90.0h0M285.7,93.7h0M286.1,94.5h0M286.5,89.9h0M286.9,80.7h0M287.3,93.5h0M287.7,86.4h0M288.1,88.3h0M288.4,81.8h0M288.8,92.5h0M289.2,85.4h0M289.6,86.5h0M290.1,82.4h0M290.5,88.3h0M290.9,90.5h0M291.3,88.5h0M291.7,89.4h0M292.1,84.2h0M292.5,85.6h0M292.9,82.3h0M293.4,75.0h0M293.8,83.5h0M294.2,85.5h0M294.6,90.9h0M295.1,83.7h0M295.5,92.8h0M295.9,77.4h0M296.4,81.2h0M296.8,80.1h0M297.3,79.9h0M297.7,82.7h0M298.2,90.7h0M298.6,81.3h0M299.0,84.5h0M299.5,88.9h0M300.0,86.3h0M300.4,85.3h0M300.9,87.0h0M301.3,89.3h0M301.8,85.6h0M302.3,90.4h0M302.7,87.7h0M303.2,90.9h0M303.7,78.9h0M304.1,85.6h0M304.6,95.2h0M305.1,87.0h0M305.5,86.7h0M306.0,82.9h0M306.5,80.6h0M307.0,88.1h0M307.5,86.4h0M308.0,86.3h0M308.4,90.4h0M308.9,83.2h0M309.4,90.2h0M309.9,95.9h0M310.4,90.5h0M310.9,93.6h0M311.4,80.8h0M311.9,90.6h0M312.4,97.8h0M312.9,92.2h0M313.4,86.4h0M313.9,86.1h0M314.4,89.7h0M314.9,92.1h0M315.4,84.5h0M315.9,89.7h0M316.5,90.0h0M317.0,83.7h0M317.5,85.8h0M318.0,88.0h0M318.5,93.2h0M319.0,93.3h0M319.6,89.9h0M320.1,89.6h0M320.6,88.9h0M321.1,91.5h0M321.7,94.7h0M322.2,91.9h0M322.7,92.9h0M323.2,90.8h0M323.8,86.7h0M324.3,92.5h0M324.8,104.1h0M325.4,94.4h0M325.9,90.1h0M326.5,91.4h0M327.0,94.7h0M327.5,92.3h0M328.1,98.6h0M328.6,90.8h0M329.2,92.1h0M329.7,100.2h0M330.2,100.4h0M330.8,100.0h0M331.3,90.2h0M331.9,103.6h0M332.4,99.1h0M333.0,92.8h0M333.5,105.1h0M334.1,106.5h0M334.6,98.7h0M335.2,90.0h0M335.7,104.0h0M336.3,111.5h0M336.9,103.3h0M337.4,105.3h0M338.0,98.4h0M338.5,104.1h0M339.1,108.1h0M339.6,107.1h0M340.2,119.7h0M340.8,112.2h0M341.3,121.8h0M341.9,115.8h0M342.5,120.5h0M343.0,133.1h0M343.6,132.4h0M344.1,136.5h0M344.7,131.7h0M345.3,128.6h0M345.8,130.2h0M346.4,135.3h0M347.0,144.2h0M347.5,145.9h0M348.1,144.5h0M348.7,140.9h0M349.3,145.9h0M349.8,157.7h0M350.4,151.1h0M351.0,149.1h0M351.5,150.8h0M352.1,155.6h0M352.7,150.7h0M353.2,150.4h0M353.8,149.8h0M354.4,147.5h0M355.0,153.7h0M355.5,152.4h0M356.1,152.2h0M356.7,154.3h0M357.3,148.1h0M357.8,145.0h0M358.4,140.1h0M359.0,136.3h0M359.5,139.6h0M360.1,143.2h0M360.7,140.4h0M361.3,136.1h0M361.8,134.2h0M362.4,139.0h0M363.0,137.1h0M363.6,138.9h0M364.1,135.0h0M364.7,136.9h0M365.3,129.8h0M365.8,136.3h0M366.4,133.3h0M367.0,141.2h0M367.6,138.6h0M368.1,142.4h0M368.7,140.7h0M369.3,130.0h0M369.9,127.2h0M370.4,129.4h0M371.0,132.4h0M371.6,121.7h0M372.1,138.8h0M372.7,132.8h0M373.3,133.0h0M373.8,130.9h0M374.4,126.8h0M375.0,126.0h0M375.6,130.7h0M376.1,119.1h0M376.7,127.8h0M377.3,126.1h0M377.8,123.4h0M378.4,131.2h0M379.0,125.5h0M379.5,129.3h0M380.1,126.7h0M380.6,140.7h0M381.2,121.5h0M381.8,133.5h0M382.3,122.2h0M382.9,138.8h0M383.5,124.9h0M384.0,124.1h0M384.6,137.8h0M385.1,127.0h0M385.7,121.8h0M386.2,132.8h0M386.8,123.3h0M387.4,122.3h0M387.9,118.2h0M388.5,119.3h0M389.0,115.0h0M389.6,123.5h0M390.1,116.6h0M390.7,114.4h0M391.2,107.8h0M391.8,108.9h0M392.3,107.5h0M392.9,109.3h0M393.4,103.1h0M393.9,101.7h0M394.5,103.7h0M395.0,104.2h0M395.6,96.0h0M396.1,103.3h0M396.6,101.0h0M397.2,96.5h0M397.7,100.3h0M398.3,99.6h0M398.8,94.3h0M399.3,104.8h0M399.9,96.4h0M400.4,103.4h0M400.9,96.3h0M401.4,98.0h0M402.0,93.9h0M402.5,97.9h0M403.0,95.9h0M403.5,93.0h0M404.1,94.2h0M404.6,91.9h0M405.1,96.6h0M405.6,92.1h0M406.1,100.5h0M406.6,95.4h0M407.2,83.6h0M407.7,93.6h0M408.2,90.7h0M408.7,88.0h0M409.2,88.7h0M409.7,88.8h0M410.2,93.3h0M410.7,90.9h0M411.2,90.4h0M411.7,86.2h0M412.2,90.1h0M412.7,88.2h0M413.2,94.5h0M413.7,88.1h0M414.2,86.0h0M414.7,83.3h0M415.1,91.5h0M415.6,87.3h0M416.1,85.4h0M416.6,81.5h0M417.1,92.4h0M417.6,91.9h0M418.0,86.3h0M418.5,92.8h0M419.0,89.6h0M419.4,99.7h0M419.9,96.9h0M420.4,84.0h0M420.8,90.5h0M421.3,82.5h0M421.8,91.7h0M422.2,91.9h0M422.7,84.5h0M423.1,88.8h0M423.6,81.2h0M424.1,88.4h0M424.5,94.1h0M424.9,87.5h0M425.4,89.2h0M425.8,88.9h0M426.3,83.8h0M426.7,83.8h0M427.2,79.8h0M427.6,86.9h0M428.0,89.3h0M428.5,84.1h0M428.9,93.4h0M429.3,86.0h0M429.7,89.5h0M430.2,84.6h0M430.6,81.7h0M431.0,91.1h0M431.4,90.1h0M431.8,86.8h0M432.2,89.1h0M432.6,89.1h0M433.0,91.1h0M433.5,91.6h0M433.9,91.0h0M434.3,81.1h0M434.7,80.4h0M435.0,85.9h0M435.4,88.5h0M435.8,85.8h0M436.2,83.5h0M436.6,85.1h0M437.0,83.8h0M437.4,88.0h0M437.7,75.4h0M438.1,84.0h0M438.5,84.9h0M438.9,92.0h0M439.2,79.9h0M439.6,84.0h0M440.0,79.7h0M440.3,78.4h0M440.7,83.3h0M441.0,90.4h0M441.4,78.2h0M441.7,88.3h0M442.1,84.7h0M442.4,80.7h0M442.8,79.3h0M443.1,85.0h0M443.4,87.8h0M443.8,93.1h0M444.1,85.9h0M444.4,84.7h0M444.8,85.4h0M445.1,80.5h0M445.4,92.0h0M445.7,84.6h0M446.0,78.4h0M446.4,87.7h0M446.7,80.7h0M447.0,91.6h0M447.3,84.0h0M447.6,80.5h0M447.9,82.3h0M448.2,91.8h0M448.5,91.4h0M448.8,88.1h0M449.1,88.1h0M449.3,83.5h0M449.6,87.9h0M449.9,87.4h0M450.2,85.0h0M450.5,82.6h0M450.7,78.0h0M451.0,83.7h0M451.3,92.7h0M451.5,86.3h0M451.8,85.8h0M452.0,90.3h0M452.3,78.1h0M452.5,90.6h0M452.8,85.2h0M453.0,84.6h0M453.3,89.3h0M453.5,81.9h0M453.8,82.2h0M454.0,83.4h0M454.2,83.9h0M454.4,91.6h0M454.7,83.5h0M454.9,88.3h0M455.1,90.5h0M455.3,83.9h0M455.5,90.6h0M455.7,79.9h0M456.0,85.5h0M456.2,84.4h0M456.4,81.6h0M456.6,77.1h0M456.7,84.5h0M456.9,83.4h0M457.1,79.7h0M457.3,84.9h0M457.5,84.4h0M457.7,88.5h0M457.8,93.7h0M458.0,75.8h0M458.2,83.8h0M458.4,87.9h0M458.5,82.8h0M458.7,86.6h0M458.8,82.3h0M459.0,79.0h0M459.1,81.1h0M459.3,82.7h0M459.4,84.0h0M459.6,74.0h0M459.7,85.4h0M459.8,79.8h0M460.0,81.2h0M460.1,85.3h0M460.2,81.1h0M460.3,74.1h0M460.5,84.9h0M460.6,76.3h0M460.7,87.4h0M460.8,82.1h0M460.9,84.2h0M461.0,89.0h0M461.1,80.7h0M461.2,83.7h0M461.3,85.0h0M461.4,86.8h0M461.5,84.8h0M461.6,85.1h0M461.6,87.3h0M461.7,86.1h0M461.8,85.7h0M461.9,85.0h0" stroke="#000" stroke-width="1.56" stroke-linecap="round" fill="none"/>
<path d="M261.2,44.2h0M261.3,42.8h0M261.4,46.8h0M261.5,36.7h0M261.5,47.3h0M261.6,35.6h0M261.7,43.9h0M261.8,44.4h0M261.9,44.1h0M262.0,51.2h0M262.1,33.1h0M262.2,46.4h0M262.3,53.2h0M262.4,46.8h0M262.5,45.3h0M262.6,62.5h0M262.8,51.9h0M262.9,54.1h0M263.0,54.2h0M263.1,56.9h0M263.3,61.4h0M263.4,51.8h0M263.5,51.2h0M263.7,53.5h0M263.8,48.4h0M264.0,46.4h0M264.1,53.7h0M264.3,52.3h0M264.4,57.1h0M264.6,48.1h0M264.7,51.9h0M264.9,41.7h0M265.1,46.7h0M265.3,42.9h0M265.4,46.2h0M265.6,49.8h0M265.8,51.9h0M266.0,55.0h0M266.2,45.1h0M266.4,41.3h0M266.5,51.4h0M266.7,60.3h0M266.9,44.8h0M267.1,43.9h0M267.4,42.9h0M267.6,52.6h0M267.8,45.2h0M268.0,39.6h0M268.2,56.9h0M268.4,52.8h0M268.7,43.1h0M268.9,45.0h0M269.1,48.8h0M269.3,44.8h0M269.6,46.8h0M269.8,57.8h0M270.1,49.4h0M270.3,51.1h0M270.6,44.8h0M270.8,42.8h0M271.1,50.8h0M271.3,51.1h0M271.6,49.5h0M271.8,52.5h0M272.1,48.8h0M272.4,46.3h0M272.6,37.9h0M272.9,54.2h0M273.2,52.5h0M273.5,51.4h0M273.8,50.7h0M274.0,49.0h0M274.3,50.8h0M274.6,51.2h0M274.9,48.5h0M275.2,57.9h0M275.5,52.5h0M275.8,55.2h0M276.1,33.9h0M276.4,54.7h0M276.7,65.4h0M277.1,37.9h0M277.4,44.2h0M277.7,37.1h0M278.0,47.4h0M278.3,48.0h0M278.7,49.5h0M279.0,60.5h0M279.3,52.7h0M279.7,45.2h0M280.0,47.2h0M280.3,45.9h0M280.7,40.4h0M281.0,51.3h0M281.4,46.8h0M281.7,53.0h0M282.1,52.2h0M282.4,45.5h0M282.8,48.3h0M283.1,45.8h0M283.5,54.4h0M283.9,60.5h0M284.2,44.3h0M284.6,50.5h0M285.0,53.8h0M285.4,52.9h0M285.7,57.6h0M286.1,58.6h0M286.5,52.6h0M286.9,40.7h0M287.3,57.2h0M287.7,48.0h0M288.1,50.4h0M288.4,41.9h0M288.8,55.9h0M289.2,46.6h0M289.6,48.0h0M290.1,42.6h0M290.5,50.3h0M290.9,53.1h0M291.3,50.6h0M291.7,51.7h0M292.1,44.8h0M292.5,46.6h0M292.9,42.3h0M293.4,32.8h0M293.8,43.7h0M294.2,46.4h0M294.6,53.3h0M295.1,44.0h0M295.5,55.8h0M295.9,35.7h0M296.4,40.6h0M296.8,39.1h0M297.3,38.7h0M297.7,42.4h0M298.2,52.8h0M298.6,40.5h0M299.0,44.6h0M299.5,50.2h0M300.0,46.8h0M300.4,45.5h0M300.9,47.6h0M301.3,50.5h0M301.8,45.7h0M302.3,51.9h0M302.7,48.4h0M303.2,52.4h0M303.7,36.7h0M304.1,45.3h0M304.6,57.8h0M305.1,47.1h0M305.5,46.6h0M306.0,41.6h0M306.5,38.4h0M307.0,48.2h0M307.5,45.9h0M308.0,45.6h0M308.4,50.9h0M308.9,41.4h0M309.4,50.5h0M309.9,57.7h0M310.4,50.7h0M310.9,54.5h0M311.4,37.8h0M311.9,50.4h0M312.4,59.7h0M312.9,52.3h0M313.4,44.6h0M313.9,44.1h0M314.4,48.6h0M314.9,51.6h0M315.4,41.6h0M315.9,48.1h0M316.5,48.3h0M317.0,40.0h0M317.5,42.5h0M318.0,45.1h0M318.5,51.6h0M319.0,51.5h0M319.6,46.8h0M320.1,46.1h0M320.6,45.0h0M321.1,48.1h0M321.7,51.9h0M322.2,47.9h0M322.7,48.8h0M323.2,45.7h0M323.8,40.0h0M324.3,47.1h0M324.8,61.8h0M325.4,48.7h0M325.9,42.7h0M326.5,43.9h0M327.0,47.6h0M327.5,44.0h0M328.1,51.7h0M328.6,41.0h0M329.2,42.0h0M329.7,51.9h0M330.2,51.5h0M330.8,50.2h0M331.3,36.6h0M331.9,53.4h0M332.4,46.6h0M333.0,37.5h0M333.5,52.5h0M334.1,53.4h0M334.6,42.2h0M335.2,29.6h0M335.7,46.7h0M336.3,55.0h0M336.9,43.0h0M337.4,44.0h0M338.0,33.3h0M338.5,38.9h0M339.1,42.2h0M339.6,38.8h0M340.2,52.9h0M340.8,40.8h0M341.3,50.7h0M341.9,40.4h0M342.5,43.8h0M343.0,57.4h0M343.6,53.6h0M344.1,56.0h0M344.7,46.7h0M345.3,39.7h0M345.8,38.9h0M346.4,42.8h0M347.0,51.5h0M347.5,51.1h0M348.1,46.7h0M348.7,39.6h0M349.3,43.6h0M349.8,56.6h0M350.4,46.0h0M351.0,41.5h0M351.5,42.6h0M352.1,48.4h0M352.7,42.3h0M353.2,43.1h0M353.8,44.0h0M354.4,43.1h0M355.0,53.4h0M355.5,54.0h0M356.1,56.1h0M356.7,60.9h0M357.3,54.9h0M357.8,52.9h0M358.4,48.4h0M359.0,45.2h0M359.5,50.8h0M360.1,56.8h0M360.7,54.1h0M361.3,49.2h0M361.8,47.1h0M362.4,53.5h0M363.0,50.9h0M363.6,53.1h0M364.1,47.5h0M364.7,49.3h0M365.3,39.4h0M365.8,47.4h0M366.4,43.3h0M367.0,53.7h0M367.6,50.9h0M368.1,56.6h0M368.7,55.5h0M369.3,42.6h0M369.9,40.1h0M370.4,44.0h0M371.0,48.8h0M371.6,35.7h0M372.1,58.6h0M372.7,51.3h0M373.3,51.9h0M373.8,49.4h0M374.4,44.2h0M375.0,43.0h0M375.6,49.1h0M376.1,33.6h0M376.7,44.6h0M377.3,42.0h0M377.8,37.9h0M378.4,47.4h0M379.0,39.3h0M379.5,43.6h0M380.1,39.7h0M380.6,57.5h0M381.2,32.1h0M381.8,47.7h0M382.3,33.2h0M382.9,55.1h0M383.5,37.8h0M384.0,37.9h0M384.6,56.9h0M385.1,44.5h0M385.7,39.4h0M386.2,55.6h0M386.8,45.1h0M387.4,45.7h0M387.9,42.3h0M388.5,45.6h0M389.0,42.0h0M389.6,54.8h0M390.1,47.7h0M390.7,46.5h0M391.2,39.7h0M391.8,42.8h0M392.3,42.5h0M392.9,46.5h0M393.4,39.9h0M393.9,39.4h0M394.5,43.4h0M395.0,45.3h0M395.6,35.8h0M396.1,46.3h0M396.6,44.4h0M397.2,39.5h0M397.7,45.3h0M398.3,45.2h0M398.8,39.2h0M399.3,53.6h0M399.9,43.4h0M400.4,53.3h0M400.9,44.7h0M401.4,47.6h0M402.0,42.9h0M402.5,48.7h0M403.0,46.7h0M403.5,43.5h0M404.1,45.7h0M404.6,43.2h0M405.1,49.8h0M405.6,44.4h0M406.1,55.8h0M406.6,49.7h0M407.2,34.8h0M407.7,48.3h0M408.2,44.9h0M408.7,41.8h0M409.2,43.1h0M409.7,43.7h0M410.2,49.9h0M410.7,47.1h0M411.2,46.8h0M411.7,41.7h0M412.2,47.0h0M412.7,44.8h0M413.2,53.3h0M413.7,45.3h0M414.2,42.7h0M414.7,39.6h0M415.1,50.3h0M415.6,45.1h0M416.1,42.9h0M416.6,38.0h0M417.1,52.3h0M417.6,51.7h0M418.0,44.6h0M418.5,53.2h0M419.0,49.1h0M419.4,62.4h0M419.9,58.8h0M420.4,42.1h0M420.8,50.7h0M421.3,40.4h0M421.8,52.5h0M422.2,52.8h0M422.7,43.3h0M423.1,48.9h0M423.6,39.1h0M424.1,48.6h0M424.5,56.1h0M424.9,47.6h0M425.4,49.8h0M425.8,49.5h0M426.3,42.9h0M426.7,43.1h0M427.2,37.9h0M427.6,47.2h0M428.0,50.3h0M428.5,43.7h0M428.9,55.8h0M429.3,46.3h0M429.7,50.8h0M430.2,44.5h0M430.6,40.8h0M431.0,53.1h0M431.4,51.9h0M431.8,47.6h0M432.2,50.6h0M432.6,50.6h0M433.0,53.4h0M433.5,54.0h0M433.9,53.3h0M434.3,40.4h0M434.7,39.6h0M435.0,46.7h0M435.4,50.2h0M435.8,46.7h0M436.2,43.7h0M436.6,45.9h0M437.0,44.2h0M437.4,49.6h0M437.7,33.4h0M438.1,44.6h0M438.5,45.8h0M438.9,55.0h0M439.2,39.3h0M439.6,44.6h0M440.0,39.1h0M440.3,37.4h0M440.7,43.9h0M441.0,53.1h0M441.4,37.2h0M441.7,50.5h0M442.1,45.8h0M442.4,40.6h0M442.8,38.8h0M443.1,46.2h0M443.4,49.9h0M443.8,56.8h0M444.1,47.4h0M444.4,45.9h0M444.8,46.8h0M445.1,40.4h0M445.4,55.5h0M445.7,45.9h0M446.0,37.9h0M446.4,49.9h0M446.7,40.9h0M447.0,55.0h0M447.3,45.2h0M447.6,40.7h0M447.9,43.0h0M448.2,55.3h0M448.5,54.8h0M448.8,50.5h0M449.1,50.6h0M449.3,44.6h0M449.6,50.4h0M449.9,49.7h0M450.2,46.7h0M450.5,43.4h0M450.7,37.6h0M451.0,45.0h0M451.3,56.6h0M451.5,48.4h0M451.8,47.8h0M452.0,53.6h0M452.3,37.7h0M452.5,54.0h0M452.8,47.0h0M453.0,46.2h0M453.3,52.3h0M453.5,42.7h0M453.8,43.1h0M454.0,44.8h0M454.2,45.3h0M454.4,55.4h0M454.7,44.8h0M454.9,51.2h0M455.1,53.9h0M455.3,45.4h0M455.5,54.2h0M455.7,40.3h0M456.0,47.5h0M456.2,46.0h0M456.4,42.5h0M456.6,36.7h0M456.7,46.2h0M456.9,44.8h0M457.1,40.0h0M457.3,46.8h0M457.5,46.1h0M457.7,51.5h0M457.8,58.2h0M458.0,35.0h0M458.2,45.4h0M458.4,50.8h0M458.5,44.1h0M458.7,49.0h0M458.8,43.5h0M459.0,39.2h0M459.1,41.9h0M459.3,44.0h0M459.4,45.7h0M459.6,32.7h0M459.7,47.5h0M459.8,40.2h0M460.0,42.1h0M460.1,47.4h0M460.2,41.9h0M460.3,32.8h0M460.5,47.0h0M460.6,35.7h0M460.7,50.2h0M460.8,43.3h0M460.9,46.0h0M461.0,52.2h0M461.1,41.5h0M461.2,45.4h0M461.3,47.1h0M461.4,49.4h0M461.5,46.8h0M461.6,47.2h0M461.6,50.1h0M461.7,48.5h0M461.8,48.0h0M461.9,47.0h0" stroke="#969696" stroke-width="1.48" stroke-linecap="round" fill="none"/>
<line x1="261.2" y1="46.5" x2="461.9" y2="46.5" stroke="#5a5a5a" stroke-width="0.55"/>
</g>
<rect x="261.2" y="23.2" width="200.7" height="168.60000000000002" fill="none" stroke="#707070" stroke-width="0.65"/>
<line x1="266.10" y1="191.8" x2="266.10" y2="189.3" stroke="#7a7a7a" stroke-width="0.6"/>
<text x="265.10" y="200.3" font-size="6.5" text-anchor="middle" fill="#111">-6</text>
<line x1="295.05" y1="191.8" x2="295.05" y2="189.3" stroke="#7a7a7a" stroke-width="0.6"/>
<text x="294.05" y="200.3" font-size="6.5" text-anchor="middle" fill="#111">-4</text>
<line x1="324.00" y1="191.8" x2="324.00" y2="189.3" stroke="#7a7a7a" stroke-width="0.6"/>
<text x="323.00" y="200.3" font-size="6.5" text-anchor="middle" fill="#111">-2</text>
<line x1="352.95" y1="191.8" x2="352.95" y2="189.3" stroke="#7a7a7a" stroke-width="0.6"/>
<text x="352.65" y="200.3" font-size="6.5" text-anchor="middle" fill="#111">0</text>
<line x1="381.90" y1="191.8" x2="381.90" y2="189.3" stroke="#7a7a7a" stroke-width="0.6"/>
<text x="381.60" y="200.3" font-size="6.5" text-anchor="middle" fill="#111">2</text>
<line x1="410.85" y1="191.8" x2="410.85" y2="189.3" stroke="#7a7a7a" stroke-width="0.6"/>
<text x="410.55" y="200.3" font-size="6.5" text-anchor="middle" fill="#111">4</text>
<line x1="439.80" y1="191.8" x2="439.80" y2="189.3" stroke="#7a7a7a" stroke-width="0.6"/>
<text x="439.50" y="200.3" font-size="6.5" text-anchor="middle" fill="#111">6</text>
<line x1="261.2" y1="50.60" x2="263.7" y2="50.60" stroke="#7a7a7a" stroke-width="0.6"/>
<text x="256.59999999999997" y="52.90" font-size="6.5" text-anchor="end" fill="#111">6.5</text>
<line x1="261.2" y1="85.70" x2="263.7" y2="85.70" stroke="#7a7a7a" stroke-width="0.6"/>
<text x="256.59999999999997" y="88.00" font-size="6.5" text-anchor="end" fill="#111">6.0</text>
<line x1="261.2" y1="120.80" x2="263.7" y2="120.80" stroke="#7a7a7a" stroke-width="0.6"/>
<text x="256.59999999999997" y="123.10" font-size="6.5" text-anchor="end" fill="#111">5.5</text>
<line x1="261.2" y1="155.90" x2="263.7" y2="155.90" stroke="#7a7a7a" stroke-width="0.6"/>
<text x="256.59999999999997" y="158.20" font-size="6.5" text-anchor="end" fill="#111">5.0</text>
<line x1="261.2" y1="191.00" x2="263.7" y2="191.00" stroke="#7a7a7a" stroke-width="0.6"/>
<text x="256.59999999999997" y="193.30" font-size="6.5" text-anchor="end" fill="#111">4.5</text>
<text x="359.2" y="210" font-size="9.4" text-anchor="middle" fill="#0a0a0a">velocity (mm/s)</text>
<text transform="translate(273.9,180.7) scale(1.0,1)" font-size="16.8" font-weight="bold" fill="#000">b</text>
<text x="454.0" y="179.6" font-size="14" text-anchor="end" fill="#0a0a0a">14 GPa</text>
<clipPath id="clip13"><rect x="36.8" y="240.8" width="200.7" height="168.5"/></clipPath>
<g clip-path="url(#clip13)">
<path d="M36.80,323.95 L37.30,323.96 L37.80,323.98 L38.30,324.00 L38.80,324.02 L39.30,324.03 L39.80,324.05 L40.30,324.07 L40.80,324.09 L41.30,324.11 L41.80,324.13 L42.30,324.14 L42.80,324.16 L43.30,324.18 L43.80,324.20 L44.30,324.23 L44.80,324.25 L45.30,324.27 L45.80,324.29 L46.30,324.31 L46.80,324.33 L47.30,324.36 L47.80,324.38 L48.30,324.40 L48.80,324.43 L49.30,324.45 L49.80,324.48 L50.30,324.50 L50.80,324.53 L51.30,324.56 L51.80,324.58 L52.30,324.61 L52.80,324.64 L53.30,324.67 L53.80,324.70 L54.30,324.73 L54.80,324.76 L55.30,324.79 L55.80,324.82 L56.30,324.85 L56.80,324.88 L57.30,324.91 L57.80,324.95 L58.30,324.98 L58.80,325.02 L59.30,325.05 L59.80,325.09 L60.30,325.13 L60.80,325.17 L61.30,325.20 L61.80,325.24 L62.30,325.28 L62.80,325.33 L63.30,325.37 L63.80,325.41 L64.30,325.46 L64.80,325.50 L65.30,325.55 L65.80,325.59 L66.30,325.64 L66.80,325.69 L67.30,325.74 L67.80,325.79 L68.30,325.85 L68.80,325.90 L69.30,325.95 L69.80,326.01 L70.30,326.07 L70.80,326.13 L71.30,326.19 L71.80,326.25 L72.30,326.32 L72.80,326.38 L73.30,326.45 L73.80,326.52 L74.30,326.59 L74.80,326.66 L75.30,326.73 L75.80,326.81 L76.30,326.89 L76.80,326.97 L77.30,327.05 L77.80,327.13 L78.30,327.22 L78.80,327.31 L79.30,327.40 L79.80,327.50 L80.30,327.59 L80.80,327.69 L81.30,327.79 L81.80,327.90 L82.30,328.01 L82.80,328.12 L83.30,328.24 L83.80,328.36 L84.30,328.48 L84.80,328.60 L85.30,328.73 L85.80,328.87 L86.30,329.01 L86.80,329.15 L87.30,329.30 L87.80,329.45 L88.30,329.61 L88.80,329.77 L89.30,329.94 L89.80,330.11 L90.30,330.29 L90.80,330.48 L91.30,330.67 L91.80,330.87 L92.30,331.08 L92.80,331.29 L93.30,331.52 L93.80,331.75 L94.30,331.98 L94.80,332.23 L95.30,332.49 L95.80,332.76 L96.30,333.03 L96.80,333.32 L97.30,333.62 L97.80,333.93 L98.30,334.26 L98.80,334.60 L99.30,334.95 L99.80,335.31 L100.30,335.69 L100.80,336.09 L101.30,336.50 L101.80,336.94 L102.30,337.39 L102.80,337.85 L103.30,338.34 L103.80,338.85 L104.30,339.39 L104.80,339.94 L105.30,340.52 L105.80,341.13 L106.30,341.76 L106.80,342.42 L107.30,343.11 L107.80,343.82 L108.30,344.57 L108.80,345.35 L109.30,346.17 L109.80,347.01 L110.30,347.90 L110.80,348.81 L111.30,349.77 L111.80,350.75 L112.30,351.78 L112.80,352.84 L113.30,353.93 L113.80,355.06 L114.30,356.22 L114.80,357.41 L115.30,358.62 L115.80,359.86 L116.30,361.11 L116.80,362.38 L117.30,363.65 L117.80,364.91 L118.30,366.17 L118.80,367.40 L119.30,368.61 L119.80,369.77 L120.30,370.88 L120.80,371.93 L121.30,372.89 L121.80,373.77 L122.30,374.55 L122.80,375.22 L123.30,375.76 L123.80,376.18 L124.30,376.47 L124.80,376.63 L125.30,376.64 L125.80,376.53 L126.30,376.28 L126.80,375.90 L127.30,375.41 L127.80,374.81 L128.30,374.11 L128.80,373.32 L129.30,372.46 L129.80,371.54 L130.30,370.57 L130.80,369.55 L131.30,368.52 L131.80,367.46 L132.30,366.40 L132.80,365.34 L133.30,364.29 L133.80,363.25 L134.30,362.24 L134.80,361.25 L135.30,360.30 L135.80,359.38 L136.30,358.49 L136.80,357.65 L137.30,356.85 L137.80,356.09 L138.30,355.38 L138.80,354.70 L139.30,354.07 L139.80,353.49 L140.30,352.95 L140.80,352.45 L141.30,352.00 L141.80,351.59 L142.30,351.22 L142.80,350.90 L143.30,350.61 L143.80,350.37 L144.30,350.17 L144.80,350.01 L145.30,349.89 L145.80,349.80 L146.30,349.76 L146.80,349.76 L147.30,349.80 L147.80,349.88 L148.30,350.00 L148.80,350.16 L149.30,350.36 L149.80,350.60 L150.30,350.88 L150.80,351.21 L151.30,351.57 L151.80,351.98 L152.30,352.43 L152.80,352.93 L153.30,353.47 L153.80,354.05 L154.30,354.68 L154.80,355.35 L155.30,356.06 L155.80,356.82 L156.30,357.62 L156.80,358.46 L157.30,359.34 L157.80,360.26 L158.30,361.21 L158.80,362.20 L159.30,363.21 L159.80,364.24 L160.30,365.29 L160.80,366.35 L161.30,367.42 L161.80,368.47 L162.30,369.51 L162.80,370.53 L163.30,371.50 L163.80,372.43 L164.30,373.29 L164.80,374.08 L165.30,374.78 L165.80,375.39 L166.30,375.88 L166.80,376.26 L167.30,376.52 L167.80,376.64 L168.30,376.63 L168.80,376.48 L169.30,376.20 L169.80,375.78 L170.30,375.24 L170.80,374.58 L171.30,373.80 L171.80,372.93 L172.30,371.97 L172.80,370.93 L173.30,369.82 L173.80,368.66 L174.30,367.45 L174.80,366.22 L175.30,364.96 L175.80,363.70 L176.30,362.43 L176.80,361.16 L177.30,359.91 L177.80,358.67 L178.30,357.46 L178.80,356.27 L179.30,355.11 L179.80,353.98 L180.30,352.88 L180.80,351.82 L181.30,350.80 L181.80,349.81 L182.30,348.85 L182.80,347.93 L183.30,347.05 L183.80,346.20 L184.30,345.39 L184.80,344.60 L185.30,343.85 L185.80,343.13 L186.30,342.44 L186.80,341.78 L187.30,341.15 L187.80,340.55 L188.30,339.96 L188.80,339.41 L189.30,338.87 L189.80,338.36 L190.30,337.87 L190.80,337.40 L191.30,336.95 L191.80,336.52 L192.30,336.11 L192.80,335.71 L193.30,335.33 L193.80,334.96 L194.30,334.61 L194.80,334.27 L195.30,333.95 L195.80,333.64 L196.30,333.33 L196.80,333.05 L197.30,332.77 L197.80,332.50 L198.30,332.24 L198.80,331.99 L199.30,331.75 L199.80,331.52 L200.30,331.30 L200.80,331.09 L201.30,330.88 L201.80,330.68 L202.30,330.49 L202.80,330.30 L203.30,330.12 L203.80,329.95 L204.30,329.78 L204.80,329.61 L205.30,329.46 L205.80,329.30 L206.30,329.16 L206.80,329.01 L207.30,328.87 L207.80,328.74 L208.30,328.61 L208.80,328.48 L209.30,328.36 L209.80,328.24 L210.30,328.13 L210.80,328.01 L211.30,327.90 L211.80,327.80 L212.30,327.70 L212.80,327.60 L213.30,327.50 L213.80,327.40 L214.30,327.31 L214.80,327.22 L215.30,327.14 L215.80,327.05 L216.30,326.97 L216.80,326.89 L217.30,326.81 L217.80,326.74 L218.30,326.66 L218.80,326.59 L219.30,326.52 L219.80,326.45 L220.30,326.38 L220.80,326.32 L221.30,326.25 L221.80,326.19 L222.30,326.13 L222.80,326.07 L223.30,326.01 L223.80,325.96 L224.30,325.90 L224.80,325.85 L225.30,325.80 L225.80,325.74 L226.30,325.69 L226.80,325.64 L227.30,325.60 L227.80,325.55 L228.30,325.50 L228.80,325.46 L229.30,325.41 L229.80,325.37 L230.30,325.33 L230.80,325.29 L231.30,325.25 L231.80,325.21 L232.30,325.17 L232.80,325.13 L233.30,325.09 L233.80,325.06 L234.30,325.02 L234.80,324.98 L235.30,324.95 L235.80,324.92 L236.30,324.88 L236.80,324.85 L237.30,324.82 L237.5,322.3 L36.8,322.3 Z" fill="#22A74A" stroke="#222" stroke-opacity="0.6" stroke-width="0.45"/>
<path d="M36.80,322.46 L37.30,322.47 L37.80,322.47 L38.30,322.47 L38.80,322.47 L39.30,322.47 L39.80,322.48 L40.30,322.48 L40.80,322.48 L41.30,322.48 L41.80,322.49 L42.30,322.49 L42.80,322.49 L43.30,322.49 L43.80,322.50 L44.30,322.50 L44.80,322.50 L45.30,322.50 L45.80,322.51 L46.30,322.51 L46.80,322.51 L47.30,322.51 L47.80,322.52 L48.30,322.52 L48.80,322.52 L49.30,322.53 L49.80,322.53 L50.30,322.53 L50.80,322.54 L51.30,322.54 L51.80,322.54 L52.30,322.55 L52.80,322.55 L53.30,322.55 L53.80,322.56 L54.30,322.56 L54.80,322.57 L55.30,322.57 L55.80,322.58 L56.30,322.58 L56.80,322.58 L57.30,322.59 L57.80,322.59 L58.30,322.60 L58.80,322.60 L59.30,322.61 L59.80,322.61 L60.30,322.62 L60.80,322.62 L61.30,322.63 L61.80,322.64 L62.30,322.64 L62.80,322.65 L63.30,322.65 L63.80,322.66 L64.30,322.67 L64.80,322.67 L65.30,322.68 L65.80,322.69 L66.30,322.70 L66.80,322.70 L67.30,322.71 L67.80,322.72 L68.30,322.73 L68.80,322.74 L69.30,322.75 L69.80,322.76 L70.30,322.77 L70.80,322.78 L71.30,322.79 L71.80,322.80 L72.30,322.81 L72.80,322.82 L73.30,322.83 L73.80,322.84 L74.30,322.86 L74.80,322.87 L75.30,322.88 L75.80,322.90 L76.30,322.91 L76.80,322.93 L77.30,322.94 L77.80,322.96 L78.30,322.98 L78.80,323.00 L79.30,323.01 L79.80,323.03 L80.30,323.05 L80.80,323.08 L81.30,323.10 L81.80,323.12 L82.30,323.15 L82.80,323.17 L83.30,323.20 L83.80,323.23 L84.30,323.26 L84.80,323.29 L85.30,323.32 L85.80,323.35 L86.30,323.39 L86.80,323.43 L87.30,323.47 L87.80,323.51 L88.30,323.55 L88.80,323.60 L89.30,323.65 L89.80,323.71 L90.30,323.76 L90.80,323.82 L91.30,323.89 L91.80,323.96 L92.30,324.03 L92.80,324.11 L93.30,324.19 L93.80,324.28 L94.30,324.38 L94.80,324.48 L95.30,324.59 L95.80,324.72 L96.30,324.85 L96.80,324.99 L97.30,325.15 L97.80,325.32 L98.30,325.50 L98.80,325.70 L99.30,325.93 L99.80,326.17 L100.30,326.44 L100.80,326.74 L101.30,327.07 L101.80,327.44 L102.30,327.85 L102.80,328.31 L103.30,328.83 L103.80,329.41 L104.30,330.06 L104.80,330.80 L105.30,331.63 L105.80,332.57 L106.30,333.63 L106.80,334.82 L107.30,336.16 L107.80,337.64 L108.30,339.27 L108.80,341.02 L109.30,342.86 L109.80,344.72 L110.30,346.50 L110.80,348.08 L111.30,349.31 L111.80,350.06 L112.30,350.25 L112.80,349.85 L113.30,348.92 L113.80,347.56 L114.30,345.92 L114.80,344.13 L115.30,342.30 L115.80,340.52 L116.30,338.85 L116.80,337.32 L117.30,335.93 L117.80,334.70 L118.30,333.60 L118.80,332.63 L119.30,331.78 L119.80,331.03 L120.30,330.38 L120.80,329.80 L121.30,329.30 L121.80,328.86 L122.30,328.47 L122.80,328.14 L123.30,327.84 L123.80,327.59 L124.30,327.36 L124.80,327.17 L125.30,327.01 L125.80,326.87 L126.30,326.76 L126.80,326.67 L127.30,326.60 L127.80,326.55 L128.30,326.52 L128.80,326.51 L129.30,326.52 L129.80,326.55 L130.30,326.60 L130.80,326.66 L131.30,326.75 L131.80,326.86 L132.30,326.99 L132.80,327.15 L133.30,327.34 L133.80,327.56 L134.30,327.81 L134.80,328.10 L135.30,328.43 L135.80,328.81 L136.30,329.25 L136.80,329.74 L137.30,330.31 L137.80,330.96 L138.30,331.69 L138.80,332.53 L139.30,333.48 L139.80,334.57 L140.30,335.79 L140.80,337.16 L141.30,338.67 L141.80,340.33 L142.30,342.09 L142.80,343.92 L143.30,345.72 L143.80,347.39 L144.30,348.79 L144.80,349.77 L145.30,350.23 L145.80,350.11 L146.30,349.42 L146.80,348.24 L147.30,346.69 L147.80,344.93 L148.30,343.07 L148.80,341.22 L149.30,339.46 L149.80,337.81 L150.30,336.31 L150.80,334.96 L151.30,333.75 L151.80,332.68 L152.30,331.73 L152.80,330.89 L153.30,330.14 L153.80,329.48 L154.30,328.89 L154.80,328.37 L155.30,327.90 L155.80,327.49 L156.30,327.11 L156.80,326.78 L157.30,326.47 L157.80,326.20 L158.30,325.95 L158.80,325.73 L159.30,325.52 L159.80,325.34 L160.30,325.17 L160.80,325.01 L161.30,324.86 L161.80,324.73 L162.30,324.61 L162.80,324.49 L163.30,324.39 L163.80,324.29 L164.30,324.20 L164.80,324.12 L165.30,324.04 L165.80,323.96 L166.30,323.89 L166.80,323.83 L167.30,323.77 L167.80,323.71 L168.30,323.66 L168.80,323.61 L169.30,323.56 L169.80,323.51 L170.30,323.47 L170.80,323.43 L171.30,323.39 L171.80,323.36 L172.30,323.32 L172.80,323.29 L173.30,323.26 L173.80,323.23 L174.30,323.20 L174.80,323.17 L175.30,323.15 L175.80,323.12 L176.30,323.10 L176.80,323.08 L177.30,323.06 L177.80,323.04 L178.30,323.02 L178.80,323.00 L179.30,322.98 L179.80,322.96 L180.30,322.95 L180.80,322.93 L181.30,322.91 L181.80,322.90 L182.30,322.89 L182.80,322.87 L183.30,322.86 L183.80,322.85 L184.30,322.83 L184.80,322.82 L185.30,322.81 L185.80,322.80 L186.30,322.79 L186.80,322.78 L187.30,322.77 L187.80,322.76 L188.30,322.75 L188.80,322.74 L189.30,322.73 L189.80,322.72 L190.30,322.71 L190.80,322.71 L191.30,322.70 L191.80,322.69 L192.30,322.68 L192.80,322.68 L193.30,322.67 L193.80,322.66 L194.30,322.66 L194.80,322.65 L195.30,322.64 L195.80,322.64 L196.30,322.63 L196.80,322.63 L197.30,322.62 L197.80,322.61 L198.30,322.61 L198.80,322.60 L199.30,322.60 L199.80,322.59 L200.30,322.59 L200.80,322.58 L201.30,322.58 L201.80,322.58 L202.30,322.57 L202.80,322.57 L203.30,322.56 L203.80,322.56 L204.30,322.56 L204.80,322.55 L205.30,322.55 L205.80,322.54 L206.30,322.54 L206.80,322.54 L207.30,322.53 L207.80,322.53 L208.30,322.53 L208.80,322.52 L209.30,322.52 L209.80,322.52 L210.30,322.51 L210.80,322.51 L211.30,322.51 L211.80,322.51 L212.30,322.50 L212.80,322.50 L213.30,322.50 L213.80,322.50 L214.30,322.49 L214.80,322.49 L215.30,322.49 L215.80,322.49 L216.30,322.48 L216.80,322.48 L217.30,322.48 L217.80,322.48 L218.30,322.47 L218.80,322.47 L219.30,322.47 L219.80,322.47 L220.30,322.47 L220.80,322.46 L221.30,322.46 L221.80,322.46 L222.30,322.46 L222.80,322.46 L223.30,322.45 L223.80,322.45 L224.30,322.45 L224.80,322.45 L225.30,322.45 L225.80,322.45 L226.30,322.44 L226.80,322.44 L227.30,322.44 L227.80,322.44 L228.30,322.44 L228.80,322.44 L229.30,322.44 L229.80,322.43 L230.30,322.43 L230.80,322.43 L231.30,322.43 L231.80,322.43 L232.30,322.43 L232.80,322.43 L233.30,322.42 L233.80,322.42 L234.30,322.42 L234.80,322.42 L235.30,322.42 L235.80,322.42 L236.30,322.42 L236.80,322.42 L237.30,322.41 L237.5,322.3 L36.8,322.3 Z" fill="#219FDB" stroke="#222" stroke-opacity="0.6" stroke-width="0.45"/>
<path d="M36.80,322.40 L37.30,322.40 L37.80,322.40 L38.30,322.40 L38.80,322.40 L39.30,322.40 L39.80,322.41 L40.30,322.41 L40.80,322.41 L41.30,322.41 L41.80,322.41 L42.30,322.41 L42.80,322.41 L43.30,322.42 L43.80,322.42 L44.30,322.42 L44.80,322.42 L45.30,322.42 L45.80,322.42 L46.30,322.43 L46.80,322.43 L47.30,322.43 L47.80,322.43 L48.30,322.43 L48.80,322.44 L49.30,322.44 L49.80,322.44 L50.30,322.44 L50.80,322.45 L51.30,322.45 L51.80,322.45 L52.30,322.45 L52.80,322.46 L53.30,322.46 L53.80,322.46 L54.30,322.46 L54.80,322.47 L55.30,322.47 L55.80,322.47 L56.30,322.47 L56.80,322.48 L57.30,322.48 L57.80,322.48 L58.30,322.49 L58.80,322.49 L59.30,322.49 L59.80,322.50 L60.30,322.50 L60.80,322.51 L61.30,322.51 L61.80,322.51 L62.30,322.52 L62.80,322.52 L63.30,322.53 L63.80,322.53 L64.30,322.54 L64.80,322.54 L65.30,322.55 L65.80,322.55 L66.30,322.56 L66.80,322.56 L67.30,322.57 L67.80,322.58 L68.30,322.58 L68.80,322.59 L69.30,322.60 L69.80,322.60 L70.30,322.61 L70.80,322.62 L71.30,322.63 L71.80,322.63 L72.30,322.64 L72.80,322.65 L73.30,322.66 L73.80,322.67 L74.30,322.68 L74.80,322.69 L75.30,322.70 L75.80,322.71 L76.30,322.73 L76.80,322.74 L77.30,322.75 L77.80,322.77 L78.30,322.78 L78.80,322.80 L79.30,322.81 L79.80,322.83 L80.30,322.85 L80.80,322.87 L81.30,322.88 L81.80,322.91 L82.30,322.93 L82.80,322.95 L83.30,322.98 L83.80,323.00 L84.30,323.03 L84.80,323.06 L85.30,323.09 L85.80,323.12 L86.30,323.16 L86.80,323.20 L87.30,323.24 L87.80,323.28 L88.30,323.33 L88.80,323.38 L89.30,323.43 L89.80,323.49 L90.30,323.56 L90.80,323.63 L91.30,323.70 L91.80,323.78 L92.30,323.87 L92.80,323.97 L93.30,324.08 L93.80,324.20 L94.30,324.33 L94.80,324.47 L95.30,324.63 L95.80,324.81 L96.30,325.02 L96.80,325.24 L97.30,325.50 L97.80,325.79 L98.30,326.12 L98.80,326.49 L99.30,326.93 L99.80,327.42 L100.30,328.00 L100.80,328.66 L101.30,329.43 L101.80,330.33 L102.30,331.37 L102.80,332.58 L103.30,333.95 L103.80,335.50 L104.30,337.20 L104.80,338.98 L105.30,340.73 L105.80,342.28 L106.30,343.43 L106.80,344.00 L107.30,343.89 L107.80,343.11 L108.30,341.82 L108.80,340.19 L109.30,338.44 L109.80,336.70 L110.30,335.08 L110.80,333.61 L111.30,332.33 L111.80,331.21 L112.30,330.25 L112.80,329.42 L113.30,328.72 L113.80,328.12 L114.30,327.60 L114.80,327.16 L115.30,326.79 L115.80,326.46 L116.30,326.18 L116.80,325.95 L117.30,325.74 L117.80,325.57 L118.30,325.42 L118.80,325.30 L119.30,325.20 L119.80,325.11 L120.30,325.05 L120.80,325.00 L121.30,324.97 L121.80,324.95 L122.30,324.95 L122.80,324.96 L123.30,324.99 L123.80,325.03 L124.30,325.09 L124.80,325.17 L125.30,325.27 L125.80,325.38 L126.30,325.52 L126.80,325.69 L127.30,325.89 L127.80,326.11 L128.30,326.38 L128.80,326.69 L129.30,327.06 L129.80,327.48 L130.30,327.98 L130.80,328.56 L131.30,329.24 L131.80,330.03 L132.30,330.96 L132.80,332.04 L133.30,333.29 L133.80,334.71 L134.30,336.29 L134.80,337.99 L135.30,339.71 L135.80,341.32 L136.30,342.64 L136.80,343.45 L137.30,343.63 L137.80,343.13 L138.30,342.05 L138.80,340.55 L139.30,338.84 L139.80,337.09 L140.30,335.42 L140.80,333.88 L141.30,332.52 L141.80,331.32 L142.30,330.28 L142.80,329.39 L143.30,328.62 L143.80,327.96 L144.30,327.39 L144.80,326.89 L145.30,326.46 L145.80,326.09 L146.30,325.76 L146.80,325.47 L147.30,325.22 L147.80,324.99 L148.30,324.79 L148.80,324.61 L149.30,324.45 L149.80,324.31 L150.30,324.18 L150.80,324.06 L151.30,323.95 L151.80,323.86 L152.30,323.77 L152.80,323.69 L153.30,323.61 L153.80,323.54 L154.30,323.48 L154.80,323.42 L155.30,323.37 L155.80,323.32 L156.30,323.27 L156.80,323.23 L157.30,323.19 L157.80,323.15 L158.30,323.12 L158.80,323.08 L159.30,323.05 L159.80,323.02 L160.30,323.00 L160.80,322.97 L161.30,322.95 L161.80,322.92 L162.30,322.90 L162.80,322.88 L163.30,322.86 L163.80,322.84 L164.30,322.82 L164.80,322.81 L165.30,322.79 L165.80,322.78 L166.30,322.76 L166.80,322.75 L167.30,322.74 L167.80,322.72 L168.30,322.71 L168.80,322.70 L169.30,322.69 L169.80,322.68 L170.30,322.67 L170.80,322.66 L171.30,322.65 L171.80,322.64 L172.30,322.63 L172.80,322.62 L173.30,322.62 L173.80,322.61 L174.30,322.60 L174.80,322.59 L175.30,322.59 L175.80,322.58 L176.30,322.57 L176.80,322.57 L177.30,322.56 L177.80,322.56 L178.30,322.55 L178.80,322.55 L179.30,322.54 L179.80,322.54 L180.30,322.53 L180.80,322.53 L181.30,322.52 L181.80,322.52 L182.30,322.51 L182.80,322.51 L183.30,322.50 L183.80,322.50 L184.30,322.50 L184.80,322.49 L185.30,322.49 L185.80,322.49 L186.30,322.48 L186.80,322.48 L187.30,322.48 L187.80,322.47 L188.30,322.47 L188.80,322.47 L189.30,322.46 L189.80,322.46 L190.30,322.46 L190.80,322.46 L191.30,322.45 L191.80,322.45 L192.30,322.45 L192.80,322.45 L193.30,322.44 L193.80,322.44 L194.30,322.44 L194.80,322.44 L195.30,322.44 L195.80,322.43 L196.30,322.43 L196.80,322.43 L197.30,322.43 L197.80,322.43 L198.30,322.42 L198.80,322.42 L199.30,322.42 L199.80,322.42 L200.30,322.42 L200.80,322.42 L201.30,322.41 L201.80,322.41 L202.30,322.41 L202.80,322.41 L203.30,322.41 L203.80,322.41 L204.30,322.40 L204.80,322.40 L205.30,322.40 L205.80,322.40 L206.30,322.40 L206.80,322.40 L207.30,322.40 L207.80,322.40 L208.30,322.39 L208.80,322.39 L209.30,322.39 L209.80,322.39 L210.30,322.39 L210.80,322.39 L211.30,322.39 L211.80,322.39 L212.30,322.39 L212.80,322.38 L213.30,322.38 L213.80,322.38 L214.30,322.38 L214.80,322.38 L215.30,322.38 L215.80,322.38 L216.30,322.38 L216.80,322.38 L217.30,322.38 L217.80,322.38 L218.30,322.37 L218.80,322.37 L219.30,322.37 L219.80,322.37 L220.30,322.37 L220.80,322.37 L221.30,322.37 L221.80,322.37 L222.30,322.37 L222.80,322.37 L223.30,322.37 L223.80,322.37 L224.30,322.37 L224.80,322.36 L225.30,322.36 L225.80,322.36 L226.30,322.36 L226.80,322.36 L227.30,322.36 L227.80,322.36 L228.30,322.36 L228.80,322.36 L229.30,322.36 L229.80,322.36 L230.30,322.36 L230.80,322.36 L231.30,322.36 L231.80,322.36 L232.30,322.36 L232.80,322.36 L233.30,322.35 L233.80,322.35 L234.30,322.35 L234.80,322.35 L235.30,322.35 L235.80,322.35 L236.30,322.35 L236.80,322.35 L237.30,322.35 L237.5,322.3 L36.8,322.3 Z" fill="#BE1226" stroke="#222" stroke-opacity="0.6" stroke-width="0.45"/>
<path d="M36.80,322.32 L37.30,322.32 L37.80,322.32 L38.30,322.33 L38.80,322.33 L39.30,322.33 L39.80,322.33 L40.30,322.33 L40.80,322.33 L41.30,322.33 L41.80,322.33 L42.30,322.33 L42.80,322.33 L43.30,322.33 L43.80,322.33 L44.30,322.33 L44.80,322.33 L45.30,322.33 L45.80,322.33 L46.30,322.33 L46.80,322.33 L47.30,322.33 L47.80,322.33 L48.30,322.33 L48.80,322.33 L49.30,322.34 L49.80,322.34 L50.30,322.34 L50.80,322.34 L51.30,322.34 L51.80,322.34 L52.30,322.34 L52.80,322.34 L53.30,322.34 L53.80,322.34 L54.30,322.34 L54.80,322.34 L55.30,322.34 L55.80,322.35 L56.30,322.35 L56.80,322.35 L57.30,322.35 L57.80,322.35 L58.30,322.35 L58.80,322.35 L59.30,322.35 L59.80,322.35 L60.30,322.35 L60.80,322.36 L61.30,322.36 L61.80,322.36 L62.30,322.36 L62.80,322.36 L63.30,322.36 L63.80,322.36 L64.30,322.37 L64.80,322.37 L65.30,322.37 L65.80,322.37 L66.30,322.37 L66.80,322.38 L67.30,322.38 L67.80,322.38 L68.30,322.38 L68.80,322.38 L69.30,322.39 L69.80,322.39 L70.30,322.39 L70.80,322.40 L71.30,322.40 L71.80,322.40 L72.30,322.40 L72.80,322.41 L73.30,322.41 L73.80,322.42 L74.30,322.42 L74.80,322.43 L75.30,322.43 L75.80,322.43 L76.30,322.44 L76.80,322.45 L77.30,322.45 L77.80,322.46 L78.30,322.47 L78.80,322.47 L79.30,322.48 L79.80,322.49 L80.30,322.50 L80.80,322.51 L81.30,322.52 L81.80,322.53 L82.30,322.55 L82.80,322.56 L83.30,322.58 L83.80,322.59 L84.30,322.61 L84.80,322.63 L85.30,322.66 L85.80,322.68 L86.30,322.71 L86.80,322.74 L87.30,322.78 L87.80,322.82 L88.30,322.86 L88.80,322.91 L89.30,322.97 L89.80,323.03 L90.30,323.10 L90.80,323.18 L91.30,323.28 L91.80,323.38 L92.30,323.50 L92.80,323.65 L93.30,323.81 L93.80,324.00 L94.30,324.23 L94.80,324.50 L95.30,324.82 L95.80,325.22 L96.30,325.71 L96.80,326.32 L97.30,327.09 L97.80,328.05 L98.30,329.24 L98.80,330.68 L99.30,332.28 L99.80,333.84 L100.30,334.96 L100.80,335.24 L101.30,334.57 L101.80,333.22 L102.30,331.62 L102.80,330.09 L103.30,328.77 L103.80,327.70 L104.30,326.85 L104.80,326.18 L105.30,325.64 L105.80,325.22 L106.30,324.88 L106.80,324.60 L107.30,324.37 L107.80,324.19 L108.30,324.03 L108.80,323.90 L109.30,323.79 L109.80,323.69 L110.30,323.61 L110.80,323.54 L111.30,323.47 L111.80,323.42 L112.30,323.37 L112.80,323.33 L113.30,323.29 L113.80,323.26 L114.30,323.23 L114.80,323.20 L115.30,323.18 L115.80,323.15 L116.30,323.13 L116.80,323.11 L117.30,323.10 L117.80,323.08 L118.30,323.07 L118.80,323.06 L119.30,323.04 L119.80,323.03 L120.30,323.02 L120.80,323.01 L121.30,323.00 L121.80,323.00 L122.30,322.99 L122.80,322.98 L123.30,322.98 L123.80,322.97 L124.30,322.96 L124.80,322.96 L125.30,322.95 L125.80,322.95 L126.30,322.95 L126.80,322.94 L127.30,322.94 L127.80,322.93 L128.30,322.93 L128.80,322.93 L129.30,322.92 L129.80,322.92 L130.30,322.92 L130.80,322.92 L131.30,322.91 L131.80,322.91 L132.30,322.91 L132.80,322.91 L133.30,322.91 L133.80,322.91 L134.30,322.90 L134.80,322.90 L135.30,322.90 L135.80,322.90 L136.30,322.90 L136.80,322.90 L137.30,322.90 L137.80,322.90 L138.30,322.90 L138.80,322.89 L139.30,322.89 L139.80,322.89 L140.30,322.89 L140.80,322.89 L141.30,322.89 L141.80,322.89 L142.30,322.89 L142.80,322.89 L143.30,322.89 L143.80,322.89 L144.30,322.89 L144.80,322.89 L145.30,322.89 L145.80,322.89 L146.30,322.89 L146.80,322.89 L147.30,322.89 L147.80,322.89 L148.30,322.90 L148.80,322.90 L149.30,322.90 L149.80,322.90 L150.30,322.90 L150.80,322.90 L151.30,322.90 L151.80,322.90 L152.30,322.90 L152.80,322.90 L153.30,322.90 L153.80,322.91 L154.30,322.91 L154.80,322.91 L155.30,322.91 L155.80,322.91 L156.30,322.91 L156.80,322.92 L157.30,322.92 L157.80,322.92 L158.30,322.92 L158.80,322.93 L159.30,322.93 L159.80,322.93 L160.30,322.93 L160.80,322.94 L161.30,322.94 L161.80,322.94 L162.30,322.95 L162.80,322.95 L163.30,322.96 L163.80,322.96 L164.30,322.96 L164.80,322.97 L165.30,322.97 L165.80,322.98 L166.30,322.99 L166.80,322.99 L167.30,323.00 L167.80,323.01 L168.30,323.01 L168.80,323.02 L169.30,323.03 L169.80,323.04 L170.30,323.05 L170.80,323.06 L171.30,323.07 L171.80,323.08 L172.30,323.09 L172.80,323.10 L173.30,323.12 L173.80,323.13 L174.30,323.15 L174.80,323.17 L175.30,323.19 L175.80,323.21 L176.30,323.23 L176.80,323.25 L177.30,323.28 L177.80,323.31 L178.30,323.34 L178.80,323.38 L179.30,323.42 L179.80,323.46 L180.30,323.51 L180.80,323.56 L181.30,323.62 L181.80,323.69 L182.30,323.77 L182.80,323.85 L183.30,323.95 L183.80,324.06 L184.30,324.19 L184.80,324.34 L185.30,324.51 L185.80,324.72 L186.30,324.95 L186.80,325.24 L187.30,325.57 L187.80,325.97 L188.30,326.46 L188.80,327.04 L189.30,327.75 L189.80,328.60 L190.30,329.62 L190.80,330.79 L191.30,332.09 L191.80,333.41 L192.30,334.58 L192.80,335.36 L193.30,335.54 L193.80,335.09 L194.30,334.11 L194.80,332.84 L195.30,331.49 L195.80,330.22 L196.30,329.09 L196.80,328.12 L197.30,327.31 L197.80,326.64 L198.30,326.07 L198.80,325.60 L199.30,325.21 L199.80,324.87 L200.30,324.59 L200.80,324.34 L201.30,324.13 L201.80,323.95 L202.30,323.79 L202.80,323.65 L203.30,323.53 L203.80,323.42 L204.30,323.32 L204.80,323.24 L205.30,323.16 L205.80,323.10 L206.30,323.04 L206.80,322.98 L207.30,322.93 L207.80,322.89 L208.30,322.85 L208.80,322.82 L209.30,322.78 L209.80,322.76 L210.30,322.73 L210.80,322.70 L211.30,322.68 L211.80,322.66 L212.30,322.64 L212.80,322.63 L213.30,322.61 L213.80,322.59 L214.30,322.58 L214.80,322.57 L215.30,322.56 L215.80,322.54 L216.30,322.53 L216.80,322.52 L217.30,322.52 L217.80,322.51 L218.30,322.50 L218.80,322.49 L219.30,322.48 L219.80,322.48 L220.30,322.47 L220.80,322.47 L221.30,322.46 L221.80,322.45 L222.30,322.45 L222.80,322.44 L223.30,322.44 L223.80,322.44 L224.30,322.43 L224.80,322.43 L225.30,322.42 L225.80,322.42 L226.30,322.42 L226.80,322.41 L227.30,322.41 L227.80,322.41 L228.30,322.40 L228.80,322.40 L229.30,322.40 L229.80,322.40 L230.30,322.39 L230.80,322.39 L231.30,322.39 L231.80,322.39 L232.30,322.38 L232.80,322.38 L233.30,322.38 L233.80,322.38 L234.30,322.38 L234.80,322.38 L235.30,322.37 L235.80,322.37 L236.30,322.37 L236.80,322.37 L237.30,322.37 L237.5,322.3 L36.8,322.3 Z" fill="#B4B4B4" stroke="#222" stroke-opacity="0.6" stroke-width="0.45"/>
<path d="M36.80,325.23 L37.30,325.25 L37.80,325.27 L38.30,325.29 L38.80,325.32 L39.30,325.34 L39.80,325.36 L40.30,325.38 L40.80,325.40 L41.30,325.43 L41.80,325.45 L42.30,325.47 L42.80,325.50 L43.30,325.52 L43.80,325.55 L44.30,325.57 L44.80,325.60 L45.30,325.63 L45.80,325.65 L46.30,325.68 L46.80,325.71 L47.30,325.74 L47.80,325.76 L48.30,325.79 L48.80,325.82 L49.30,325.85 L49.80,325.89 L50.30,325.92 L50.80,325.95 L51.30,325.98 L51.80,326.02 L52.30,326.05 L52.80,326.08 L53.30,326.12 L53.80,326.16 L54.30,326.19 L54.80,326.23 L55.30,326.27 L55.80,326.31 L56.30,326.35 L56.80,326.39 L57.30,326.43 L57.80,326.48 L58.30,326.52 L58.80,326.56 L59.30,326.61 L59.80,326.66 L60.30,326.70 L60.80,326.75 L61.30,326.80 L61.80,326.85 L62.30,326.91 L62.80,326.96 L63.30,327.01 L63.80,327.07 L64.30,327.13 L64.80,327.19 L65.30,327.25 L65.80,327.31 L66.30,327.37 L66.80,327.44 L67.30,327.50 L67.80,327.57 L68.30,327.64 L68.80,327.71 L69.30,327.79 L69.80,327.86 L70.30,327.94 L70.80,328.02 L71.30,328.10 L71.80,328.18 L72.30,328.27 L72.80,328.36 L73.30,328.45 L73.80,328.55 L74.30,328.64 L74.80,328.75 L75.30,328.85 L75.80,328.96 L76.30,329.07 L76.80,329.18 L77.30,329.30 L77.80,329.42 L78.30,329.54 L78.80,329.67 L79.30,329.81 L79.80,329.95 L80.30,330.10 L80.80,330.26 L81.30,330.44 L81.80,330.63 L82.30,330.83 L82.80,331.05 L83.30,331.29 L83.80,331.54 L84.30,331.80 L84.80,332.07 L85.30,332.37 L85.80,332.67 L86.30,332.99 L86.80,333.33 L87.30,333.68 L87.80,334.05 L88.30,334.44 L88.80,334.84 L89.30,335.27 L89.80,335.71 L90.30,336.18 L90.80,336.67 L91.30,337.19 L91.80,337.74 L92.30,338.32 L92.80,338.94 L93.30,339.61 L93.80,340.32 L94.30,341.09 L94.80,341.93 L95.30,342.85 L95.80,343.88 L96.30,345.04 L96.80,346.36 L97.30,347.88 L97.80,349.65 L98.30,351.71 L98.80,354.04 L99.30,356.53 L99.80,358.95 L100.30,360.99 L100.80,362.48 L101.30,363.58 L101.80,364.74 L102.30,366.26 L102.80,368.22 L103.30,370.49 L103.80,372.90 L104.30,375.27 L104.80,377.48 L105.30,379.46 L105.80,381.21 L106.30,382.79 L106.80,384.24 L107.30,385.55 L107.80,386.75 L108.30,387.84 L108.80,388.82 L109.30,389.69 L109.80,390.44 L110.30,391.05 L110.80,391.52 L111.30,391.83 L111.80,391.97 L112.30,391.93 L112.80,391.72 L113.30,391.35 L113.80,390.87 L114.30,390.31 L114.80,389.72 L115.30,389.15 L115.80,388.62 L116.30,388.17 L116.80,387.82 L117.30,387.55 L117.80,387.37 L118.30,387.25 L118.80,387.17 L119.30,387.12 L119.80,387.07 L120.30,387.02 L120.80,386.94 L121.30,386.83 L121.80,386.66 L122.30,386.45 L122.80,386.18 L123.30,385.87 L123.80,385.53 L124.30,385.14 L124.80,384.73 L125.30,384.29 L125.80,383.82 L126.30,383.34 L126.80,382.85 L127.30,382.35 L127.80,381.87 L128.30,381.42 L128.80,381.01 L129.30,380.65 L129.80,380.36 L130.30,380.15 L130.80,380.05 L131.30,380.08 L131.80,380.26 L132.30,380.60 L132.80,381.10 L133.30,381.75 L133.80,382.56 L134.30,383.50 L134.80,384.56 L135.30,385.65 L135.80,386.69 L136.30,387.57 L136.80,388.19 L137.30,388.45 L137.80,388.28 L138.30,387.68 L138.80,386.74 L139.30,385.63 L139.80,384.51 L140.30,383.54 L140.80,382.82 L141.30,382.37 L141.80,382.15 L142.30,382.09 L142.80,382.12 L143.30,382.18 L143.80,382.20 L144.30,382.15 L144.80,381.98 L145.30,381.65 L145.80,381.14 L146.30,380.40 L146.80,379.40 L147.30,378.14 L147.80,376.67 L148.30,375.06 L148.80,373.40 L149.30,371.77 L149.80,370.25 L150.30,368.92 L150.80,367.82 L151.30,366.94 L151.80,366.28 L152.30,365.81 L152.80,365.52 L153.30,365.39 L153.80,365.40 L154.30,365.54 L154.80,365.77 L155.30,366.08 L155.80,366.45 L156.30,366.87 L156.80,367.34 L157.30,367.85 L157.80,368.40 L158.30,368.98 L158.80,369.58 L159.30,370.20 L159.80,370.84 L160.30,371.48 L160.80,372.13 L161.30,372.78 L161.80,373.42 L162.30,374.05 L162.80,374.66 L163.30,375.24 L163.80,375.80 L164.30,376.31 L164.80,376.77 L165.30,377.19 L165.80,377.54 L166.30,377.82 L166.80,378.03 L167.30,378.15 L167.80,378.18 L168.30,378.11 L168.80,377.93 L169.30,377.65 L169.80,377.27 L170.30,376.80 L170.80,376.25 L171.30,375.62 L171.80,374.92 L172.30,374.16 L172.80,373.35 L173.30,372.49 L173.80,371.56 L174.30,370.57 L174.80,369.52 L175.30,368.42 L175.80,367.29 L176.30,366.13 L176.80,364.98 L177.30,363.82 L177.80,362.69 L178.30,361.57 L178.80,360.48 L179.30,359.41 L179.80,358.34 L180.30,357.27 L180.80,356.24 L181.30,355.24 L181.80,354.28 L182.30,353.36 L182.80,352.48 L183.30,351.65 L183.80,350.86 L184.30,350.12 L184.80,349.43 L185.30,348.80 L185.80,348.22 L186.30,347.71 L186.80,347.26 L187.30,346.90 L187.80,346.63 L188.30,346.47 L188.80,346.43 L189.30,346.54 L189.80,346.82 L190.30,347.27 L190.80,347.91 L191.30,348.70 L191.80,349.53 L192.30,350.23 L192.80,350.55 L193.30,350.31 L193.80,349.43 L194.30,348.06 L194.80,346.41 L195.30,344.70 L195.80,343.08 L196.30,341.62 L196.80,340.34 L197.30,339.23 L197.80,338.28 L198.30,337.45 L198.80,336.72 L199.30,336.08 L199.80,335.51 L200.30,334.99 L200.80,334.53 L201.30,334.11 L201.80,333.72 L202.30,333.36 L202.80,333.03 L203.30,332.72 L203.80,332.43 L204.30,332.16 L204.80,331.91 L205.30,331.67 L205.80,331.45 L206.30,331.23 L206.80,331.03 L207.30,330.84 L207.80,330.66 L208.30,330.48 L208.80,330.32 L209.30,330.16 L209.80,330.00 L210.30,329.86 L210.80,329.72 L211.30,329.58 L211.80,329.45 L212.30,329.33 L212.80,329.21 L213.30,329.09 L213.80,328.98 L214.30,328.87 L214.80,328.76 L215.30,328.66 L215.80,328.56 L216.30,328.47 L216.80,328.37 L217.30,328.28 L217.80,328.19 L218.30,328.11 L218.80,328.03 L219.30,327.95 L219.80,327.87 L220.30,327.79 L220.80,327.72 L221.30,327.65 L221.80,327.58 L222.30,327.51 L222.80,327.44 L223.30,327.38 L223.80,327.31 L224.30,327.25 L224.80,327.19 L225.30,327.13 L225.80,327.07 L226.30,327.02 L226.80,326.96 L227.30,326.91 L227.80,326.86 L228.30,326.81 L228.80,326.76 L229.30,326.71 L229.80,326.66 L230.30,326.61 L230.80,326.57 L231.30,326.52 L231.80,326.48 L232.30,326.43 L232.80,326.39 L233.30,326.35 L233.80,326.31 L234.30,326.27 L234.80,326.23 L235.30,326.20 L235.80,326.16 L236.30,326.12 L236.80,326.09 L237.30,326.05" fill="none" stroke="#FFE51A" stroke-width="2.0" stroke-linejoin="round"/>
<path d="M36.9,323.3h0M37.1,323.0h0M37.2,316.1h0M37.4,324.3h0M37.6,333.4h0M37.8,329.8h0M38.0,322.8h0M38.1,323.1h0M38.3,326.0h0M38.5,323.5h0M38.7,321.4h0M38.9,317.4h0M39.1,322.6h0M39.3,327.2h0M39.5,331.6h0M39.7,319.5h0M39.9,321.5h0M40.1,323.7h0M40.3,324.9h0M40.5,322.4h0M40.8,324.5h0M41.0,327.1h0M41.2,321.3h0M41.4,331.9h0M41.7,329.3h0M41.9,332.4h0M42.1,324.6h0M42.3,319.9h0M42.6,321.1h0M42.8,333.3h0M43.0,326.7h0M43.3,315.0h0M43.5,328.8h0M43.8,324.8h0M44.0,318.6h0M44.3,321.8h0M44.5,322.9h0M44.8,327.9h0M45.0,325.0h0M45.3,327.5h0M45.5,318.4h0M45.8,328.1h0M46.1,324.0h0M46.3,324.6h0M46.6,326.9h0M46.9,326.0h0M47.1,330.0h0M47.4,331.9h0M47.7,327.5h0M48.0,322.1h0M48.2,329.6h0M48.5,327.6h0M48.8,329.0h0M49.1,319.9h0M49.4,324.3h0M49.7,327.5h0M50.0,331.4h0M50.3,329.0h0M50.6,332.7h0M50.9,309.1h0M51.2,327.0h0M51.5,323.7h0M51.8,335.2h0M52.1,330.5h0M52.4,331.0h0M52.7,322.7h0M53.0,332.1h0M53.3,329.1h0M53.6,335.1h0M54.0,334.9h0M54.3,325.3h0M54.6,330.0h0M54.9,324.4h0M55.2,329.5h0M55.6,321.6h0M55.9,314.9h0M56.2,323.6h0M56.6,331.1h0M56.9,325.7h0M57.2,336.3h0M57.6,334.8h0M57.9,336.9h0M58.3,323.1h0M58.6,323.7h0M59.0,323.4h0M59.3,332.5h0M59.7,332.0h0M60.0,341.0h0M60.4,331.3h0M60.7,327.9h0M61.1,333.1h0M61.4,325.7h0M61.8,332.2h0M62.2,337.2h0M62.5,325.8h0M62.9,332.7h0M63.3,338.3h0M63.6,319.0h0M64.0,325.4h0M64.4,340.4h0M64.7,330.2h0M65.1,333.2h0M65.5,323.8h0M65.9,320.8h0M66.3,329.8h0M66.6,330.1h0M67.0,325.7h0M67.4,332.7h0M67.8,330.1h0M68.2,333.5h0M68.6,330.3h0M69.0,328.8h0M69.4,332.2h0M69.8,338.2h0M70.2,326.0h0M70.6,335.1h0M71.0,322.5h0M71.4,332.6h0M71.8,324.8h0M72.2,330.6h0M72.6,328.8h0M73.0,341.1h0M73.4,318.9h0M73.8,331.7h0M74.2,323.5h0M74.6,336.9h0M75.0,334.8h0M75.5,325.5h0M75.9,330.1h0M76.3,333.7h0M76.7,334.0h0M77.1,332.8h0M77.6,336.7h0M78.0,323.9h0M78.4,336.3h0M78.8,329.6h0M79.3,324.9h0M79.7,332.2h0M80.1,331.5h0M80.6,326.6h0M81.0,336.7h0M81.4,334.3h0M81.9,332.3h0M82.3,341.4h0M82.7,338.1h0M83.2,333.8h0M83.6,341.6h0M84.1,340.1h0M84.5,331.7h0M85.0,337.8h0M85.4,325.8h0M85.9,336.8h0M86.3,343.2h0M86.8,326.6h0M87.2,340.3h0M87.7,331.4h0M88.1,333.8h0M88.6,332.3h0M89.0,341.2h0M89.5,336.1h0M89.9,335.6h0M90.4,341.3h0M90.9,344.7h0M91.3,340.7h0M91.8,343.0h0M92.2,351.5h0M92.7,336.1h0M93.2,341.3h0M93.6,338.2h0M94.1,333.6h0M94.6,336.6h0M95.1,335.6h0M95.5,344.1h0M96.0,343.2h0M96.5,341.2h0M96.9,345.2h0M97.4,341.5h0M97.9,349.7h0M98.4,333.8h0M98.8,355.8h0M99.3,352.6h0M99.8,354.6h0M100.3,357.5h0M100.8,362.5h0M101.2,348.3h0M101.7,361.9h0M102.2,366.2h0M102.7,373.3h0M103.2,365.4h0M103.7,373.7h0M104.2,366.2h0M104.6,371.6h0M105.1,385.3h0M105.6,382.8h0M106.1,376.9h0M106.6,374.0h0M107.1,384.4h0M107.6,396.7h0M108.1,389.8h0M108.6,377.0h0M109.1,381.4h0M109.6,392.6h0M110.0,389.3h0M110.5,388.4h0M111.0,386.3h0M111.5,397.4h0M112.0,389.4h0M112.5,386.7h0M113.0,392.3h0M113.5,395.8h0M114.0,387.6h0M114.5,385.1h0M115.0,386.0h0M115.5,390.4h0M116.0,387.1h0M116.5,394.2h0M117.0,383.9h0M117.5,387.4h0M118.0,404.3h0M118.6,394.2h0M119.1,374.8h0M119.6,389.8h0M120.1,395.5h0M120.6,387.9h0M121.1,389.0h0M121.6,390.2h0M122.1,370.6h0M122.6,388.3h0M123.1,386.4h0M123.6,389.7h0M124.1,395.3h0M124.6,395.0h0M125.1,386.5h0M125.6,388.5h0M126.2,387.5h0M126.7,389.9h0M127.2,381.2h0M127.7,388.4h0M128.2,392.0h0M128.7,385.6h0M129.2,398.4h0M129.7,388.5h0M130.2,369.1h0M130.8,375.9h0M131.3,384.5h0M131.8,381.9h0M132.3,386.0h0M132.8,387.8h0M133.3,389.9h0M133.8,382.6h0M134.3,385.3h0M134.8,391.7h0M135.4,382.0h0M135.9,400.4h0M136.4,374.7h0M136.9,388.9h0M137.4,390.9h0M137.9,387.0h0M138.4,383.8h0M138.9,391.7h0M139.5,382.2h0M140.0,379.9h0M140.5,388.6h0M141.0,381.1h0M141.5,377.6h0M142.0,372.1h0M142.5,389.0h0M143.0,385.3h0M143.5,382.5h0M144.1,382.9h0M144.6,374.7h0M145.1,383.9h0M145.6,382.0h0M146.1,377.3h0M146.6,376.4h0M147.1,385.3h0M147.6,381.6h0M148.1,361.9h0M148.7,376.8h0M149.2,371.2h0M149.7,375.9h0M150.2,374.2h0M150.7,367.5h0M151.2,364.2h0M151.7,368.3h0M152.2,363.6h0M152.7,360.8h0M153.2,373.5h0M153.7,370.5h0M154.2,364.1h0M154.7,352.6h0M155.2,365.7h0M155.7,364.1h0M156.3,374.6h0M156.8,381.0h0M157.3,365.2h0M157.8,363.9h0M158.3,365.7h0M158.8,365.3h0M159.3,364.3h0M159.8,354.5h0M160.3,369.9h0M160.8,368.4h0M161.3,365.9h0M161.8,371.0h0M162.3,368.1h0M162.8,361.3h0M163.3,367.8h0M163.8,375.9h0M164.3,377.3h0M164.7,369.3h0M165.2,367.7h0M165.7,368.9h0M166.2,383.3h0M166.7,383.1h0M167.2,377.4h0M167.7,373.8h0M168.2,375.9h0M168.7,377.4h0M169.2,370.5h0M169.7,370.3h0M170.1,369.9h0M170.6,379.6h0M171.1,388.7h0M171.6,385.1h0M172.1,377.8h0M172.6,376.3h0M173.1,372.7h0M173.5,376.3h0M174.0,379.1h0M174.5,358.8h0M175.0,380.0h0M175.5,364.4h0M175.9,373.6h0M176.4,362.9h0M176.9,372.4h0M177.4,360.6h0M177.8,367.5h0M178.3,364.1h0M178.8,363.2h0M179.2,360.6h0M179.7,346.2h0M180.2,355.2h0M180.7,354.5h0M181.1,348.2h0M181.6,348.8h0M182.1,342.9h0M182.5,350.9h0M183.0,339.8h0M183.4,353.0h0M183.9,356.7h0M184.4,354.2h0M184.8,360.3h0M185.3,350.9h0M185.7,342.4h0M186.2,344.2h0M186.6,343.7h0M187.1,351.5h0M187.5,345.4h0M188.0,351.3h0M188.4,350.8h0M188.9,343.6h0M189.3,353.0h0M189.8,343.4h0M190.2,346.7h0M190.7,342.6h0M191.1,347.7h0M191.6,353.7h0M192.0,350.4h0M192.4,352.6h0M192.9,346.5h0M193.3,355.2h0M193.7,352.8h0M194.2,358.3h0M194.6,336.0h0M195.0,346.5h0M195.5,349.4h0M195.9,337.0h0M196.3,350.6h0M196.7,337.7h0M197.2,342.0h0M197.6,340.5h0M198.0,333.9h0M198.4,332.0h0M198.8,336.9h0M199.3,330.1h0M199.7,327.2h0M200.1,338.6h0M200.5,336.2h0M200.9,328.6h0M201.3,318.8h0M201.7,328.6h0M202.1,325.8h0M202.5,336.7h0M202.9,343.3h0M203.3,341.1h0M203.7,331.5h0M204.1,324.1h0M204.5,335.2h0M204.9,326.2h0M205.3,319.5h0M205.7,330.0h0M206.1,326.5h0M206.5,326.2h0M206.9,329.2h0M207.3,334.7h0M207.7,343.2h0M208.0,329.1h0M208.4,325.7h0M208.8,324.7h0M209.2,324.1h0M209.6,322.1h0M209.9,326.8h0M210.3,331.4h0M210.7,326.6h0M211.0,328.3h0M211.4,327.8h0M211.8,327.8h0M212.1,304.0h0M212.5,322.7h0M212.9,328.5h0M213.2,334.3h0M213.6,327.5h0M213.9,320.6h0M214.3,320.6h0M214.6,326.3h0M215.0,319.5h0M215.3,315.7h0M215.7,321.7h0M216.0,298.6h0M216.4,327.2h0M216.7,320.6h0M217.1,323.0h0M217.4,328.8h0M217.7,333.4h0M218.1,328.1h0M218.4,329.9h0M218.7,325.4h0M219.1,325.0h0M219.4,317.1h0M219.7,330.8h0M220.0,327.2h0M220.3,319.5h0M220.7,326.3h0M221.0,320.5h0M221.3,318.4h0M221.6,320.6h0M221.9,332.8h0M222.2,321.1h0M222.5,329.0h0M222.8,323.6h0M223.1,312.2h0M223.4,320.1h0M223.7,319.1h0M224.0,334.1h0M224.3,314.8h0M224.6,330.0h0M224.9,332.7h0M225.2,337.4h0M225.5,322.8h0M225.8,318.2h0M226.1,322.5h0M226.3,332.4h0M226.6,340.0h0M226.9,330.7h0M227.2,324.7h0M227.4,333.2h0M227.7,324.2h0M228.0,333.5h0M228.2,332.6h0M228.5,335.0h0M228.8,320.7h0M229.0,332.6h0M229.3,333.9h0M229.5,327.9h0M229.8,321.1h0M230.0,322.6h0M230.3,313.4h0M230.5,329.0h0M230.8,335.4h0M231.0,324.4h0M231.3,321.1h0M231.5,324.1h0M231.7,321.5h0M232.0,323.6h0M232.2,330.5h0M232.4,327.6h0M232.6,320.0h0M232.9,321.5h0M233.1,327.6h0M233.3,329.2h0M233.5,331.8h0M233.8,321.6h0M234.0,324.0h0M234.2,332.2h0M234.4,325.2h0M234.6,330.2h0M234.8,333.4h0M235.0,313.3h0M235.2,319.5h0M235.4,324.9h0M235.6,314.8h0M235.8,325.7h0M236.0,339.9h0M236.2,318.6h0M236.3,324.4h0M236.5,327.2h0M236.7,325.9h0M236.9,323.2h0M237.1,320.4h0M237.2,322.6h0M237.4,319.6h0" stroke="#000" stroke-width="1.36" stroke-linecap="round" fill="none"/>
<path d="M36.9,271.5h0M37.1,271.2h0M37.2,264.3h0M37.4,272.4h0M37.6,281.5h0M37.8,278.0h0M38.0,270.9h0M38.1,271.2h0M38.3,274.1h0M38.5,271.6h0M38.7,269.5h0M38.9,265.5h0M39.1,270.6h0M39.3,275.3h0M39.5,279.6h0M39.7,267.6h0M39.9,269.5h0M40.1,271.7h0M40.3,272.9h0M40.5,270.4h0M40.8,272.5h0M41.0,275.1h0M41.2,269.3h0M41.4,279.9h0M41.7,277.3h0M41.9,280.3h0M42.1,272.6h0M42.3,267.9h0M42.6,269.0h0M42.8,281.2h0M43.0,274.6h0M43.3,262.9h0M43.5,276.6h0M43.8,272.7h0M44.0,266.5h0M44.3,269.6h0M44.5,270.7h0M44.8,275.7h0M45.0,272.8h0M45.3,275.3h0M45.5,266.2h0M45.8,275.9h0M46.1,271.8h0M46.3,272.3h0M46.6,274.6h0M46.9,273.6h0M47.1,277.7h0M47.4,279.5h0M47.7,275.2h0M48.0,269.7h0M48.2,277.3h0M48.5,275.2h0M48.8,276.6h0M49.1,267.5h0M49.4,271.8h0M49.7,275.1h0M50.0,278.9h0M50.3,276.5h0M50.6,280.1h0M50.9,256.6h0M51.2,274.5h0M51.5,271.1h0M51.8,282.5h0M52.1,277.9h0M52.4,278.4h0M52.7,270.0h0M53.0,279.4h0M53.3,276.3h0M53.6,282.4h0M54.0,282.2h0M54.3,272.5h0M54.6,277.1h0M54.9,271.5h0M55.2,276.6h0M55.6,268.7h0M55.9,262.0h0M56.2,270.7h0M56.6,278.1h0M56.9,272.7h0M57.2,283.3h0M57.6,281.8h0M57.9,283.8h0M58.3,269.9h0M58.6,270.6h0M59.0,270.2h0M59.3,279.3h0M59.7,278.8h0M60.0,287.7h0M60.4,278.0h0M60.7,274.5h0M61.1,279.8h0M61.4,272.3h0M61.8,278.8h0M62.2,283.8h0M62.5,272.3h0M62.9,279.1h0M63.3,284.7h0M63.6,265.3h0M64.0,271.7h0M64.4,286.7h0M64.7,276.4h0M65.1,279.4h0M65.5,269.9h0M65.9,266.9h0M66.3,275.8h0M66.6,276.1h0M67.0,271.6h0M67.4,278.6h0M67.8,275.9h0M68.2,279.3h0M68.6,276.0h0M69.0,274.5h0M69.4,277.8h0M69.8,283.8h0M70.2,271.4h0M70.6,280.6h0M71.0,267.8h0M71.4,277.9h0M71.8,270.0h0M72.2,275.8h0M72.6,273.9h0M73.0,286.1h0M73.4,263.8h0M73.8,276.6h0M74.2,268.3h0M74.6,281.6h0M75.0,279.4h0M75.5,270.0h0M75.9,274.5h0M76.3,278.1h0M76.7,278.2h0M77.1,276.9h0M77.6,280.8h0M78.0,267.8h0M78.4,280.2h0M78.8,273.3h0M79.3,268.5h0M79.7,275.7h0M80.1,274.9h0M80.6,269.8h0M81.0,279.8h0M81.4,277.2h0M81.9,275.1h0M82.3,284.0h0M82.7,280.5h0M83.2,275.9h0M83.6,283.6h0M84.1,281.8h0M84.5,273.2h0M85.0,279.0h0M85.4,266.8h0M85.9,277.5h0M86.3,283.6h0M86.8,266.7h0M87.2,280.1h0M87.7,270.8h0M88.1,272.9h0M88.6,271.0h0M89.0,279.6h0M89.5,274.1h0M89.9,273.2h0M90.4,278.4h0M90.9,281.4h0M91.3,276.8h0M91.8,278.7h0M92.2,286.7h0M92.7,270.6h0M93.2,275.3h0M93.6,271.5h0M94.1,266.2h0M94.6,268.5h0M95.1,266.6h0M95.5,274.2h0M96.0,272.2h0M96.5,269.1h0M96.9,271.8h0M97.4,266.6h0M97.9,273.0h0M98.4,255.2h0M98.8,274.9h0M99.3,269.4h0M99.8,269.1h0M100.3,270.0h0M100.8,273.6h0M101.2,258.3h0M101.7,270.7h0M102.2,273.6h0M102.7,278.8h0M103.2,268.9h0M103.7,274.9h0M104.2,265.0h0M104.6,268.2h0M105.1,279.9h0M105.6,275.6h0M106.1,268.1h0M106.6,263.7h0M107.1,272.8h0M107.6,283.8h0M108.1,275.9h0M108.6,262.0h0M109.1,265.5h0M109.6,275.9h0M110.0,271.9h0M110.5,270.6h0M111.0,268.0h0M111.5,278.9h0M112.0,270.9h0M112.5,268.2h0M113.0,274.2h0M113.5,278.1h0M114.0,270.4h0M114.5,268.4h0M115.0,270.0h0M115.5,274.9h0M116.0,272.1h0M116.5,279.6h0M117.0,269.6h0M117.5,273.3h0M118.0,290.4h0M118.6,280.3h0M119.1,261.0h0M119.6,276.1h0M120.1,281.8h0M120.6,274.3h0M121.1,275.5h0M121.6,276.9h0M122.1,257.5h0M122.6,275.4h0M123.1,273.8h0M123.6,277.5h0M124.1,283.5h0M124.6,283.5h0M125.1,275.5h0M125.6,278.0h0M126.2,277.4h0M126.7,280.3h0M127.2,272.1h0M127.7,279.8h0M128.2,283.9h0M128.7,278.0h0M129.2,291.1h0M129.7,281.5h0M130.2,262.3h0M130.8,269.2h0M131.3,277.8h0M131.8,275.1h0M132.3,278.8h0M132.8,280.1h0M133.3,281.6h0M133.8,273.4h0M134.3,275.1h0M134.8,280.5h0M135.4,269.6h0M135.9,287.0h0M136.4,260.4h0M136.9,274.1h0M137.4,275.9h0M137.9,272.3h0M138.4,269.7h0M138.9,278.7h0M139.5,270.3h0M140.0,269.1h0M140.5,278.7h0M141.0,271.9h0M141.5,268.7h0M142.0,263.4h0M142.5,280.3h0M143.0,276.6h0M143.5,273.7h0M144.1,274.1h0M144.6,266.1h0M145.1,275.5h0M145.6,274.0h0M146.1,270.0h0M146.6,270.0h0M147.1,280.1h0M147.6,277.8h0M148.1,259.8h0M148.7,276.3h0M149.2,272.4h0M149.7,278.7h0M150.2,278.3h0M150.7,272.8h0M151.2,270.4h0M151.7,275.3h0M152.2,271.1h0M152.7,268.7h0M153.2,281.5h0M153.7,278.5h0M154.2,272.0h0M154.7,260.3h0M155.2,273.0h0M155.7,271.1h0M156.3,281.2h0M156.8,287.1h0M157.3,270.7h0M157.8,268.9h0M158.3,270.2h0M158.8,269.1h0M159.3,267.5h0M159.8,257.1h0M160.3,271.9h0M160.8,269.7h0M161.3,266.6h0M161.8,271.0h0M162.3,267.5h0M162.8,260.1h0M163.3,266.0h0M163.8,273.6h0M164.3,274.4h0M164.7,266.0h0M165.2,263.9h0M165.7,264.9h0M166.2,278.9h0M166.7,278.5h0M167.2,272.7h0M167.7,269.1h0M168.2,271.1h0M168.7,272.8h0M169.2,266.1h0M169.7,266.3h0M170.1,266.3h0M170.6,276.5h0M171.1,286.2h0M171.6,283.3h0M172.1,276.7h0M172.6,276.0h0M173.1,273.2h0M173.5,277.6h0M174.0,281.4h0M174.5,262.1h0M175.0,284.3h0M175.5,269.7h0M175.9,280.0h0M176.4,270.4h0M176.9,281.0h0M177.4,270.3h0M177.8,278.3h0M178.3,276.0h0M178.8,276.1h0M179.2,274.4h0M179.7,261.1h0M180.2,271.1h0M180.7,271.3h0M181.1,266.0h0M181.6,267.5h0M182.1,262.5h0M182.5,271.4h0M183.0,261.0h0M183.4,275.0h0M183.9,279.4h0M184.4,277.6h0M184.8,284.3h0M185.3,275.5h0M185.7,267.5h0M186.2,269.8h0M186.6,269.7h0M187.1,277.8h0M187.5,272.0h0M188.0,278.1h0M188.4,277.7h0M188.9,270.5h0M189.3,279.8h0M189.8,269.9h0M190.2,272.9h0M190.7,268.3h0M191.1,272.6h0M191.6,277.9h0M192.0,274.0h0M192.4,275.6h0M192.9,269.3h0M193.3,278.3h0M193.7,276.7h0M194.2,283.3h0M194.6,262.4h0M195.0,274.3h0M195.5,278.7h0M195.9,267.6h0M196.3,282.4h0M196.7,270.6h0M197.2,275.9h0M197.6,275.2h0M198.0,269.4h0M198.4,268.1h0M198.8,273.6h0M199.3,267.4h0M199.7,265.0h0M200.1,276.8h0M200.5,274.8h0M200.9,267.6h0M201.3,258.1h0M201.7,268.2h0M202.1,265.7h0M202.5,276.9h0M202.9,283.7h0M203.3,281.9h0M203.7,272.4h0M204.1,265.2h0M204.5,276.6h0M204.9,267.8h0M205.3,261.3h0M205.7,271.9h0M206.1,268.6h0M206.5,268.4h0M206.9,271.6h0M207.3,277.3h0M207.7,285.9h0M208.0,271.9h0M208.4,268.6h0M208.8,267.8h0M209.2,267.3h0M209.6,265.5h0M209.9,270.2h0M210.3,274.9h0M210.7,270.2h0M211.0,272.0h0M211.4,271.6h0M211.8,271.7h0M212.1,248.1h0M212.5,266.8h0M212.9,272.7h0M213.2,278.6h0M213.6,271.9h0M213.9,265.1h0M214.3,265.1h0M214.6,271.0h0M215.0,264.2h0M215.3,260.5h0M215.7,266.6h0M216.0,243.5h0M216.4,272.1h0M216.7,265.6h0M217.1,268.1h0M217.4,273.9h0M217.7,278.6h0M218.1,273.3h0M218.4,275.2h0M218.7,270.8h0M219.1,270.4h0M219.4,262.6h0M219.7,276.4h0M220.0,272.8h0M220.3,265.1h0M220.7,272.0h0M221.0,266.2h0M221.3,264.1h0M221.6,266.4h0M221.9,278.7h0M222.2,266.9h0M222.5,275.0h0M222.8,269.5h0M223.1,258.2h0M223.4,266.2h0M223.7,265.2h0M224.0,280.2h0M224.3,260.9h0M224.6,276.2h0M224.9,278.9h0M225.2,283.7h0M225.5,269.1h0M225.8,264.5h0M226.1,268.8h0M226.3,278.8h0M226.6,286.5h0M226.9,277.2h0M227.2,271.1h0M227.4,279.7h0M227.7,270.7h0M228.0,280.1h0M228.2,279.2h0M228.5,281.7h0M228.8,267.4h0M229.0,279.3h0M229.3,280.6h0M229.5,274.6h0M229.8,267.9h0M230.0,269.4h0M230.3,260.1h0M230.5,275.8h0M230.8,282.3h0M231.0,271.2h0M231.3,268.0h0M231.5,271.0h0M231.7,268.4h0M232.0,270.5h0M232.2,277.4h0M232.4,274.6h0M232.6,267.0h0M232.9,268.5h0M233.1,274.6h0M233.3,276.2h0M233.5,278.9h0M233.8,268.7h0M234.0,271.1h0M234.2,279.3h0M234.4,272.3h0M234.6,277.4h0M234.8,280.6h0M235.0,260.5h0M235.2,266.7h0M235.4,272.1h0M235.6,262.0h0M235.8,272.9h0M236.0,287.2h0M236.2,265.9h0M236.3,271.6h0M236.5,274.5h0M236.7,273.2h0M236.9,270.6h0M237.1,267.7h0M237.2,269.9h0M237.4,267.0h0" stroke="#7c7c7c" stroke-width="1.29" stroke-linecap="round" fill="none"/>
<line x1="36.8" y1="273.4" x2="237.5" y2="273.4" stroke="#5a5a5a" stroke-width="0.55"/>
</g>
<rect x="36.8" y="240.8" width="200.7" height="168.5" fill="none" stroke="#707070" stroke-width="0.65"/>
<line x1="55.50" y1="409.3" x2="55.50" y2="406.8" stroke="#7a7a7a" stroke-width="0.6"/>
<text x="54.50" y="418.5" font-size="6.4" text-anchor="middle" fill="#111">-3</text>
<line x1="77.39" y1="409.3" x2="77.39" y2="406.8" stroke="#7a7a7a" stroke-width="0.6"/>
<text x="76.39" y="418.5" font-size="6.4" text-anchor="middle" fill="#111">-2</text>
<line x1="99.28" y1="409.3" x2="99.28" y2="406.8" stroke="#7a7a7a" stroke-width="0.6"/>
<text x="98.28" y="418.5" font-size="6.4" text-anchor="middle" fill="#111">-1</text>
<line x1="121.17" y1="409.3" x2="121.17" y2="406.8" stroke="#7a7a7a" stroke-width="0.6"/>
<text x="120.87" y="418.5" font-size="6.4" text-anchor="middle" fill="#111">0</text>
<line x1="143.06" y1="409.3" x2="143.06" y2="406.8" stroke="#7a7a7a" stroke-width="0.6"/>
<text x="142.76" y="418.5" font-size="6.4" text-anchor="middle" fill="#111">1</text>
<line x1="164.95" y1="409.3" x2="164.95" y2="406.8" stroke="#7a7a7a" stroke-width="0.6"/>
<text x="164.65" y="418.5" font-size="6.4" text-anchor="middle" fill="#111">2</text>
<line x1="186.84" y1="409.3" x2="186.84" y2="406.8" stroke="#7a7a7a" stroke-width="0.6"/>
<text x="186.54" y="418.5" font-size="6.4" text-anchor="middle" fill="#111">3</text>
<line x1="208.73" y1="409.3" x2="208.73" y2="406.8" stroke="#7a7a7a" stroke-width="0.6"/>
<text x="208.43" y="418.5" font-size="6.4" text-anchor="middle" fill="#111">4</text>
<line x1="230.62" y1="409.3" x2="230.62" y2="406.8" stroke="#7a7a7a" stroke-width="0.6"/>
<text x="230.32" y="418.5" font-size="6.4" text-anchor="middle" fill="#111">5</text>
<line x1="36.8" y1="253.10" x2="39.3" y2="253.10" stroke="#7a7a7a" stroke-width="0.6"/>
<text x="32.199999999999996" y="256.05" font-size="6.4" text-anchor="end" fill="#111">28.5</text>
<line x1="36.8" y1="272.60" x2="39.3" y2="272.60" stroke="#7a7a7a" stroke-width="0.6"/>
<text x="32.199999999999996" y="275.55" font-size="6.4" text-anchor="end" fill="#111">28.0</text>
<line x1="36.8" y1="292.10" x2="39.3" y2="292.10" stroke="#7a7a7a" stroke-width="0.6"/>
<text x="32.199999999999996" y="295.05" font-size="6.4" text-anchor="end" fill="#111">27.5</text>
<line x1="36.8" y1="311.60" x2="39.3" y2="311.60" stroke="#7a7a7a" stroke-width="0.6"/>
<text x="32.199999999999996" y="314.55" font-size="6.4" text-anchor="end" fill="#111">27.0</text>
<line x1="36.8" y1="331.10" x2="39.3" y2="331.10" stroke="#7a7a7a" stroke-width="0.6"/>
<text x="32.199999999999996" y="334.05" font-size="6.4" text-anchor="end" fill="#111">26.5</text>
<line x1="36.8" y1="350.60" x2="39.3" y2="350.60" stroke="#7a7a7a" stroke-width="0.6"/>
<text x="32.199999999999996" y="353.55" font-size="6.4" text-anchor="end" fill="#111">26.0</text>
<line x1="36.8" y1="370.10" x2="39.3" y2="370.10" stroke="#7a7a7a" stroke-width="0.6"/>
<text x="32.199999999999996" y="373.05" font-size="6.4" text-anchor="end" fill="#111">25.5</text>
<line x1="36.8" y1="389.60" x2="39.3" y2="389.60" stroke="#7a7a7a" stroke-width="0.6"/>
<text x="32.199999999999996" y="392.55" font-size="6.4" text-anchor="end" fill="#111">25.0</text>
<line x1="36.8" y1="409.10" x2="39.3" y2="409.10" stroke="#7a7a7a" stroke-width="0.6"/>
<text x="32.199999999999996" y="412.05" font-size="6.4" text-anchor="end" fill="#111">24.5</text>
<text x="134.7" y="428.9" font-size="9.2" text-anchor="middle" fill="#0a0a0a">velocity (mm/s)</text>
<text transform="translate(12.9,325.4) rotate(-90)" font-size="9.2" text-anchor="middle" fill="#0a0a0a">counts (×10<tspan font-size="5.2" dy="-3">4</tspan><tspan dy="3">)</tspan></text>
<text transform="translate(48.3,399.7) scale(1.0,1)" font-size="16.8" font-weight="bold" fill="#000">c</text>
<text x="233.9" y="397.6" font-size="14.4" text-anchor="end" fill="#0a0a0a">80 GPa</text>
<clipPath id="clip14"><rect x="261.4" y="240.8" width="200.40000000000003" height="168.5"/></clipPath>
<g clip-path="url(#clip14)">
<path d="M261.40,317.36 L261.90,317.38 L262.40,317.40 L262.90,317.42 L263.40,317.44 L263.90,317.46 L264.40,317.48 L264.90,317.50 L265.40,317.52 L265.90,317.54 L266.40,317.57 L266.90,317.59 L267.40,317.61 L267.90,317.64 L268.40,317.66 L268.90,317.68 L269.40,317.71 L269.90,317.73 L270.40,317.76 L270.90,317.79 L271.40,317.81 L271.90,317.84 L272.40,317.87 L272.90,317.89 L273.40,317.92 L273.90,317.95 L274.40,317.98 L274.90,318.01 L275.40,318.04 L275.90,318.07 L276.40,318.10 L276.90,318.14 L277.40,318.17 L277.90,318.20 L278.40,318.24 L278.90,318.27 L279.40,318.31 L279.90,318.34 L280.40,318.38 L280.90,318.42 L281.40,318.46 L281.90,318.50 L282.40,318.54 L282.90,318.58 L283.40,318.62 L283.90,318.66 L284.40,318.70 L284.90,318.75 L285.40,318.79 L285.90,318.84 L286.40,318.89 L286.90,318.94 L287.40,318.99 L287.90,319.04 L288.40,319.09 L288.90,319.14 L289.40,319.20 L289.90,319.25 L290.40,319.31 L290.90,319.37 L291.40,319.42 L291.90,319.49 L292.40,319.55 L292.90,319.61 L293.40,319.68 L293.90,319.74 L294.40,319.81 L294.90,319.88 L295.40,319.95 L295.90,320.03 L296.40,320.10 L296.90,320.18 L297.40,320.26 L297.90,320.34 L298.40,320.43 L298.90,320.51 L299.40,320.60 L299.90,320.69 L300.40,320.79 L300.90,320.88 L301.40,320.98 L301.90,321.08 L302.40,321.19 L302.90,321.29 L303.40,321.40 L303.90,321.52 L304.40,321.64 L304.90,321.76 L305.40,321.88 L305.90,322.01 L306.40,322.14 L306.90,322.28 L307.40,322.42 L307.90,322.56 L308.40,322.71 L308.90,322.87 L309.40,323.02 L309.90,323.19 L310.40,323.36 L310.90,323.53 L311.40,323.72 L311.90,323.90 L312.40,324.10 L312.90,324.30 L313.40,324.51 L313.90,324.73 L314.40,324.95 L314.90,325.18 L315.40,325.42 L315.90,325.67 L316.40,325.93 L316.90,326.20 L317.40,326.48 L317.90,326.77 L318.40,327.07 L318.90,327.38 L319.40,327.71 L319.90,328.05 L320.40,328.40 L320.90,328.77 L321.40,329.15 L321.90,329.55 L322.40,329.96 L322.90,330.40 L323.40,330.85 L323.90,331.32 L324.40,331.81 L324.90,332.33 L325.40,332.86 L325.90,333.42 L326.40,334.01 L326.90,334.62 L327.40,335.26 L327.90,335.92 L328.40,336.62 L328.90,337.35 L329.40,338.11 L329.90,338.91 L330.40,339.74 L330.90,340.61 L331.40,341.52 L331.90,342.46 L332.40,343.45 L332.90,344.48 L333.40,345.55 L333.90,346.67 L334.40,347.82 L334.90,349.03 L335.40,350.27 L335.90,351.56 L336.40,352.88 L336.90,354.25 L337.40,355.64 L337.90,357.07 L338.40,358.53 L338.90,360.00 L339.40,361.48 L339.90,362.97 L340.40,364.46 L340.90,365.92 L341.40,367.36 L341.90,368.75 L342.40,370.08 L342.90,371.35 L343.40,372.52 L343.90,373.60 L344.40,374.56 L344.90,375.39 L345.40,376.08 L345.90,376.61 L346.40,376.99 L346.90,377.21 L347.40,377.26 L347.90,377.15 L348.40,376.87 L348.90,376.45 L349.40,375.87 L349.90,375.17 L350.40,374.35 L350.90,373.42 L351.40,372.39 L351.90,371.30 L352.40,370.14 L352.90,368.94 L353.40,367.70 L353.90,366.45 L354.40,365.19 L354.90,363.93 L355.40,362.69 L355.90,361.47 L356.40,360.28 L356.90,359.12 L357.40,357.99 L357.90,356.92 L358.40,355.88 L358.90,354.90 L359.40,353.96 L359.90,353.08 L360.40,352.25 L360.90,351.47 L361.40,350.74 L361.90,350.07 L362.40,349.45 L362.90,348.87 L363.40,348.35 L363.90,347.88 L364.40,347.46 L364.90,347.09 L365.40,346.77 L365.90,346.49 L366.40,346.26 L366.90,346.08 L367.40,345.95 L367.90,345.86 L368.40,345.82 L368.90,345.82 L369.40,345.87 L369.90,345.97 L370.40,346.11 L370.90,346.30 L371.40,346.54 L371.90,346.83 L372.40,347.16 L372.90,347.54 L373.40,347.97 L373.90,348.45 L374.40,348.98 L374.90,349.57 L375.40,350.20 L375.90,350.88 L376.40,351.62 L376.90,352.41 L377.40,353.25 L377.90,354.15 L378.40,355.09 L378.90,356.09 L379.40,357.13 L379.90,358.22 L380.40,359.34 L380.90,360.51 L381.40,361.71 L381.90,362.94 L382.40,364.19 L382.90,365.44 L383.40,366.70 L383.90,367.95 L384.40,369.18 L384.90,370.38 L385.40,371.52 L385.90,372.61 L386.40,373.61 L386.90,374.52 L387.40,375.32 L387.90,376.00 L388.40,376.54 L388.90,376.94 L389.40,377.18 L389.90,377.26 L390.40,377.18 L390.90,376.93 L391.40,376.52 L391.90,375.95 L392.40,375.23 L392.90,374.38 L393.40,373.39 L393.90,372.30 L394.40,371.10 L394.90,369.82 L395.40,368.47 L395.90,367.07 L396.40,365.63 L396.90,364.16 L397.40,362.68 L397.90,361.19 L398.40,359.70 L398.90,358.23 L399.40,356.78 L399.90,355.36 L400.40,353.97 L400.90,352.61 L401.40,351.30 L401.90,350.02 L402.40,348.78 L402.90,347.59 L403.40,346.44 L403.90,345.33 L404.40,344.27 L404.90,343.25 L405.40,342.27 L405.90,341.33 L406.40,340.43 L406.90,339.57 L407.40,338.75 L407.90,337.96 L408.40,337.20 L408.90,336.48 L409.40,335.79 L409.90,335.13 L410.40,334.49 L410.90,333.89 L411.40,333.31 L411.90,332.75 L412.40,332.22 L412.90,331.71 L413.40,331.22 L413.90,330.76 L414.40,330.31 L414.90,329.88 L415.40,329.47 L415.90,329.07 L416.40,328.69 L416.90,328.33 L417.40,327.98 L417.90,327.64 L418.40,327.32 L418.90,327.01 L419.40,326.71 L419.90,326.42 L420.40,326.14 L420.90,325.88 L421.40,325.62 L421.90,325.37 L422.40,325.13 L422.90,324.90 L423.40,324.68 L423.90,324.47 L424.40,324.26 L424.90,324.06 L425.40,323.87 L425.90,323.68 L426.40,323.50 L426.90,323.32 L427.40,323.16 L427.90,322.99 L428.40,322.83 L428.90,322.68 L429.40,322.53 L429.90,322.39 L430.40,322.25 L430.90,322.11 L431.40,321.98 L431.90,321.85 L432.40,321.73 L432.90,321.61 L433.40,321.49 L433.90,321.38 L434.40,321.27 L434.90,321.17 L435.40,321.06 L435.90,320.96 L436.40,320.86 L436.90,320.77 L437.40,320.67 L437.90,320.58 L438.40,320.50 L438.90,320.41 L439.40,320.33 L439.90,320.24 L440.40,320.17 L440.90,320.09 L441.40,320.01 L441.90,319.94 L442.40,319.87 L442.90,319.80 L443.40,319.73 L443.90,319.66 L444.40,319.60 L444.90,319.54 L445.40,319.47 L445.90,319.41 L446.40,319.35 L446.90,319.30 L447.40,319.24 L447.90,319.18 L448.40,319.13 L448.90,319.08 L449.40,319.03 L449.90,318.98 L450.40,318.93 L450.90,318.88 L451.40,318.83 L451.90,318.79 L452.40,318.74 L452.90,318.70 L453.40,318.65 L453.90,318.61 L454.40,318.57 L454.90,318.53 L455.40,318.49 L455.90,318.45 L456.40,318.41 L456.90,318.37 L457.40,318.34 L457.90,318.30 L458.40,318.26 L458.90,318.23 L459.40,318.20 L459.90,318.16 L460.40,318.13 L460.90,318.10 L461.40,318.07 L461.8,315.5 L261.4,315.5 Z" fill="#22A74A" stroke="#222" stroke-opacity="0.6" stroke-width="0.45"/>
<path d="M261.40,316.00 L261.90,316.01 L262.40,316.01 L262.90,316.02 L263.40,316.03 L263.90,316.03 L264.40,316.04 L264.90,316.05 L265.40,316.06 L265.90,316.06 L266.40,316.07 L266.90,316.08 L267.40,316.09 L267.90,316.09 L268.40,316.10 L268.90,316.11 L269.40,316.12 L269.90,316.13 L270.40,316.14 L270.90,316.15 L271.40,316.16 L271.90,316.17 L272.40,316.18 L272.90,316.19 L273.40,316.20 L273.90,316.21 L274.40,316.22 L274.90,316.23 L275.40,316.24 L275.90,316.25 L276.40,316.26 L276.90,316.28 L277.40,316.29 L277.90,316.30 L278.40,316.31 L278.90,316.33 L279.40,316.34 L279.90,316.36 L280.40,316.37 L280.90,316.39 L281.40,316.40 L281.90,316.42 L282.40,316.43 L282.90,316.45 L283.40,316.47 L283.90,316.48 L284.40,316.50 L284.90,316.52 L285.40,316.54 L285.90,316.56 L286.40,316.58 L286.90,316.60 L287.40,316.62 L287.90,316.64 L288.40,316.67 L288.90,316.69 L289.40,316.72 L289.90,316.74 L290.40,316.77 L290.90,316.79 L291.40,316.82 L291.90,316.85 L292.40,316.88 L292.90,316.91 L293.40,316.94 L293.90,316.97 L294.40,317.01 L294.90,317.04 L295.40,317.08 L295.90,317.12 L296.40,317.16 L296.90,317.20 L297.40,317.24 L297.90,317.28 L298.40,317.33 L298.90,317.38 L299.40,317.43 L299.90,317.48 L300.40,317.53 L300.90,317.59 L301.40,317.65 L301.90,317.71 L302.40,317.77 L302.90,317.84 L303.40,317.91 L303.90,317.98 L304.40,318.05 L304.90,318.13 L305.40,318.22 L305.90,318.31 L306.40,318.40 L306.90,318.49 L307.40,318.59 L307.90,318.70 L308.40,318.81 L308.90,318.93 L309.40,319.06 L309.90,319.19 L310.40,319.33 L310.90,319.47 L311.40,319.63 L311.90,319.79 L312.40,319.97 L312.90,320.15 L313.40,320.35 L313.90,320.56 L314.40,320.78 L314.90,321.02 L315.40,321.27 L315.90,321.54 L316.40,321.83 L316.90,322.13 L317.40,322.46 L317.90,322.81 L318.40,323.18 L318.90,323.58 L319.40,324.01 L319.90,324.47 L320.40,324.96 L320.90,325.49 L321.40,326.05 L321.90,326.65 L322.40,327.29 L322.90,327.98 L323.40,328.70 L323.90,329.48 L324.40,330.29 L324.90,331.14 L325.40,332.04 L325.90,332.96 L326.40,333.92 L326.90,334.88 L327.40,335.86 L327.90,336.81 L328.40,337.74 L328.90,338.61 L329.40,339.41 L329.90,340.11 L330.40,340.69 L330.90,341.12 L331.40,341.40 L331.90,341.51 L332.40,341.45 L332.90,341.22 L333.40,340.83 L333.90,340.30 L334.40,339.65 L334.90,338.90 L335.40,338.07 L335.90,337.20 L336.40,336.29 L336.90,335.37 L337.40,334.45 L337.90,333.55 L338.40,332.68 L338.90,331.84 L339.40,331.04 L339.90,330.28 L340.40,329.56 L340.90,328.90 L341.40,328.27 L341.90,327.69 L342.40,327.16 L342.90,326.66 L343.40,326.20 L343.90,325.78 L344.40,325.40 L344.90,325.04 L345.40,324.72 L345.90,324.43 L346.40,324.16 L346.90,323.92 L347.40,323.71 L347.90,323.52 L348.40,323.35 L348.90,323.21 L349.40,323.08 L349.90,322.97 L350.40,322.88 L350.90,322.82 L351.40,322.76 L351.90,322.73 L352.40,322.72 L352.90,322.72 L353.40,322.74 L353.90,322.77 L354.40,322.83 L354.90,322.90 L355.40,322.99 L355.90,323.10 L356.40,323.23 L356.90,323.38 L357.40,323.56 L357.90,323.75 L358.40,323.97 L358.90,324.21 L359.40,324.48 L359.90,324.78 L360.40,325.11 L360.90,325.47 L361.40,325.86 L361.90,326.29 L362.40,326.76 L362.90,327.26 L363.40,327.81 L363.90,328.39 L364.40,329.03 L364.90,329.70 L365.40,330.43 L365.90,331.19 L366.40,332.00 L366.90,332.85 L367.40,333.73 L367.90,334.63 L368.40,335.55 L368.90,336.47 L369.40,337.37 L369.90,338.24 L370.40,339.06 L370.90,339.79 L371.40,340.42 L371.90,340.92 L372.40,341.28 L372.90,341.47 L373.40,341.50 L373.90,341.36 L374.40,341.05 L374.90,340.58 L375.40,339.98 L375.90,339.26 L376.40,338.45 L376.90,337.56 L377.40,336.62 L377.90,335.66 L378.40,334.69 L378.90,333.72 L379.40,332.78 L379.90,331.86 L380.40,330.97 L380.90,330.12 L381.40,329.32 L381.90,328.56 L382.40,327.84 L382.90,327.16 L383.40,326.53 L383.90,325.93 L384.40,325.38 L384.90,324.86 L385.40,324.38 L385.90,323.92 L386.40,323.50 L386.90,323.11 L387.40,322.74 L387.90,322.39 L388.40,322.07 L388.90,321.77 L389.40,321.48 L389.90,321.22 L390.40,320.97 L390.90,320.74 L391.40,320.52 L391.90,320.31 L392.40,320.12 L392.90,319.93 L393.40,319.76 L393.90,319.60 L394.40,319.44 L394.90,319.30 L395.40,319.16 L395.90,319.03 L396.40,318.91 L396.90,318.79 L397.40,318.68 L397.90,318.57 L398.40,318.47 L398.90,318.38 L399.40,318.29 L399.90,318.20 L400.40,318.12 L400.90,318.04 L401.40,317.96 L401.90,317.89 L402.40,317.82 L402.90,317.76 L403.40,317.69 L403.90,317.63 L404.40,317.58 L404.90,317.52 L405.40,317.47 L405.90,317.42 L406.40,317.37 L406.90,317.32 L407.40,317.28 L407.90,317.23 L408.40,317.19 L408.90,317.15 L409.40,317.11 L409.90,317.07 L410.40,317.04 L410.90,317.00 L411.40,316.97 L411.90,316.94 L412.40,316.90 L412.90,316.87 L413.40,316.84 L413.90,316.82 L414.40,316.79 L414.90,316.76 L415.40,316.74 L415.90,316.71 L416.40,316.69 L416.90,316.66 L417.40,316.64 L417.90,316.62 L418.40,316.60 L418.90,316.58 L419.40,316.56 L419.90,316.54 L420.40,316.52 L420.90,316.50 L421.40,316.48 L421.90,316.46 L422.40,316.45 L422.90,316.43 L423.40,316.41 L423.90,316.40 L424.40,316.38 L424.90,316.37 L425.40,316.35 L425.90,316.34 L426.40,316.33 L426.90,316.31 L427.40,316.30 L427.90,316.29 L428.40,316.27 L428.90,316.26 L429.40,316.25 L429.90,316.24 L430.40,316.23 L430.90,316.22 L431.40,316.20 L431.90,316.19 L432.40,316.18 L432.90,316.17 L433.40,316.16 L433.90,316.15 L434.40,316.15 L434.90,316.14 L435.40,316.13 L435.90,316.12 L436.40,316.11 L436.90,316.10 L437.40,316.09 L437.90,316.09 L438.40,316.08 L438.90,316.07 L439.40,316.06 L439.90,316.05 L440.40,316.05 L440.90,316.04 L441.40,316.03 L441.90,316.03 L442.40,316.02 L442.90,316.01 L443.40,316.01 L443.90,316.00 L444.40,315.99 L444.90,315.99 L445.40,315.98 L445.90,315.98 L446.40,315.97 L446.90,315.96 L447.40,315.96 L447.90,315.95 L448.40,315.95 L448.90,315.94 L449.40,315.94 L449.90,315.93 L450.40,315.93 L450.90,315.92 L451.40,315.92 L451.90,315.91 L452.40,315.91 L452.90,315.90 L453.40,315.90 L453.90,315.90 L454.40,315.89 L454.90,315.89 L455.40,315.88 L455.90,315.88 L456.40,315.87 L456.90,315.87 L457.40,315.87 L457.90,315.86 L458.40,315.86 L458.90,315.86 L459.40,315.85 L459.90,315.85 L460.40,315.84 L460.90,315.84 L461.40,315.84 L461.8,315.5 L261.4,315.5 Z" fill="#219FDB" stroke="#222" stroke-opacity="0.6" stroke-width="0.45"/>
<path d="M261.40,315.72 L261.90,315.72 L262.40,315.72 L262.90,315.73 L263.40,315.73 L263.90,315.73 L264.40,315.74 L264.90,315.74 L265.40,315.74 L265.90,315.75 L266.40,315.75 L266.90,315.75 L267.40,315.76 L267.90,315.76 L268.40,315.76 L268.90,315.77 L269.40,315.77 L269.90,315.78 L270.40,315.78 L270.90,315.78 L271.40,315.79 L271.90,315.79 L272.40,315.80 L272.90,315.80 L273.40,315.81 L273.90,315.81 L274.40,315.82 L274.90,315.82 L275.40,315.83 L275.90,315.83 L276.40,315.84 L276.90,315.84 L277.40,315.85 L277.90,315.86 L278.40,315.86 L278.90,315.87 L279.40,315.87 L279.90,315.88 L280.40,315.89 L280.90,315.89 L281.40,315.90 L281.90,315.91 L282.40,315.92 L282.90,315.92 L283.40,315.93 L283.90,315.94 L284.40,315.95 L284.90,315.96 L285.40,315.97 L285.90,315.98 L286.40,315.99 L286.90,316.00 L287.40,316.01 L287.90,316.02 L288.40,316.03 L288.90,316.04 L289.40,316.05 L289.90,316.06 L290.40,316.08 L290.90,316.09 L291.40,316.10 L291.90,316.12 L292.40,316.13 L292.90,316.15 L293.40,316.16 L293.90,316.18 L294.40,316.20 L294.90,316.21 L295.40,316.23 L295.90,316.25 L296.40,316.27 L296.90,316.29 L297.40,316.31 L297.90,316.33 L298.40,316.36 L298.90,316.38 L299.40,316.41 L299.90,316.43 L300.40,316.46 L300.90,316.49 L301.40,316.52 L301.90,316.55 L302.40,316.58 L302.90,316.62 L303.40,316.66 L303.90,316.69 L304.40,316.74 L304.90,316.78 L305.40,316.82 L305.90,316.87 L306.40,316.92 L306.90,316.97 L307.40,317.03 L307.90,317.09 L308.40,317.15 L308.90,317.22 L309.40,317.29 L309.90,317.37 L310.40,317.45 L310.90,317.53 L311.40,317.63 L311.90,317.72 L312.40,317.83 L312.90,317.94 L313.40,318.06 L313.90,318.19 L314.40,318.33 L314.90,318.48 L315.40,318.65 L315.90,318.82 L316.40,319.01 L316.90,319.22 L317.40,319.45 L317.90,319.69 L318.40,319.95 L318.90,320.24 L319.40,320.56 L319.90,320.90 L320.40,321.27 L320.90,321.67 L321.40,322.11 L321.90,322.59 L322.40,323.11 L322.90,323.67 L323.40,324.27 L323.90,324.91 L324.40,325.59 L324.90,326.30 L325.40,327.04 L325.90,327.78 L326.40,328.51 L326.90,329.21 L327.40,329.86 L327.90,330.42 L328.40,330.88 L328.90,331.19 L329.40,331.36 L329.90,331.36 L330.40,331.19 L330.90,330.88 L331.40,330.44 L331.90,329.89 L332.40,329.26 L332.90,328.58 L333.40,327.88 L333.90,327.17 L334.40,326.48 L334.90,325.81 L335.40,325.18 L335.90,324.58 L336.40,324.03 L336.90,323.51 L337.40,323.05 L337.90,322.62 L338.40,322.23 L338.90,321.88 L339.40,321.56 L339.90,321.27 L340.40,321.02 L340.90,320.79 L341.40,320.58 L341.90,320.40 L342.40,320.25 L342.90,320.11 L343.40,319.99 L343.90,319.89 L344.40,319.81 L344.90,319.74 L345.40,319.69 L345.90,319.66 L346.40,319.64 L346.90,319.64 L347.40,319.65 L347.90,319.67 L348.40,319.71 L348.90,319.77 L349.40,319.84 L349.90,319.93 L350.40,320.04 L350.90,320.16 L351.40,320.31 L351.90,320.47 L352.40,320.66 L352.90,320.88 L353.40,321.12 L353.90,321.38 L354.40,321.68 L354.90,322.01 L355.40,322.38 L355.90,322.78 L356.40,323.23 L356.90,323.71 L357.40,324.24 L357.90,324.81 L358.40,325.42 L358.90,326.07 L359.40,326.75 L359.90,327.45 L360.40,328.16 L360.90,328.86 L361.40,329.52 L361.90,330.12 L362.40,330.63 L362.90,331.02 L363.40,331.28 L363.90,331.38 L364.40,331.31 L364.90,331.08 L365.40,330.71 L365.90,330.21 L366.40,329.61 L366.90,328.94 L367.40,328.22 L367.90,327.48 L368.40,326.74 L368.90,326.02 L369.40,325.32 L369.90,324.65 L370.40,324.03 L370.90,323.44 L371.40,322.90 L371.90,322.40 L372.40,321.93 L372.90,321.51 L373.40,321.12 L373.90,320.76 L374.40,320.43 L374.90,320.12 L375.40,319.85 L375.90,319.59 L376.40,319.35 L376.90,319.14 L377.40,318.94 L377.90,318.75 L378.40,318.58 L378.90,318.42 L379.40,318.28 L379.90,318.14 L380.40,318.01 L380.90,317.90 L381.40,317.79 L381.90,317.68 L382.40,317.59 L382.90,317.50 L383.40,317.41 L383.90,317.34 L384.40,317.26 L384.90,317.19 L385.40,317.13 L385.90,317.07 L386.40,317.01 L386.90,316.95 L387.40,316.90 L387.90,316.85 L388.40,316.80 L388.90,316.76 L389.40,316.72 L389.90,316.68 L390.40,316.64 L390.90,316.60 L391.40,316.57 L391.90,316.54 L392.40,316.51 L392.90,316.48 L393.40,316.45 L393.90,316.42 L394.40,316.40 L394.90,316.37 L395.40,316.35 L395.90,316.32 L396.40,316.30 L396.90,316.28 L397.40,316.26 L397.90,316.24 L398.40,316.22 L398.90,316.21 L399.40,316.19 L399.90,316.17 L400.40,316.16 L400.90,316.14 L401.40,316.13 L401.90,316.11 L402.40,316.10 L402.90,316.08 L403.40,316.07 L403.90,316.06 L404.40,316.05 L404.90,316.04 L405.40,316.02 L405.90,316.01 L406.40,316.00 L406.90,315.99 L407.40,315.98 L407.90,315.97 L408.40,315.96 L408.90,315.95 L409.40,315.95 L409.90,315.94 L410.40,315.93 L410.90,315.92 L411.40,315.91 L411.90,315.91 L412.40,315.90 L412.90,315.89 L413.40,315.88 L413.90,315.88 L414.40,315.87 L414.90,315.86 L415.40,315.86 L415.90,315.85 L416.40,315.85 L416.90,315.84 L417.40,315.84 L417.90,315.83 L418.40,315.82 L418.90,315.82 L419.40,315.81 L419.90,315.81 L420.40,315.80 L420.90,315.80 L421.40,315.80 L421.90,315.79 L422.40,315.79 L422.90,315.78 L423.40,315.78 L423.90,315.77 L424.40,315.77 L424.90,315.77 L425.40,315.76 L425.90,315.76 L426.40,315.75 L426.90,315.75 L427.40,315.75 L427.90,315.74 L428.40,315.74 L428.90,315.74 L429.40,315.73 L429.90,315.73 L430.40,315.73 L430.90,315.73 L431.40,315.72 L431.90,315.72 L432.40,315.72 L432.90,315.71 L433.40,315.71 L433.90,315.71 L434.40,315.71 L434.90,315.70 L435.40,315.70 L435.90,315.70 L436.40,315.70 L436.90,315.69 L437.40,315.69 L437.90,315.69 L438.40,315.69 L438.90,315.68 L439.40,315.68 L439.90,315.68 L440.40,315.68 L440.90,315.68 L441.40,315.67 L441.90,315.67 L442.40,315.67 L442.90,315.67 L443.40,315.67 L443.90,315.66 L444.40,315.66 L444.90,315.66 L445.40,315.66 L445.90,315.66 L446.40,315.66 L446.90,315.65 L447.40,315.65 L447.90,315.65 L448.40,315.65 L448.90,315.65 L449.40,315.65 L449.90,315.64 L450.40,315.64 L450.90,315.64 L451.40,315.64 L451.90,315.64 L452.40,315.64 L452.90,315.64 L453.40,315.63 L453.90,315.63 L454.40,315.63 L454.90,315.63 L455.40,315.63 L455.90,315.63 L456.40,315.63 L456.90,315.63 L457.40,315.62 L457.90,315.62 L458.40,315.62 L458.90,315.62 L459.40,315.62 L459.90,315.62 L460.40,315.62 L460.90,315.62 L461.40,315.61 L461.8,315.5 L261.4,315.5 Z" fill="#BE1226" stroke="#222" stroke-opacity="0.6" stroke-width="0.45"/>
<path d="M261.40,319.08 L261.90,319.11 L262.40,319.14 L262.90,319.17 L263.40,319.20 L263.90,319.23 L264.40,319.26 L264.90,319.29 L265.40,319.32 L265.90,319.35 L266.40,319.39 L266.90,319.42 L267.40,319.46 L267.90,319.49 L268.40,319.53 L268.90,319.56 L269.40,319.60 L269.90,319.64 L270.40,319.68 L270.90,319.72 L271.40,319.76 L271.90,319.80 L272.40,319.84 L272.90,319.88 L273.40,319.93 L273.90,319.97 L274.40,320.01 L274.90,320.06 L275.40,320.11 L275.90,320.16 L276.40,320.20 L276.90,320.26 L277.40,320.31 L277.90,320.36 L278.40,320.41 L278.90,320.47 L279.40,320.52 L279.90,320.58 L280.40,320.64 L280.90,320.70 L281.40,320.76 L281.90,320.82 L282.40,320.88 L282.90,320.95 L283.40,321.02 L283.90,321.09 L284.40,321.16 L284.90,321.23 L285.40,321.30 L285.90,321.38 L286.40,321.45 L286.90,321.53 L287.40,321.62 L287.90,321.70 L288.40,321.78 L288.90,321.87 L289.40,321.96 L289.90,322.06 L290.40,322.15 L290.90,322.25 L291.40,322.35 L291.90,322.45 L292.40,322.56 L292.90,322.67 L293.40,322.78 L293.90,322.90 L294.40,323.02 L294.90,323.14 L295.40,323.27 L295.90,323.40 L296.40,323.53 L296.90,323.67 L297.40,323.81 L297.90,323.96 L298.40,324.11 L298.90,324.27 L299.40,324.43 L299.90,324.60 L300.40,324.78 L300.90,324.95 L301.40,325.12 L301.90,325.30 L302.40,325.47 L302.90,325.65 L303.40,325.83 L303.90,326.01 L304.40,326.20 L304.90,326.40 L305.40,326.60 L305.90,326.81 L306.40,327.02 L306.90,327.25 L307.40,327.49 L307.90,327.73 L308.40,328.00 L308.90,328.27 L309.40,328.56 L309.90,328.87 L310.40,329.20 L310.90,329.54 L311.40,329.91 L311.90,330.30 L312.40,330.72 L312.90,331.17 L313.40,331.64 L313.90,332.15 L314.40,332.69 L314.90,333.27 L315.40,333.89 L315.90,334.55 L316.40,335.26 L316.90,336.03 L317.40,336.84 L317.90,337.72 L318.40,338.69 L318.90,339.88 L319.40,341.26 L319.90,342.79 L320.40,344.46 L320.90,346.22 L321.40,348.07 L321.90,349.99 L322.40,352.00 L322.90,354.14 L323.40,356.38 L323.90,358.68 L324.40,361.01 L324.90,363.33 L325.40,365.63 L325.90,367.87 L326.40,370.05 L326.90,372.14 L327.40,374.14 L327.90,376.01 L328.40,377.72 L328.90,379.26 L329.40,380.60 L329.90,381.73 L330.40,382.64 L330.90,383.35 L331.40,383.86 L331.90,384.17 L332.40,384.29 L332.90,384.25 L333.40,384.09 L333.90,383.84 L334.40,383.54 L334.90,383.25 L335.40,382.99 L335.90,382.81 L336.40,382.75 L336.90,382.82 L337.40,383.04 L337.90,383.38 L338.40,383.82 L338.90,384.35 L339.40,384.93 L339.90,385.56 L340.40,386.21 L340.90,386.85 L341.40,387.49 L341.90,388.10 L342.40,388.67 L342.90,389.20 L343.40,389.66 L343.90,390.05 L344.40,390.36 L344.90,390.57 L345.40,390.68 L345.90,390.65 L346.40,390.50 L346.90,390.21 L347.40,389.79 L347.90,389.26 L348.40,388.62 L348.90,387.90 L349.40,387.09 L349.90,386.22 L350.40,385.30 L350.90,384.32 L351.40,383.31 L351.90,382.26 L352.40,381.21 L352.90,380.17 L353.40,379.17 L353.90,378.22 L354.40,377.35 L354.90,376.56 L355.40,375.87 L355.90,375.29 L356.40,374.82 L356.90,374.46 L357.40,374.22 L357.90,374.11 L358.40,374.13 L358.90,374.28 L359.40,374.54 L359.90,374.90 L360.40,375.33 L360.90,375.79 L361.40,376.25 L361.90,376.69 L362.40,377.08 L362.90,377.41 L363.40,377.66 L363.90,377.85 L364.40,378.00 L364.90,378.10 L365.40,378.17 L365.90,378.23 L366.40,378.27 L366.90,378.32 L367.40,378.37 L367.90,378.43 L368.40,378.49 L368.90,378.54 L369.40,378.59 L369.90,378.63 L370.40,378.65 L370.90,378.64 L371.40,378.62 L371.90,378.56 L372.40,378.47 L372.90,378.36 L373.40,378.23 L373.90,378.08 L374.40,377.92 L374.90,377.76 L375.40,377.61 L375.90,377.47 L376.40,377.35 L376.90,377.26 L377.40,377.19 L377.90,377.16 L378.40,377.18 L378.90,377.24 L379.40,377.36 L379.90,377.55 L380.40,377.81 L380.90,378.14 L381.40,378.53 L381.90,378.99 L382.40,379.49 L382.90,380.03 L383.40,380.58 L383.90,381.14 L384.40,381.68 L384.90,382.21 L385.40,382.71 L385.90,383.18 L386.40,383.61 L386.90,384.00 L387.40,384.34 L387.90,384.61 L388.40,384.83 L388.90,384.97 L389.40,385.04 L389.90,385.01 L390.40,384.88 L390.90,384.65 L391.40,384.32 L391.90,383.87 L392.40,383.32 L392.90,382.66 L393.40,381.90 L393.90,381.04 L394.40,380.07 L394.90,379.01 L395.40,377.86 L395.90,376.63 L396.40,375.31 L396.90,373.92 L397.40,372.46 L397.90,370.93 L398.40,369.35 L398.90,367.73 L399.40,366.08 L399.90,364.37 L400.40,362.63 L400.90,360.87 L401.40,359.11 L401.90,357.37 L402.40,355.68 L402.90,354.01 L403.40,352.35 L403.90,350.69 L404.40,349.04 L404.90,347.42 L405.40,345.87 L405.90,344.43 L406.40,343.12 L406.90,342.00 L407.40,341.07 L407.90,340.23 L408.40,339.43 L408.90,338.67 L409.40,337.95 L409.90,337.26 L410.40,336.60 L410.90,335.98 L411.40,335.38 L411.90,334.82 L412.40,334.28 L412.90,333.76 L413.40,333.27 L413.90,332.81 L414.40,332.36 L414.90,331.94 L415.40,331.53 L415.90,331.14 L416.40,330.77 L416.90,330.42 L417.40,330.08 L417.90,329.75 L418.40,329.44 L418.90,329.14 L419.40,328.85 L419.90,328.57 L420.40,328.30 L420.90,328.04 L421.40,327.79 L421.90,327.54 L422.40,327.30 L422.90,327.07 L423.40,326.85 L423.90,326.62 L424.40,326.41 L424.90,326.19 L425.40,325.98 L425.90,325.78 L426.40,325.58 L426.90,325.39 L427.40,325.20 L427.90,325.02 L428.40,324.85 L428.90,324.68 L429.40,324.52 L429.90,324.36 L430.40,324.20 L430.90,324.05 L431.40,323.91 L431.90,323.77 L432.40,323.63 L432.90,323.50 L433.40,323.37 L433.90,323.24 L434.40,323.12 L434.90,323.00 L435.40,322.89 L435.90,322.78 L436.40,322.67 L436.90,322.56 L437.40,322.46 L437.90,322.36 L438.40,322.26 L438.90,322.16 L439.40,322.07 L439.90,321.98 L440.40,321.89 L440.90,321.80 L441.40,321.72 L441.90,321.64 L442.40,321.56 L442.90,321.48 L443.40,321.40 L443.90,321.33 L444.40,321.25 L444.90,321.18 L445.40,321.11 L445.90,321.05 L446.40,320.98 L446.90,320.91 L447.40,320.85 L447.90,320.79 L448.40,320.73 L448.90,320.67 L449.40,320.61 L449.90,320.55 L450.40,320.50 L450.90,320.44 L451.40,320.39 L451.90,320.34 L452.40,320.29 L452.90,320.24 L453.40,320.19 L453.90,320.14 L454.40,320.09 L454.90,320.04 L455.40,320.00 L455.90,319.95 L456.40,319.91 L456.90,319.87 L457.40,319.83 L457.90,319.79 L458.40,319.75 L458.90,319.71 L459.40,319.67 L459.90,319.63 L460.40,319.59 L460.90,319.55 L461.40,319.52" fill="none" stroke="#FFE51A" stroke-width="2.0" stroke-linejoin="round"/>
<path d="M261.5,331.2h0M261.7,311.5h0M261.8,324.2h0M262.0,318.5h0M262.2,321.6h0M262.4,318.7h0M262.6,328.1h0M262.7,323.8h0M262.9,314.4h0M263.1,315.7h0M263.3,317.1h0M263.5,321.7h0M263.7,311.3h0M263.9,328.6h0M264.1,318.6h0M264.3,312.0h0M264.5,337.4h0M264.7,309.1h0M264.9,321.4h0M265.1,335.1h0M265.4,331.0h0M265.6,329.3h0M265.8,323.5h0M266.0,320.2h0M266.2,323.8h0M266.5,317.6h0M266.7,310.7h0M266.9,323.3h0M267.2,318.3h0M267.4,327.8h0M267.6,324.1h0M267.9,311.4h0M268.1,325.6h0M268.4,327.5h0M268.6,311.2h0M268.9,308.4h0M269.1,318.0h0M269.4,316.2h0M269.6,315.8h0M269.9,319.1h0M270.1,322.3h0M270.4,316.4h0M270.7,318.4h0M270.9,325.8h0M271.2,312.6h0M271.5,317.3h0M271.7,325.3h0M272.0,324.6h0M272.3,323.2h0M272.6,306.9h0M272.8,320.4h0M273.1,312.9h0M273.4,318.0h0M273.7,311.8h0M274.0,319.1h0M274.3,314.0h0M274.6,312.6h0M274.8,320.9h0M275.1,315.3h0M275.4,331.9h0M275.7,319.7h0M276.0,320.0h0M276.3,327.7h0M276.7,319.5h0M277.0,320.2h0M277.3,316.0h0M277.6,322.2h0M277.9,322.3h0M278.2,317.9h0M278.5,315.8h0M278.8,327.9h0M279.2,318.6h0M279.5,322.9h0M279.8,322.9h0M280.1,323.5h0M280.5,328.5h0M280.8,317.0h0M281.1,327.5h0M281.5,317.8h0M281.8,324.9h0M282.2,306.9h0M282.5,320.1h0M282.8,317.2h0M283.2,333.5h0M283.5,322.9h0M283.9,323.8h0M284.2,303.5h0M284.6,328.8h0M284.9,325.2h0M285.3,327.2h0M285.6,323.2h0M286.0,322.1h0M286.4,335.3h0M286.7,321.1h0M287.1,326.2h0M287.4,325.8h0M287.8,325.8h0M288.2,326.0h0M288.6,323.9h0M288.9,327.5h0M289.3,327.8h0M289.7,310.1h0M290.0,313.8h0M290.4,315.6h0M290.8,330.5h0M291.2,323.5h0M291.6,336.1h0M292.0,332.5h0M292.3,322.3h0M292.7,319.1h0M293.1,317.5h0M293.5,319.2h0M293.9,326.5h0M294.3,325.0h0M294.7,338.5h0M295.1,330.3h0M295.5,342.0h0M295.9,318.2h0M296.3,325.3h0M296.7,328.5h0M297.1,326.2h0M297.5,329.9h0M297.9,330.0h0M298.3,324.8h0M298.8,325.6h0M299.2,323.7h0M299.6,325.5h0M300.0,333.6h0M300.4,321.2h0M300.8,339.4h0M301.2,327.8h0M301.7,325.4h0M302.1,328.2h0M302.5,326.6h0M302.9,315.9h0M303.4,326.3h0M303.8,326.7h0M304.2,329.3h0M304.7,328.1h0M305.1,331.8h0M305.5,322.9h0M306.0,334.6h0M306.4,335.9h0M306.8,321.9h0M307.3,328.6h0M307.7,325.8h0M308.2,329.0h0M308.6,329.8h0M309.0,321.2h0M309.5,331.4h0M309.9,330.0h0M310.4,330.7h0M310.8,335.1h0M311.3,329.4h0M311.7,325.7h0M312.2,336.3h0M312.6,324.7h0M313.1,327.7h0M313.5,337.2h0M314.0,330.4h0M314.5,338.3h0M314.9,343.3h0M315.4,330.5h0M315.8,342.6h0M316.3,330.2h0M316.8,344.0h0M317.2,350.6h0M317.7,344.0h0M318.2,334.3h0M318.6,346.3h0M319.1,337.2h0M319.6,342.5h0M320.0,362.9h0M320.5,345.5h0M321.0,346.8h0M321.5,353.9h0M321.9,354.1h0M322.4,347.7h0M322.9,362.2h0M323.4,366.5h0M323.8,359.1h0M324.3,370.1h0M324.8,380.3h0M325.3,374.2h0M325.7,366.0h0M326.2,363.2h0M326.7,366.1h0M327.2,375.9h0M327.7,369.4h0M328.2,374.1h0M328.7,380.5h0M329.1,362.9h0M329.6,380.8h0M330.1,376.2h0M330.6,385.7h0M331.1,382.5h0M331.6,380.2h0M332.1,390.4h0M332.6,383.2h0M333.1,373.4h0M333.6,389.8h0M334.0,383.7h0M334.5,383.0h0M335.0,363.6h0M335.5,381.3h0M336.0,387.9h0M336.5,371.0h0M337.0,389.8h0M337.5,393.2h0M338.0,380.9h0M338.5,387.3h0M339.0,386.7h0M339.5,372.9h0M340.0,388.0h0M340.5,388.2h0M341.0,388.9h0M341.5,383.8h0M342.0,386.9h0M342.5,382.3h0M343.0,390.5h0M343.5,383.4h0M344.0,375.6h0M344.5,389.1h0M345.0,401.2h0M345.6,397.3h0M346.1,391.6h0M346.6,386.6h0M347.1,382.7h0M347.6,384.5h0M348.1,386.4h0M348.6,393.7h0M349.1,378.3h0M349.6,384.6h0M350.1,387.0h0M350.6,376.2h0M351.1,385.5h0M351.6,383.6h0M352.2,368.8h0M352.7,385.3h0M353.2,383.2h0M353.7,381.8h0M354.2,369.4h0M354.7,382.2h0M355.2,384.4h0M355.7,371.8h0M356.2,376.6h0M356.7,374.6h0M357.3,381.0h0M357.8,367.4h0M358.3,374.8h0M358.8,387.5h0M359.3,368.8h0M359.8,382.2h0M360.3,369.6h0M360.8,376.6h0M361.3,355.8h0M361.9,369.8h0M362.4,393.0h0M362.9,380.5h0M363.4,377.1h0M363.9,384.4h0M364.4,378.8h0M364.9,372.9h0M365.4,381.9h0M365.9,387.5h0M366.5,382.1h0M367.0,363.8h0M367.5,384.3h0M368.0,365.0h0M368.5,371.8h0M369.0,383.8h0M369.5,375.7h0M370.0,377.6h0M370.5,370.6h0M371.0,381.3h0M371.6,370.5h0M372.1,387.2h0M372.6,383.9h0M373.1,380.6h0M373.6,374.4h0M374.1,378.3h0M374.6,388.2h0M375.1,376.7h0M375.6,381.4h0M376.1,380.9h0M376.6,384.8h0M377.1,375.4h0M377.6,391.0h0M378.2,382.4h0M378.7,378.2h0M379.2,378.9h0M379.7,384.7h0M380.2,373.1h0M380.7,383.3h0M381.2,378.9h0M381.7,380.7h0M382.2,393.1h0M382.7,394.0h0M383.2,382.5h0M383.7,382.6h0M384.2,388.1h0M384.7,376.4h0M385.2,388.0h0M385.7,384.4h0M386.2,387.1h0M386.7,391.3h0M387.2,385.9h0M387.7,384.8h0M388.2,386.8h0M388.7,378.7h0M389.2,393.5h0M389.6,388.7h0M390.1,388.0h0M390.6,376.9h0M391.1,372.8h0M391.6,393.7h0M392.1,396.3h0M392.6,380.1h0M393.1,388.8h0M393.6,379.5h0M394.1,385.9h0M394.5,394.8h0M395.0,384.6h0M395.5,369.8h0M396.0,373.2h0M396.5,375.4h0M397.0,379.7h0M397.5,376.9h0M397.9,379.4h0M398.4,376.2h0M398.9,377.7h0M399.4,377.2h0M399.8,373.4h0M400.3,367.7h0M400.8,363.2h0M401.3,365.9h0M401.7,363.2h0M402.2,357.4h0M402.7,351.6h0M403.2,363.8h0M403.6,345.3h0M404.1,350.5h0M404.6,344.5h0M405.0,342.0h0M405.5,345.9h0M406.0,340.9h0M406.4,342.1h0M406.9,335.0h0M407.4,338.8h0M407.8,348.0h0M408.3,337.8h0M408.7,336.3h0M409.2,342.0h0M409.7,321.2h0M410.1,329.3h0M410.6,332.9h0M411.0,336.3h0M411.5,336.8h0M411.9,344.7h0M412.4,341.1h0M412.8,331.9h0M413.3,336.5h0M413.7,334.0h0M414.2,340.6h0M414.6,336.1h0M415.0,338.5h0M415.5,335.1h0M415.9,338.2h0M416.4,341.2h0M416.8,340.3h0M417.2,356.1h0M417.7,345.1h0M418.1,330.4h0M418.5,323.2h0M419.0,330.4h0M419.4,334.2h0M419.8,332.6h0M420.3,339.3h0M420.7,332.7h0M421.1,340.3h0M421.5,320.2h0M422.0,335.9h0M422.4,324.5h0M422.8,328.4h0M423.2,324.1h0M423.6,321.9h0M424.0,325.2h0M424.4,320.7h0M424.9,326.8h0M425.3,335.1h0M425.7,313.6h0M426.1,321.4h0M426.5,317.1h0M426.9,320.8h0M427.3,326.7h0M427.7,307.5h0M428.1,334.0h0M428.5,332.4h0M428.9,315.8h0M429.3,324.6h0M429.7,324.3h0M430.1,329.3h0M430.5,317.4h0M430.9,323.7h0M431.2,325.6h0M431.6,330.1h0M432.0,333.5h0M432.4,323.3h0M432.8,328.9h0M433.2,314.2h0M433.5,320.8h0M433.9,327.3h0M434.3,318.2h0M434.6,317.3h0M435.0,315.0h0M435.4,307.6h0M435.8,322.1h0M436.1,313.9h0M436.5,329.4h0M436.8,318.0h0M437.2,317.6h0M437.6,317.1h0M437.9,318.3h0M438.3,321.7h0M438.6,321.5h0M439.0,323.8h0M439.3,324.3h0M439.7,315.6h0M440.0,318.8h0M440.4,317.6h0M440.7,313.7h0M441.0,318.2h0M441.4,320.0h0M441.7,316.6h0M442.1,319.4h0M442.4,327.8h0M442.7,328.7h0M443.1,329.8h0M443.4,322.4h0M443.7,312.8h0M444.0,318.2h0M444.4,320.5h0M444.7,327.5h0M445.0,325.1h0M445.3,323.5h0M445.6,326.9h0M445.9,321.6h0M446.2,312.3h0M446.5,315.0h0M446.9,325.1h0M447.2,312.8h0M447.5,320.3h0M447.8,326.2h0M448.1,321.0h0M448.4,321.2h0M448.6,329.4h0M448.9,323.7h0M449.2,321.7h0M449.5,320.2h0M449.8,326.2h0M450.1,317.7h0M450.4,327.4h0M450.6,332.7h0M450.9,330.4h0M451.2,328.3h0M451.5,329.3h0M451.7,330.7h0M452.0,311.7h0M452.3,332.7h0M452.5,326.5h0M452.8,341.5h0M453.1,333.2h0M453.3,327.7h0M453.6,306.8h0M453.8,316.3h0M454.1,316.8h0M454.3,318.0h0M454.6,319.4h0M454.8,317.7h0M455.1,323.0h0M455.3,323.1h0M455.6,317.5h0M455.8,306.9h0M456.0,314.9h0M456.3,319.6h0M456.5,311.6h0M456.7,313.5h0M457.0,318.8h0M457.2,336.3h0M457.4,312.6h0M457.6,315.2h0M457.8,322.8h0M458.1,318.4h0M458.3,314.1h0M458.5,316.0h0M458.7,314.3h0M458.9,311.2h0M459.1,309.0h0M459.3,311.9h0M459.5,314.6h0M459.7,310.2h0M459.9,312.3h0M460.1,307.5h0M460.3,312.9h0M460.5,308.1h0M460.6,311.8h0M460.8,327.6h0M461.0,332.2h0M461.2,322.9h0M461.4,317.1h0M461.5,308.2h0M461.7,306.7h0" stroke="#000" stroke-width="1.36" stroke-linecap="round" fill="none"/>
<path d="M261.5,287.9h0M261.7,268.2h0M261.8,280.9h0M262.0,275.2h0M262.2,278.3h0M262.4,275.3h0M262.6,284.8h0M262.7,280.4h0M262.9,271.0h0M263.1,272.3h0M263.3,273.7h0M263.5,278.3h0M263.7,267.9h0M263.9,285.2h0M264.1,275.2h0M264.3,268.5h0M264.5,293.9h0M264.7,265.6h0M264.9,277.9h0M265.1,291.6h0M265.4,287.5h0M265.6,285.8h0M265.8,280.0h0M266.0,276.6h0M266.2,280.3h0M266.5,274.0h0M266.7,267.1h0M266.9,279.7h0M267.2,274.6h0M267.4,284.1h0M267.6,280.5h0M267.9,267.7h0M268.1,281.9h0M268.4,283.8h0M268.6,267.5h0M268.9,264.7h0M269.1,274.3h0M269.4,272.4h0M269.6,272.0h0M269.9,275.2h0M270.1,278.4h0M270.4,272.6h0M270.7,274.5h0M270.9,281.9h0M271.2,268.7h0M271.5,273.3h0M271.7,281.3h0M272.0,280.6h0M272.3,279.2h0M272.6,262.8h0M272.8,276.3h0M273.1,268.8h0M273.4,273.8h0M273.7,267.6h0M274.0,274.9h0M274.3,269.8h0M274.6,268.3h0M274.8,276.6h0M275.1,271.0h0M275.4,287.5h0M275.7,275.4h0M276.0,275.6h0M276.3,283.3h0M276.7,275.1h0M277.0,275.8h0M277.3,271.5h0M277.6,277.7h0M277.9,277.8h0M278.2,273.3h0M278.5,271.2h0M278.8,283.3h0M279.2,273.9h0M279.5,278.1h0M279.8,278.2h0M280.1,278.6h0M280.5,283.6h0M280.8,272.1h0M281.1,282.6h0M281.5,272.8h0M281.8,279.9h0M282.2,261.9h0M282.5,275.0h0M282.8,272.0h0M283.2,288.3h0M283.5,277.7h0M283.9,278.5h0M284.2,258.2h0M284.6,283.4h0M284.9,279.7h0M285.3,281.7h0M285.6,277.7h0M286.0,276.5h0M286.4,289.7h0M286.7,275.4h0M287.1,280.5h0M287.4,280.0h0M287.8,279.9h0M288.2,280.1h0M288.6,277.9h0M288.9,281.4h0M289.3,281.7h0M289.7,263.8h0M290.0,267.5h0M290.4,269.2h0M290.8,284.1h0M291.2,277.0h0M291.6,289.6h0M292.0,285.8h0M292.3,275.6h0M292.7,272.3h0M293.1,270.6h0M293.5,272.2h0M293.9,279.4h0M294.3,277.8h0M294.7,291.2h0M295.1,282.9h0M295.5,294.5h0M295.9,270.6h0M296.3,277.6h0M296.7,280.7h0M297.1,278.3h0M297.5,281.8h0M297.9,281.8h0M298.3,276.5h0M298.8,277.2h0M299.2,275.2h0M299.6,276.8h0M300.0,284.8h0M300.4,272.2h0M300.8,290.3h0M301.2,278.5h0M301.7,275.9h0M302.1,278.6h0M302.5,276.9h0M302.9,266.1h0M303.4,276.3h0M303.8,276.5h0M304.2,279.0h0M304.7,277.6h0M305.1,281.1h0M305.5,272.0h0M306.0,283.6h0M306.4,284.7h0M306.8,270.5h0M307.3,277.0h0M307.7,274.0h0M308.2,276.9h0M308.6,277.5h0M309.0,268.7h0M309.5,278.6h0M309.9,276.9h0M310.4,277.3h0M310.8,281.4h0M311.3,275.4h0M311.7,271.3h0M312.2,281.6h0M312.6,269.6h0M313.1,272.2h0M313.5,281.2h0M314.0,273.9h0M314.5,281.3h0M314.9,285.9h0M315.4,272.5h0M315.8,283.9h0M316.3,270.8h0M316.8,283.9h0M317.2,289.9h0M317.7,282.4h0M318.2,271.8h0M318.6,282.8h0M319.1,272.6h0M319.6,276.5h0M320.0,295.5h0M320.5,276.5h0M321.0,276.1h0M321.5,281.4h0M321.9,279.8h0M322.4,271.5h0M322.9,284.0h0M323.4,286.2h0M323.8,276.5h0M324.3,285.3h0M324.8,293.3h0M325.3,285.0h0M325.7,274.6h0M326.2,269.7h0M326.7,270.5h0M327.2,278.4h0M327.7,270.0h0M328.2,273.0h0M328.7,277.8h0M329.1,258.8h0M329.6,275.4h0M330.1,269.9h0M330.6,278.6h0M331.1,274.7h0M331.6,272.0h0M332.1,282.0h0M332.6,274.7h0M333.1,265.0h0M333.6,281.6h0M334.0,275.8h0M334.5,275.3h0M335.0,256.3h0M335.5,274.2h0M336.0,280.9h0M336.5,264.0h0M337.0,282.7h0M337.5,285.9h0M338.0,273.2h0M338.5,279.1h0M339.0,278.1h0M339.5,263.6h0M340.0,278.1h0M340.5,277.7h0M341.0,277.7h0M341.5,271.9h0M342.0,274.4h0M342.5,269.3h0M343.0,277.0h0M343.5,269.4h0M344.0,261.3h0M344.5,274.5h0M345.0,286.4h0M345.6,282.4h0M346.1,276.8h0M346.6,272.0h0M347.1,268.4h0M347.6,270.7h0M348.1,273.1h0M348.6,281.1h0M349.1,266.5h0M349.6,273.7h0M350.1,276.9h0M350.6,267.2h0M351.1,277.5h0M351.6,276.6h0M352.2,262.8h0M352.7,280.4h0M353.2,279.3h0M353.7,278.9h0M354.2,267.5h0M354.7,281.1h0M355.2,284.1h0M355.7,272.1h0M356.2,277.4h0M356.7,275.9h0M357.3,282.5h0M357.8,269.1h0M358.3,276.4h0M358.8,289.0h0M359.3,270.1h0M359.8,283.2h0M360.3,270.2h0M360.8,276.7h0M361.3,255.4h0M361.9,269.0h0M362.4,291.7h0M362.9,279.0h0M363.4,275.2h0M363.9,282.4h0M364.4,276.6h0M364.9,270.6h0M365.4,279.5h0M365.9,285.0h0M366.5,279.6h0M367.0,261.2h0M367.5,281.7h0M368.0,262.4h0M368.5,269.1h0M369.0,281.1h0M369.5,272.9h0M370.0,274.8h0M370.5,267.7h0M371.0,278.5h0M371.6,267.7h0M372.1,284.5h0M372.6,281.3h0M373.1,278.1h0M373.6,272.0h0M374.1,276.1h0M374.6,286.2h0M375.1,274.8h0M375.6,279.6h0M376.1,279.3h0M376.6,283.2h0M377.1,274.0h0M377.6,289.6h0M378.2,281.0h0M378.7,276.8h0M379.2,277.4h0M379.7,283.0h0M380.2,271.2h0M380.7,281.1h0M381.2,276.4h0M381.7,277.7h0M382.2,289.6h0M382.7,290.0h0M383.2,278.0h0M383.7,277.5h0M384.2,282.5h0M384.7,270.2h0M385.2,281.3h0M385.7,277.3h0M386.2,279.5h0M386.7,283.3h0M387.2,277.5h0M387.7,276.1h0M388.2,277.9h0M388.7,269.6h0M389.2,284.3h0M389.6,279.4h0M390.1,278.8h0M390.6,268.0h0M391.1,264.1h0M391.6,285.4h0M392.1,288.5h0M392.6,272.8h0M393.1,282.2h0M393.6,273.7h0M394.1,280.9h0M394.5,290.8h0M395.0,281.7h0M395.5,268.1h0M396.0,272.6h0M396.5,276.2h0M397.0,281.8h0M397.5,280.4h0M397.9,284.3h0M398.4,282.7h0M398.9,285.7h0M399.4,286.8h0M399.8,284.6h0M400.3,280.6h0M400.8,277.8h0M401.3,282.1h0M401.7,281.1h0M402.2,276.9h0M402.7,272.7h0M403.2,286.5h0M403.6,269.5h0M404.1,276.3h0M404.6,271.9h0M405.0,270.8h0M405.5,276.1h0M406.0,272.5h0M406.4,274.8h0M406.9,268.8h0M407.4,273.5h0M407.8,283.4h0M408.3,274.0h0M408.7,273.2h0M409.2,279.5h0M409.7,259.4h0M410.1,268.1h0M410.6,272.3h0M411.0,276.3h0M411.5,277.3h0M411.9,285.8h0M412.4,282.5h0M412.8,273.9h0M413.3,278.9h0M413.7,276.8h0M414.2,283.8h0M414.6,279.7h0M415.0,282.5h0M415.5,279.4h0M415.9,282.9h0M416.4,286.2h0M416.8,285.6h0M417.2,301.7h0M417.7,291.0h0M418.1,276.5h0M418.5,269.6h0M419.0,277.1h0M419.4,281.2h0M419.8,279.8h0M420.3,286.8h0M420.7,280.4h0M421.1,288.1h0M421.5,268.3h0M422.0,284.2h0M422.4,273.0h0M422.8,277.1h0M423.2,273.0h0M423.6,271.0h0M424.0,274.5h0M424.4,270.1h0M424.9,276.4h0M425.3,284.9h0M425.7,263.6h0M426.1,271.5h0M426.5,267.3h0M426.9,271.2h0M427.3,277.3h0M427.7,258.2h0M428.1,284.8h0M428.5,283.4h0M428.9,267.0h0M429.3,275.8h0M429.7,275.6h0M430.1,280.8h0M430.5,269.0h0M430.9,275.4h0M431.2,277.4h0M431.6,282.1h0M432.0,285.5h0M432.4,275.5h0M432.8,281.2h0M433.2,266.5h0M433.5,273.3h0M433.9,279.9h0M434.3,270.9h0M434.6,270.0h0M435.0,267.8h0M435.4,260.5h0M435.8,275.1h0M436.1,267.0h0M436.5,282.6h0M436.8,271.3h0M437.2,270.9h0M437.6,270.5h0M437.9,271.8h0M438.3,275.2h0M438.6,275.1h0M439.0,277.5h0M439.3,278.0h0M439.7,269.4h0M440.0,272.7h0M440.4,271.5h0M440.7,267.7h0M441.0,272.2h0M441.4,274.1h0M441.7,270.7h0M442.1,273.6h0M442.4,282.1h0M442.7,283.0h0M443.1,284.1h0M443.4,276.8h0M443.7,267.3h0M444.0,272.7h0M444.4,275.0h0M444.7,282.1h0M445.0,279.7h0M445.3,278.1h0M445.6,281.6h0M445.9,276.3h0M446.2,267.1h0M446.5,269.8h0M446.9,280.0h0M447.2,267.7h0M447.5,275.3h0M447.8,281.2h0M448.1,276.0h0M448.4,276.3h0M448.6,284.5h0M448.9,278.8h0M449.2,276.9h0M449.5,275.4h0M449.8,281.5h0M450.1,273.0h0M450.4,282.7h0M450.6,288.1h0M450.9,285.8h0M451.2,283.7h0M451.5,284.7h0M451.7,286.2h0M452.0,267.2h0M452.3,288.2h0M452.5,282.1h0M452.8,297.0h0M453.1,288.8h0M453.3,283.3h0M453.6,262.4h0M453.8,272.0h0M454.1,272.5h0M454.3,273.7h0M454.6,275.1h0M454.8,273.4h0M455.1,278.8h0M455.3,278.9h0M455.6,273.3h0M455.8,262.8h0M456.0,270.8h0M456.3,275.5h0M456.5,267.5h0M456.7,269.4h0M457.0,274.7h0M457.2,292.3h0M457.4,268.6h0M457.6,271.2h0M457.8,278.8h0M458.1,274.5h0M458.3,270.2h0M458.5,272.0h0M458.7,270.4h0M458.9,267.3h0M459.1,265.1h0M459.3,268.0h0M459.5,270.7h0M459.7,266.4h0M459.9,268.4h0M460.1,263.6h0M460.3,269.1h0M460.5,264.3h0M460.6,268.0h0M460.8,283.8h0M461.0,288.4h0M461.2,279.2h0M461.4,273.4h0M461.5,264.4h0M461.7,263.0h0" stroke="#7c7c7c" stroke-width="1.29" stroke-linecap="round" fill="none"/>
<line x1="261.4" y1="275.8" x2="461.8" y2="275.8" stroke="#5a5a5a" stroke-width="0.55"/>
</g>
<rect x="261.4" y="240.8" width="200.40000000000003" height="168.5" fill="none" stroke="#707070" stroke-width="0.65"/>
<line x1="280.13" y1="409.3" x2="280.13" y2="406.8" stroke="#7a7a7a" stroke-width="0.6"/>
<text x="279.13" y="418.5" font-size="6.4" text-anchor="middle" fill="#111">-3</text>
<line x1="302.02" y1="409.3" x2="302.02" y2="406.8" stroke="#7a7a7a" stroke-width="0.6"/>
<text x="301.02" y="418.5" font-size="6.4" text-anchor="middle" fill="#111">-2</text>
<line x1="323.91" y1="409.3" x2="323.91" y2="406.8" stroke="#7a7a7a" stroke-width="0.6"/>
<text x="322.91" y="418.5" font-size="6.4" text-anchor="middle" fill="#111">-1</text>
<line x1="345.80" y1="409.3" x2="345.80" y2="406.8" stroke="#7a7a7a" stroke-width="0.6"/>
<text x="345.50" y="418.5" font-size="6.4" text-anchor="middle" fill="#111">0</text>
<line x1="367.69" y1="409.3" x2="367.69" y2="406.8" stroke="#7a7a7a" stroke-width="0.6"/>
<text x="367.39" y="418.5" font-size="6.4" text-anchor="middle" fill="#111">1</text>
<line x1="389.58" y1="409.3" x2="389.58" y2="406.8" stroke="#7a7a7a" stroke-width="0.6"/>
<text x="389.28" y="418.5" font-size="6.4" text-anchor="middle" fill="#111">2</text>
<line x1="411.47" y1="409.3" x2="411.47" y2="406.8" stroke="#7a7a7a" stroke-width="0.6"/>
<text x="411.17" y="418.5" font-size="6.4" text-anchor="middle" fill="#111">3</text>
<line x1="433.36" y1="409.3" x2="433.36" y2="406.8" stroke="#7a7a7a" stroke-width="0.6"/>
<text x="433.06" y="418.5" font-size="6.4" text-anchor="middle" fill="#111">4</text>
<line x1="455.25" y1="409.3" x2="455.25" y2="406.8" stroke="#7a7a7a" stroke-width="0.6"/>
<text x="454.95" y="418.5" font-size="6.4" text-anchor="middle" fill="#111">5</text>
<line x1="261.4" y1="240.80" x2="263.9" y2="240.80" stroke="#7a7a7a" stroke-width="0.6"/>
<text x="256.79999999999995" y="243.75" font-size="6.4" text-anchor="end" fill="#111">6.60</text>
<line x1="261.4" y1="261.84" x2="263.9" y2="261.84" stroke="#7a7a7a" stroke-width="0.6"/>
<text x="256.79999999999995" y="264.79" font-size="6.4" text-anchor="end" fill="#111">6.45</text>
<line x1="261.4" y1="282.88" x2="263.9" y2="282.88" stroke="#7a7a7a" stroke-width="0.6"/>
<text x="256.79999999999995" y="285.83" font-size="6.4" text-anchor="end" fill="#111">6.30</text>
<line x1="261.4" y1="303.91" x2="263.9" y2="303.91" stroke="#7a7a7a" stroke-width="0.6"/>
<text x="256.79999999999995" y="306.86" font-size="6.4" text-anchor="end" fill="#111">6.15</text>
<line x1="261.4" y1="324.95" x2="263.9" y2="324.95" stroke="#7a7a7a" stroke-width="0.6"/>
<text x="256.79999999999995" y="327.90" font-size="6.4" text-anchor="end" fill="#111">6.00</text>
<line x1="261.4" y1="345.99" x2="263.9" y2="345.99" stroke="#7a7a7a" stroke-width="0.6"/>
<text x="256.79999999999995" y="348.94" font-size="6.4" text-anchor="end" fill="#111">5.85</text>
<line x1="261.4" y1="367.03" x2="263.9" y2="367.03" stroke="#7a7a7a" stroke-width="0.6"/>
<text x="256.79999999999995" y="369.98" font-size="6.4" text-anchor="end" fill="#111">5.70</text>
<line x1="261.4" y1="388.06" x2="263.9" y2="388.06" stroke="#7a7a7a" stroke-width="0.6"/>
<text x="256.79999999999995" y="391.01" font-size="6.4" text-anchor="end" fill="#111">5.55</text>
<line x1="261.4" y1="409.10" x2="263.9" y2="409.10" stroke="#7a7a7a" stroke-width="0.6"/>
<text x="256.79999999999995" y="412.05" font-size="6.4" text-anchor="end" fill="#111">5.40</text>
<text x="359.1" y="428.9" font-size="9.2" text-anchor="middle" fill="#0a0a0a">velocity (mm/s)</text>
<text transform="translate(273.2,399.7) scale(1.0,1)" font-size="16.8" font-weight="bold" fill="#000">d</text>
<text x="455.8" y="397.6" font-size="14.4" text-anchor="end" fill="#0a0a0a">50 GPa</text>
<clipPath id="clip15"><rect x="482.8" y="240.8" width="200.3" height="168.5"/></clipPath>
<g clip-path="url(#clip15)">
<path d="M482.80,309.22 L483.30,309.24 L483.80,309.26 L484.30,309.28 L484.80,309.30 L485.30,309.32 L485.80,309.34 L486.30,309.36 L486.80,309.39 L487.30,309.41 L487.80,309.43 L488.30,309.45 L488.80,309.48 L489.30,309.50 L489.80,309.52 L490.30,309.55 L490.80,309.57 L491.30,309.60 L491.80,309.62 L492.30,309.65 L492.80,309.68 L493.30,309.70 L493.80,309.73 L494.30,309.76 L494.80,309.79 L495.30,309.82 L495.80,309.85 L496.30,309.87 L496.80,309.91 L497.30,309.94 L497.80,309.97 L498.30,310.00 L498.80,310.03 L499.30,310.06 L499.80,310.10 L500.30,310.13 L500.80,310.17 L501.30,310.20 L501.80,310.24 L502.30,310.27 L502.80,310.31 L503.30,310.35 L503.80,310.39 L504.30,310.43 L504.80,310.47 L505.30,310.51 L505.80,310.55 L506.30,310.59 L506.80,310.64 L507.30,310.68 L507.80,310.73 L508.30,310.77 L508.80,310.82 L509.30,310.87 L509.80,310.92 L510.30,310.97 L510.80,311.02 L511.30,311.07 L511.80,311.12 L512.30,311.18 L512.80,311.23 L513.30,311.29 L513.80,311.35 L514.30,311.41 L514.80,311.47 L515.30,311.53 L515.80,311.59 L516.30,311.66 L516.80,311.72 L517.30,311.79 L517.80,311.86 L518.30,311.93 L518.80,312.00 L519.30,312.08 L519.80,312.15 L520.30,312.23 L520.80,312.31 L521.30,312.39 L521.80,312.47 L522.30,312.56 L522.80,312.64 L523.30,312.73 L523.80,312.83 L524.30,312.92 L524.80,313.02 L525.30,313.12 L525.80,313.22 L526.30,313.32 L526.80,313.43 L527.30,313.54 L527.80,313.65 L528.30,313.77 L528.80,313.89 L529.30,314.01 L529.80,314.14 L530.30,314.27 L530.80,314.40 L531.30,314.54 L531.80,314.68 L532.30,314.82 L532.80,314.97 L533.30,315.12 L533.80,315.28 L534.30,315.45 L534.80,315.62 L535.30,315.79 L535.80,315.97 L536.30,316.15 L536.80,316.34 L537.30,316.54 L537.80,316.74 L538.30,316.95 L538.80,317.17 L539.30,317.39 L539.80,317.62 L540.30,317.86 L540.80,318.11 L541.30,318.37 L541.80,318.63 L542.30,318.91 L542.80,319.19 L543.30,319.49 L543.80,319.79 L544.30,320.11 L544.80,320.44 L545.30,320.78 L545.80,321.13 L546.30,321.50 L546.80,321.88 L547.30,322.27 L547.80,322.68 L548.30,323.11 L548.80,323.56 L549.30,324.02 L549.80,324.50 L550.30,325.00 L550.80,325.52 L551.30,326.06 L551.80,326.62 L552.30,327.21 L552.80,327.82 L553.30,328.46 L553.80,329.12 L554.30,329.82 L554.80,330.54 L555.30,331.29 L555.80,332.07 L556.30,332.88 L556.80,333.73 L557.30,334.62 L557.80,335.54 L558.30,336.49 L558.80,337.49 L559.30,338.52 L559.80,339.59 L560.30,340.71 L560.80,341.86 L561.30,343.05 L561.80,344.29 L562.30,345.56 L562.80,346.87 L563.30,348.22 L563.80,349.60 L564.30,351.01 L564.80,352.45 L565.30,353.91 L565.80,355.38 L566.30,356.87 L566.80,358.36 L567.30,359.84 L567.80,361.31 L568.30,362.75 L568.80,364.16 L569.30,365.51 L569.80,366.80 L570.30,368.02 L570.80,369.16 L571.30,370.19 L571.80,371.11 L572.30,371.91 L572.80,372.58 L573.30,373.11 L573.80,373.50 L574.30,373.74 L574.80,373.83 L575.30,373.78 L575.80,373.59 L576.30,373.25 L576.80,372.79 L577.30,372.21 L577.80,371.52 L578.30,370.74 L578.80,369.87 L579.30,368.93 L579.80,367.94 L580.30,366.90 L580.80,365.83 L581.30,364.74 L581.80,363.65 L582.30,362.55 L582.80,361.47 L583.30,360.40 L583.80,359.37 L584.30,358.36 L584.80,357.39 L585.30,356.47 L585.80,355.59 L586.30,354.76 L586.80,353.98 L587.30,353.26 L587.80,352.59 L588.30,351.99 L588.80,351.44 L589.30,350.95 L589.80,350.51 L590.30,350.14 L590.80,349.83 L591.30,349.58 L591.80,349.39 L592.30,349.27 L592.80,349.20 L593.30,349.19 L593.80,349.25 L594.30,349.36 L594.80,349.54 L595.30,349.78 L595.80,350.08 L596.30,350.44 L596.80,350.85 L597.30,351.33 L597.80,351.87 L598.30,352.47 L598.80,353.12 L599.30,353.83 L599.80,354.60 L600.30,355.42 L600.80,356.29 L601.30,357.20 L601.80,358.16 L602.30,359.16 L602.80,360.19 L603.30,361.25 L603.80,362.33 L604.30,363.43 L604.80,364.52 L605.30,365.62 L605.80,366.69 L606.30,367.73 L606.80,368.74 L607.30,369.69 L607.80,370.57 L608.30,371.37 L608.80,372.08 L609.30,372.68 L609.80,373.17 L610.30,373.53 L610.80,373.75 L611.30,373.84 L611.80,373.77 L612.30,373.56 L612.80,373.20 L613.30,372.70 L613.80,372.06 L614.30,371.28 L614.80,370.38 L615.30,369.37 L615.80,368.26 L616.30,367.05 L616.80,365.77 L617.30,364.43 L617.80,363.04 L618.30,361.60 L618.80,360.14 L619.30,358.66 L619.80,357.17 L620.30,355.68 L620.80,354.20 L621.30,352.74 L621.80,351.29 L622.30,349.88 L622.80,348.49 L623.30,347.14 L623.80,345.82 L624.30,344.54 L624.80,343.30 L625.30,342.09 L625.80,340.93 L626.30,339.81 L626.80,338.73 L627.30,337.69 L627.80,336.69 L628.30,335.72 L628.80,334.80 L629.30,333.91 L629.80,333.05 L630.30,332.23 L630.80,331.44 L631.30,330.68 L631.80,329.96 L632.30,329.26 L632.80,328.59 L633.30,327.95 L633.80,327.33 L634.30,326.74 L634.80,326.17 L635.30,325.62 L635.80,325.10 L636.30,324.60 L636.80,324.11 L637.30,323.65 L637.80,323.20 L638.30,322.77 L638.80,322.35 L639.30,321.96 L639.80,321.57 L640.30,321.20 L640.80,320.85 L641.30,320.50 L641.80,320.17 L642.30,319.85 L642.80,319.55 L643.30,319.25 L643.80,318.96 L644.30,318.69 L644.80,318.42 L645.30,318.16 L645.80,317.91 L646.30,317.67 L646.80,317.44 L647.30,317.21 L647.80,317.00 L648.30,316.78 L648.80,316.58 L649.30,316.38 L649.80,316.19 L650.30,316.00 L650.80,315.82 L651.30,315.65 L651.80,315.48 L652.30,315.32 L652.80,315.16 L653.30,315.00 L653.80,314.85 L654.30,314.71 L654.80,314.56 L655.30,314.43 L655.80,314.29 L656.30,314.16 L656.80,314.03 L657.30,313.91 L657.80,313.79 L658.30,313.67 L658.80,313.56 L659.30,313.45 L659.80,313.34 L660.30,313.24 L660.80,313.14 L661.30,313.04 L661.80,312.94 L662.30,312.84 L662.80,312.75 L663.30,312.66 L663.80,312.57 L664.30,312.49 L664.80,312.41 L665.30,312.32 L665.80,312.24 L666.30,312.17 L666.80,312.09 L667.30,312.02 L667.80,311.94 L668.30,311.87 L668.80,311.80 L669.30,311.74 L669.80,311.67 L670.30,311.60 L670.80,311.54 L671.30,311.48 L671.80,311.42 L672.30,311.36 L672.80,311.30 L673.30,311.24 L673.80,311.19 L674.30,311.13 L674.80,311.08 L675.30,311.03 L675.80,310.98 L676.30,310.93 L676.80,310.88 L677.30,310.83 L677.80,310.78 L678.30,310.74 L678.80,310.69 L679.30,310.65 L679.80,310.60 L680.30,310.56 L680.80,310.52 L681.30,310.48 L681.80,310.44 L682.30,310.40 L682.80,310.36 L683.1,307.2 L482.8,307.2 Z" fill="#22A74A" stroke="#222" stroke-opacity="0.6" stroke-width="0.45"/>
<path d="M482.80,307.76 L483.30,307.77 L483.80,307.78 L484.30,307.78 L484.80,307.79 L485.30,307.80 L485.80,307.80 L486.30,307.81 L486.80,307.82 L487.30,307.83 L487.80,307.83 L488.30,307.84 L488.80,307.85 L489.30,307.86 L489.80,307.87 L490.30,307.88 L490.80,307.88 L491.30,307.89 L491.80,307.90 L492.30,307.91 L492.80,307.92 L493.30,307.93 L493.80,307.94 L494.30,307.95 L494.80,307.96 L495.30,307.97 L495.80,307.98 L496.30,307.99 L496.80,308.00 L497.30,308.01 L497.80,308.02 L498.30,308.04 L498.80,308.05 L499.30,308.06 L499.80,308.07 L500.30,308.09 L500.80,308.10 L501.30,308.11 L501.80,308.13 L502.30,308.14 L502.80,308.15 L503.30,308.17 L503.80,308.18 L504.30,308.20 L504.80,308.22 L505.30,308.23 L505.80,308.25 L506.30,308.26 L506.80,308.28 L507.30,308.30 L507.80,308.32 L508.30,308.34 L508.80,308.36 L509.30,308.38 L509.80,308.40 L510.30,308.42 L510.80,308.44 L511.30,308.46 L511.80,308.48 L512.30,308.51 L512.80,308.53 L513.30,308.56 L513.80,308.58 L514.30,308.61 L514.80,308.63 L515.30,308.66 L515.80,308.69 L516.30,308.72 L516.80,308.75 L517.30,308.78 L517.80,308.81 L518.30,308.85 L518.80,308.88 L519.30,308.91 L519.80,308.95 L520.30,308.99 L520.80,309.03 L521.30,309.07 L521.80,309.11 L522.30,309.15 L522.80,309.20 L523.30,309.24 L523.80,309.29 L524.30,309.34 L524.80,309.39 L525.30,309.45 L525.80,309.50 L526.30,309.56 L526.80,309.62 L527.30,309.68 L527.80,309.75 L528.30,309.82 L528.80,309.89 L529.30,309.96 L529.80,310.04 L530.30,310.12 L530.80,310.20 L531.30,310.29 L531.80,310.38 L532.30,310.47 L532.80,310.57 L533.30,310.68 L533.80,310.79 L534.30,310.90 L534.80,311.02 L535.30,311.15 L535.80,311.28 L536.30,311.42 L536.80,311.57 L537.30,311.73 L537.80,311.89 L538.30,312.07 L538.80,312.25 L539.30,312.44 L539.80,312.65 L540.30,312.87 L540.80,313.10 L541.30,313.35 L541.80,313.61 L542.30,313.89 L542.80,314.19 L543.30,314.50 L543.80,314.84 L544.30,315.21 L544.80,315.60 L545.30,316.01 L545.80,316.46 L546.30,316.94 L546.80,317.46 L547.30,318.01 L547.80,318.61 L548.30,319.26 L548.80,319.96 L549.30,320.71 L549.80,321.52 L550.30,322.40 L550.80,323.35 L551.30,324.38 L551.80,325.48 L552.30,326.67 L552.80,327.95 L553.30,329.32 L553.80,330.78 L554.30,332.34 L554.80,333.97 L555.30,335.69 L555.80,337.46 L556.30,339.26 L556.80,341.07 L557.30,342.85 L557.80,344.55 L558.30,346.12 L558.80,347.50 L559.30,348.65 L559.80,349.50 L560.30,350.01 L560.80,350.18 L561.30,349.98 L561.80,349.44 L562.30,348.58 L562.80,347.45 L563.30,346.10 L563.80,344.59 L564.30,342.97 L564.80,341.29 L565.30,339.60 L565.80,337.93 L566.30,336.31 L566.80,334.76 L567.30,333.29 L567.80,331.91 L568.30,330.62 L568.80,329.44 L569.30,328.35 L569.80,327.35 L570.30,326.44 L570.80,325.62 L571.30,324.88 L571.80,324.21 L572.30,323.62 L572.80,323.09 L573.30,322.63 L573.80,322.23 L574.30,321.89 L574.80,321.60 L575.30,321.37 L575.80,321.19 L576.30,321.05 L576.80,320.97 L577.30,320.93 L577.80,320.94 L578.30,321.00 L578.80,321.10 L579.30,321.25 L579.80,321.46 L580.30,321.71 L580.80,322.02 L581.30,322.39 L581.80,322.81 L582.30,323.30 L582.80,323.85 L583.30,324.47 L583.80,325.16 L584.30,325.94 L584.80,326.79 L585.30,327.74 L585.80,328.77 L586.30,329.90 L586.80,331.13 L587.30,332.45 L587.80,333.87 L588.30,335.39 L588.80,336.98 L589.30,338.64 L589.80,340.34 L590.30,342.06 L590.80,343.76 L591.30,345.39 L591.80,346.89 L592.30,348.22 L592.80,349.32 L593.30,350.13 L593.80,350.62 L594.30,350.75 L594.80,350.51 L595.30,349.91 L595.80,348.99 L596.30,347.78 L596.80,346.34 L597.30,344.71 L597.80,342.97 L598.30,341.16 L598.80,339.32 L599.30,337.49 L599.80,335.71 L600.30,333.99 L600.80,332.34 L601.30,330.79 L601.80,329.32 L602.30,327.95 L602.80,326.67 L603.30,325.48 L603.80,324.38 L604.30,323.35 L604.80,322.41 L605.30,321.53 L605.80,320.72 L606.30,319.97 L606.80,319.27 L607.30,318.62 L607.80,318.03 L608.30,317.47 L608.80,316.95 L609.30,316.47 L609.80,316.03 L610.30,315.61 L610.80,315.22 L611.30,314.86 L611.80,314.52 L612.30,314.20 L612.80,313.90 L613.30,313.63 L613.80,313.36 L614.30,313.12 L614.80,312.88 L615.30,312.67 L615.80,312.46 L616.30,312.26 L616.80,312.08 L617.30,311.91 L617.80,311.74 L618.30,311.58 L618.80,311.44 L619.30,311.30 L619.80,311.16 L620.30,311.03 L620.80,310.91 L621.30,310.80 L621.80,310.69 L622.30,310.58 L622.80,310.48 L623.30,310.39 L623.80,310.30 L624.30,310.21 L624.80,310.13 L625.30,310.05 L625.80,309.97 L626.30,309.90 L626.80,309.82 L627.30,309.76 L627.80,309.69 L628.30,309.63 L628.80,309.57 L629.30,309.51 L629.80,309.45 L630.30,309.40 L630.80,309.35 L631.30,309.30 L631.80,309.25 L632.30,309.20 L632.80,309.16 L633.30,309.12 L633.80,309.07 L634.30,309.03 L634.80,309.00 L635.30,308.96 L635.80,308.92 L636.30,308.89 L636.80,308.85 L637.30,308.82 L637.80,308.79 L638.30,308.75 L638.80,308.72 L639.30,308.69 L639.80,308.67 L640.30,308.64 L640.80,308.61 L641.30,308.58 L641.80,308.56 L642.30,308.53 L642.80,308.51 L643.30,308.49 L643.80,308.46 L644.30,308.44 L644.80,308.42 L645.30,308.40 L645.80,308.38 L646.30,308.36 L646.80,308.34 L647.30,308.32 L647.80,308.30 L648.30,308.29 L648.80,308.27 L649.30,308.25 L649.80,308.23 L650.30,308.22 L650.80,308.20 L651.30,308.19 L651.80,308.17 L652.30,308.16 L652.80,308.14 L653.30,308.13 L653.80,308.11 L654.30,308.10 L654.80,308.09 L655.30,308.08 L655.80,308.06 L656.30,308.05 L656.80,308.04 L657.30,308.03 L657.80,308.02 L658.30,308.00 L658.80,307.99 L659.30,307.98 L659.80,307.97 L660.30,307.96 L660.80,307.95 L661.30,307.94 L661.80,307.93 L662.30,307.92 L662.80,307.91 L663.30,307.90 L663.80,307.89 L664.30,307.89 L664.80,307.88 L665.30,307.87 L665.80,307.86 L666.30,307.85 L666.80,307.84 L667.30,307.84 L667.80,307.83 L668.30,307.82 L668.80,307.81 L669.30,307.81 L669.80,307.80 L670.30,307.79 L670.80,307.79 L671.30,307.78 L671.80,307.77 L672.30,307.77 L672.80,307.76 L673.30,307.75 L673.80,307.75 L674.30,307.74 L674.80,307.73 L675.30,307.73 L675.80,307.72 L676.30,307.72 L676.80,307.71 L677.30,307.71 L677.80,307.70 L678.30,307.70 L678.80,307.69 L679.30,307.68 L679.80,307.68 L680.30,307.67 L680.80,307.67 L681.30,307.66 L681.80,307.66 L682.30,307.66 L682.80,307.65 L683.1,307.2 L482.8,307.2 Z" fill="#219FDB" stroke="#222" stroke-opacity="0.6" stroke-width="0.45"/>
<path d="M482.80,309.78 L483.30,309.81 L483.80,309.84 L484.30,309.86 L484.80,309.89 L485.30,309.92 L485.80,309.95 L486.30,309.98 L486.80,310.01 L487.30,310.04 L487.80,310.07 L488.30,310.10 L488.80,310.13 L489.30,310.16 L489.80,310.19 L490.30,310.22 L490.80,310.26 L491.30,310.29 L491.80,310.33 L492.30,310.36 L492.80,310.40 L493.30,310.43 L493.80,310.47 L494.30,310.51 L494.80,310.55 L495.30,310.59 L495.80,310.63 L496.30,310.67 L496.80,310.71 L497.30,310.75 L497.80,310.79 L498.30,310.84 L498.80,310.88 L499.30,310.92 L499.80,310.97 L500.30,311.02 L500.80,311.07 L501.30,311.11 L501.80,311.16 L502.30,311.21 L502.80,311.27 L503.30,311.32 L503.80,311.37 L504.30,311.43 L504.80,311.48 L505.30,311.54 L505.80,311.60 L506.30,311.66 L506.80,311.72 L507.30,311.78 L507.80,311.85 L508.30,311.91 L508.80,311.98 L509.30,312.04 L509.80,312.11 L510.30,312.18 L510.80,312.26 L511.30,312.33 L511.80,312.41 L512.30,312.48 L512.80,312.56 L513.30,312.64 L513.80,312.73 L514.30,312.81 L514.80,312.90 L515.30,312.99 L515.80,313.08 L516.30,313.17 L516.80,313.27 L517.30,313.37 L517.80,313.47 L518.30,313.57 L518.80,313.68 L519.30,313.79 L519.80,313.90 L520.30,314.02 L520.80,314.14 L521.30,314.26 L521.80,314.38 L522.30,314.51 L522.80,314.64 L523.30,314.78 L523.80,314.92 L524.30,315.06 L524.80,315.21 L525.30,315.36 L525.80,315.52 L526.30,315.68 L526.80,315.85 L527.30,316.02 L527.80,316.19 L528.30,316.36 L528.80,316.53 L529.30,316.69 L529.80,316.86 L530.30,317.02 L530.80,317.19 L531.30,317.36 L531.80,317.53 L532.30,317.70 L532.80,317.88 L533.30,318.06 L533.80,318.26 L534.30,318.46 L534.80,318.66 L535.30,318.88 L535.80,319.11 L536.30,319.35 L536.80,319.61 L537.30,319.88 L537.80,320.16 L538.30,320.47 L538.80,320.79 L539.30,321.13 L539.80,321.50 L540.30,321.89 L540.80,322.30 L541.30,322.75 L541.80,323.22 L542.30,323.73 L542.80,324.27 L543.30,324.84 L543.80,325.46 L544.30,326.12 L544.80,326.83 L545.30,327.58 L545.80,328.45 L546.30,329.42 L546.80,330.48 L547.30,331.62 L547.80,332.84 L548.30,334.15 L548.80,335.56 L549.30,337.08 L549.80,338.75 L550.30,340.58 L550.80,342.57 L551.30,344.70 L551.80,346.93 L552.30,349.26 L552.80,351.66 L553.30,354.13 L553.80,356.65 L554.30,359.20 L554.80,361.78 L555.30,364.34 L555.80,366.87 L556.30,369.33 L556.80,371.69 L557.30,373.94 L557.80,376.03 L558.30,377.96 L558.80,379.70 L559.30,381.23 L559.80,382.55 L560.30,383.63 L560.80,384.47 L561.30,385.08 L561.80,385.49 L562.30,385.74 L562.80,385.85 L563.30,385.88 L563.80,385.84 L564.30,385.79 L564.80,385.76 L565.30,385.77 L565.80,385.85 L566.30,386.02 L566.80,386.25 L567.30,386.54 L567.80,386.87 L568.30,387.22 L568.80,387.58 L569.30,387.93 L569.80,388.25 L570.30,388.52 L570.80,388.73 L571.30,388.87 L571.80,388.92 L572.30,388.88 L572.80,388.77 L573.30,388.57 L573.80,388.30 L574.30,387.96 L574.80,387.56 L575.30,387.11 L575.80,386.60 L576.30,386.03 L576.80,385.40 L577.30,384.71 L577.80,383.97 L578.30,383.16 L578.80,382.28 L579.30,381.35 L579.80,380.35 L580.30,379.32 L580.80,378.28 L581.30,377.30 L581.80,376.41 L582.30,375.66 L582.80,375.06 L583.30,374.61 L583.80,374.29 L584.30,374.08 L584.80,373.97 L585.30,373.95 L585.80,374.03 L586.30,374.22 L586.80,374.57 L587.30,375.09 L587.80,375.80 L588.30,376.72 L588.80,377.83 L589.30,379.09 L589.80,380.45 L590.30,381.86 L590.80,383.29 L591.30,384.71 L591.80,386.06 L592.30,387.28 L592.80,388.32 L593.30,389.11 L593.80,389.59 L594.30,389.74 L594.80,389.54 L595.30,389.04 L595.80,388.32 L596.30,387.43 L596.80,386.44 L597.30,385.43 L597.80,384.42 L598.30,383.46 L598.80,382.56 L599.30,381.72 L599.80,380.96 L600.30,380.29 L600.80,379.72 L601.30,379.24 L601.80,378.87 L602.30,378.60 L602.80,378.43 L603.30,378.36 L603.80,378.38 L604.30,378.50 L604.80,378.69 L605.30,378.95 L605.80,379.27 L606.30,379.63 L606.80,380.03 L607.30,380.45 L607.80,380.87 L608.30,381.28 L608.80,381.63 L609.30,381.88 L609.80,382.01 L610.30,381.99 L610.80,381.80 L611.30,381.42 L611.80,380.84 L612.30,380.06 L612.80,379.07 L613.30,377.90 L613.80,376.57 L614.30,375.11 L614.80,373.57 L615.30,371.98 L615.80,370.36 L616.30,368.76 L616.80,367.18 L617.30,365.64 L617.80,364.15 L618.30,362.70 L618.80,361.28 L619.30,359.91 L619.80,358.57 L620.30,357.27 L620.80,356.00 L621.30,354.75 L621.80,353.50 L622.30,352.26 L622.80,351.03 L623.30,349.81 L623.80,348.62 L624.30,347.46 L624.80,346.32 L625.30,345.21 L625.80,344.14 L626.30,343.08 L626.80,342.03 L627.30,340.99 L627.80,339.93 L628.30,338.90 L628.80,337.90 L629.30,336.95 L629.80,336.02 L630.30,335.13 L630.80,334.28 L631.30,333.45 L631.80,332.65 L632.30,331.89 L632.80,331.15 L633.30,330.44 L633.80,329.75 L634.30,329.09 L634.80,328.45 L635.30,327.84 L635.80,327.24 L636.30,326.67 L636.80,326.12 L637.30,325.59 L637.80,325.08 L638.30,324.59 L638.80,324.12 L639.30,323.66 L639.80,323.22 L640.30,322.80 L640.80,322.39 L641.30,322.00 L641.80,321.62 L642.30,321.25 L642.80,320.91 L643.30,320.57 L643.80,320.25 L644.30,319.94 L644.80,319.65 L645.30,319.36 L645.80,319.09 L646.30,318.83 L646.80,318.58 L647.30,318.33 L647.80,318.10 L648.30,317.87 L648.80,317.65 L649.30,317.43 L649.80,317.22 L650.30,317.02 L650.80,316.83 L651.30,316.64 L651.80,316.45 L652.30,316.27 L652.80,316.10 L653.30,315.93 L653.80,315.77 L654.30,315.61 L654.80,315.45 L655.30,315.30 L655.80,315.15 L656.30,315.01 L656.80,314.87 L657.30,314.74 L657.80,314.61 L658.30,314.48 L658.80,314.35 L659.30,314.23 L659.80,314.11 L660.30,314.00 L660.80,313.89 L661.30,313.78 L661.80,313.67 L662.30,313.57 L662.80,313.47 L663.30,313.37 L663.80,313.27 L664.30,313.17 L664.80,313.08 L665.30,312.99 L665.80,312.90 L666.30,312.82 L666.80,312.73 L667.30,312.65 L667.80,312.57 L668.30,312.49 L668.80,312.42 L669.30,312.34 L669.80,312.27 L670.30,312.20 L670.80,312.13 L671.30,312.06 L671.80,311.99 L672.30,311.92 L672.80,311.86 L673.30,311.80 L673.80,311.73 L674.30,311.67 L674.80,311.62 L675.30,311.56 L675.80,311.50 L676.30,311.44 L676.80,311.39 L677.30,311.34 L677.80,311.28 L678.30,311.23 L678.80,311.18 L679.30,311.13 L679.80,311.08 L680.30,311.03 L680.80,310.99 L681.30,310.94 L681.80,310.90 L682.30,310.85 L682.80,310.81" fill="none" stroke="#FFE51A" stroke-width="2.0" stroke-linejoin="round"/>
<path d="M482.9,317.8h0M483.1,309.3h0M483.2,310.0h0M483.4,310.0h0M483.6,316.3h0M483.8,313.7h0M484.0,311.5h0M484.1,316.8h0M484.3,315.3h0M484.5,311.4h0M484.7,308.3h0M484.9,315.4h0M485.1,312.9h0M485.3,307.2h0M485.5,317.7h0M485.7,311.9h0M485.9,300.3h0M486.1,317.0h0M486.3,314.0h0M486.5,311.0h0M486.8,306.7h0M487.0,311.0h0M487.2,310.4h0M487.4,310.2h0M487.6,308.1h0M487.9,302.8h0M488.1,301.8h0M488.3,309.6h0M488.6,305.3h0M488.8,304.2h0M489.0,303.6h0M489.3,308.3h0M489.5,302.4h0M489.8,309.6h0M490.0,304.4h0M490.2,303.2h0M490.5,301.0h0M490.8,312.7h0M491.0,311.9h0M491.3,305.0h0M491.5,303.9h0M491.8,303.4h0M492.0,311.7h0M492.3,305.9h0M492.6,310.2h0M492.8,302.2h0M493.1,305.8h0M493.4,306.1h0M493.7,315.7h0M493.9,314.5h0M494.2,322.8h0M494.5,304.7h0M494.8,310.1h0M495.1,313.4h0M495.4,314.8h0M495.7,317.7h0M495.9,310.7h0M496.2,308.4h0M496.5,322.9h0M496.8,318.2h0M497.1,310.9h0M497.4,309.5h0M497.7,317.9h0M498.0,306.0h0M498.4,310.2h0M498.7,305.4h0M499.0,311.9h0M499.3,307.1h0M499.6,313.4h0M499.9,309.4h0M500.2,310.8h0M500.6,304.2h0M500.9,320.0h0M501.2,301.6h0M501.5,308.2h0M501.9,312.1h0M502.2,315.2h0M502.5,305.7h0M502.9,318.1h0M503.2,315.6h0M503.5,311.7h0M503.9,317.6h0M504.2,304.4h0M504.6,306.6h0M504.9,306.1h0M505.3,313.8h0M505.6,310.0h0M506.0,315.3h0M506.3,312.0h0M506.7,316.0h0M507.0,309.1h0M507.4,314.9h0M507.7,317.9h0M508.1,307.5h0M508.5,310.1h0M508.8,311.2h0M509.2,309.9h0M509.6,310.0h0M509.9,315.8h0M510.3,308.7h0M510.7,314.7h0M511.1,315.9h0M511.4,298.1h0M511.8,311.0h0M512.2,315.8h0M512.6,321.3h0M513.0,314.5h0M513.3,318.4h0M513.7,311.7h0M514.1,315.3h0M514.5,309.2h0M514.9,317.0h0M515.3,315.2h0M515.7,325.0h0M516.1,338.8h0M516.5,311.4h0M516.9,313.6h0M517.3,320.8h0M517.7,312.6h0M518.1,319.4h0M518.5,311.6h0M518.9,319.5h0M519.3,312.7h0M519.7,313.6h0M520.1,311.8h0M520.5,315.3h0M521.0,324.4h0M521.4,314.3h0M521.8,310.9h0M522.2,314.6h0M522.6,317.5h0M523.1,303.9h0M523.5,311.8h0M523.9,316.0h0M524.3,304.3h0M524.8,316.0h0M525.2,312.3h0M525.6,318.3h0M526.0,316.0h0M526.5,313.5h0M526.9,307.4h0M527.3,315.7h0M527.8,315.7h0M528.2,311.4h0M528.7,324.0h0M529.1,308.5h0M529.5,311.7h0M530.0,322.9h0M530.4,319.0h0M530.9,315.8h0M531.3,317.8h0M531.8,320.2h0M532.2,314.5h0M532.7,328.1h0M533.1,315.2h0M533.6,320.4h0M534.0,317.0h0M534.5,317.4h0M534.9,315.6h0M535.4,307.8h0M535.8,313.8h0M536.3,319.4h0M536.8,322.4h0M537.2,326.4h0M537.7,324.5h0M538.1,319.6h0M538.6,320.4h0M539.1,327.1h0M539.5,326.3h0M540.0,331.3h0M540.5,324.0h0M540.9,323.6h0M541.4,322.4h0M541.9,326.2h0M542.3,323.3h0M542.8,322.4h0M543.3,325.5h0M543.8,322.5h0M544.2,330.4h0M544.7,329.1h0M545.2,326.0h0M545.7,321.2h0M546.2,330.3h0M546.6,328.2h0M547.1,326.1h0M547.6,326.8h0M548.1,328.6h0M548.6,337.9h0M549.0,345.5h0M549.5,336.0h0M550.0,339.8h0M550.5,341.7h0M551.0,342.5h0M551.5,336.6h0M552.0,348.4h0M552.5,344.9h0M552.9,359.9h0M553.4,347.7h0M553.9,358.1h0M554.4,366.0h0M554.9,367.4h0M555.4,367.0h0M555.9,367.4h0M556.4,367.8h0M556.9,367.3h0M557.4,392.0h0M557.9,377.4h0M558.4,374.6h0M558.9,379.8h0M559.4,376.2h0M559.9,380.8h0M560.4,380.2h0M560.9,379.7h0M561.4,390.2h0M561.9,377.5h0M562.4,382.0h0M562.9,383.9h0M563.4,383.5h0M563.9,375.7h0M564.4,385.0h0M564.9,384.9h0M565.4,383.3h0M565.9,382.2h0M566.4,371.2h0M566.9,380.9h0M567.4,387.9h0M567.9,379.5h0M568.4,386.1h0M568.9,391.1h0M569.4,384.2h0M569.9,389.9h0M570.5,386.8h0M571.0,396.9h0M571.5,383.4h0M572.0,387.9h0M572.5,370.6h0M573.0,384.3h0M573.5,387.2h0M574.0,383.1h0M574.5,393.3h0M575.0,396.1h0M575.5,387.4h0M576.1,383.3h0M576.6,385.8h0M577.1,385.8h0M577.6,392.3h0M578.1,384.7h0M578.6,381.8h0M579.1,375.8h0M579.6,380.1h0M580.1,380.1h0M580.6,384.7h0M581.2,375.6h0M581.7,374.6h0M582.2,374.6h0M582.7,372.0h0M583.2,371.5h0M583.7,372.9h0M584.2,369.0h0M584.7,386.4h0M585.3,369.5h0M585.8,375.6h0M586.3,374.9h0M586.8,374.7h0M587.3,371.0h0M587.8,378.3h0M588.3,375.2h0M588.8,384.0h0M589.3,369.6h0M589.8,380.4h0M590.4,380.5h0M590.9,389.7h0M591.4,386.4h0M591.9,387.6h0M592.4,388.3h0M592.9,388.6h0M593.4,384.6h0M593.9,378.6h0M594.4,383.1h0M594.9,396.2h0M595.4,379.3h0M596.0,389.9h0M596.5,378.7h0M597.0,389.4h0M597.5,381.2h0M598.0,382.6h0M598.5,380.7h0M599.0,372.0h0M599.5,373.4h0M600.0,374.8h0M600.5,373.3h0M601.0,371.3h0M601.5,372.2h0M602.0,371.5h0M602.5,374.2h0M603.0,376.7h0M603.5,379.1h0M604.0,366.1h0M604.5,369.3h0M605.0,371.4h0M605.5,376.8h0M606.0,379.3h0M606.5,383.1h0M607.0,376.6h0M607.5,375.1h0M608.0,382.3h0M608.5,378.6h0M609.0,373.0h0M609.5,372.6h0M610.0,381.6h0M610.5,381.4h0M611.0,380.8h0M611.5,381.4h0M612.0,383.5h0M612.5,383.5h0M613.0,382.5h0M613.4,374.7h0M613.9,373.1h0M614.4,375.4h0M614.9,373.2h0M615.4,371.1h0M615.9,364.7h0M616.4,370.7h0M616.9,366.1h0M617.3,363.7h0M617.8,365.9h0M618.3,361.7h0M618.8,364.1h0M619.3,357.3h0M619.7,348.3h0M620.2,359.3h0M620.7,360.7h0M621.2,349.6h0M621.7,354.5h0M622.1,350.6h0M622.6,341.9h0M623.1,359.1h0M623.6,341.8h0M624.0,346.4h0M624.5,348.5h0M625.0,335.4h0M625.4,339.7h0M625.9,344.2h0M626.4,342.5h0M626.8,339.0h0M627.3,341.6h0M627.8,340.9h0M628.2,333.9h0M628.7,329.1h0M629.1,336.9h0M629.6,340.3h0M630.1,337.6h0M630.5,333.9h0M631.0,339.6h0M631.4,336.3h0M631.9,334.3h0M632.3,329.5h0M632.8,340.4h0M633.2,332.7h0M633.7,346.4h0M634.1,336.4h0M634.6,324.5h0M635.0,324.8h0M635.5,332.1h0M635.9,330.1h0M636.4,333.0h0M636.8,322.4h0M637.2,324.1h0M637.7,334.7h0M638.1,331.8h0M638.6,322.9h0M639.0,325.2h0M639.4,332.4h0M639.9,329.9h0M640.3,320.9h0M640.7,324.4h0M641.1,317.4h0M641.6,320.1h0M642.0,315.1h0M642.4,322.2h0M642.8,317.2h0M643.3,315.9h0M643.7,324.6h0M644.1,319.3h0M644.5,327.2h0M644.9,324.9h0M645.4,321.3h0M645.8,322.8h0M646.2,319.7h0M646.6,309.4h0M647.0,304.8h0M647.4,319.3h0M647.8,315.0h0M648.2,314.0h0M648.6,320.1h0M649.0,322.6h0M649.4,319.5h0M649.8,313.7h0M650.2,310.0h0M650.6,314.9h0M651.0,305.7h0M651.4,308.6h0M651.8,305.5h0M652.2,320.8h0M652.6,314.2h0M652.9,309.5h0M653.3,316.6h0M653.7,313.8h0M654.1,327.6h0M654.5,305.3h0M654.8,318.1h0M655.2,310.6h0M655.6,310.9h0M656.0,314.8h0M656.3,311.2h0M656.7,318.8h0M657.1,316.0h0M657.4,318.9h0M657.8,310.0h0M658.2,310.4h0M658.5,308.7h0M658.9,320.3h0M659.2,320.2h0M659.6,313.8h0M659.9,336.0h0M660.3,320.8h0M660.6,319.0h0M661.0,306.7h0M661.3,309.7h0M661.7,312.4h0M662.0,306.1h0M662.4,317.3h0M662.7,312.0h0M663.0,314.4h0M663.4,315.0h0M663.7,315.1h0M664.0,328.4h0M664.4,306.2h0M664.7,313.4h0M665.0,306.4h0M665.3,312.5h0M665.7,308.3h0M666.0,312.3h0M666.3,307.4h0M666.6,308.3h0M666.9,311.8h0M667.2,316.2h0M667.5,327.7h0M667.9,316.3h0M668.2,307.9h0M668.5,315.0h0M668.8,314.0h0M669.1,310.9h0M669.4,320.0h0M669.7,311.4h0M670.0,314.0h0M670.2,318.9h0M670.5,309.7h0M670.8,312.6h0M671.1,312.8h0M671.4,309.6h0M671.7,317.1h0M672.0,311.6h0M672.2,312.2h0M672.5,315.5h0M672.8,310.6h0M673.1,314.5h0M673.3,313.5h0M673.6,317.6h0M673.9,316.4h0M674.1,313.4h0M674.4,315.7h0M674.6,307.2h0M674.9,320.4h0M675.1,318.4h0M675.4,308.9h0M675.7,319.9h0M675.9,311.3h0M676.1,307.6h0M676.4,311.2h0M676.6,311.5h0M676.9,308.7h0M677.1,312.3h0M677.3,302.8h0M677.6,315.9h0M677.8,308.0h0M678.0,302.9h0M678.3,311.8h0M678.5,309.0h0M678.7,309.2h0M678.9,308.5h0M679.1,307.3h0M679.4,317.2h0M679.6,309.2h0M679.8,299.2h0M680.0,305.3h0M680.2,313.1h0M680.4,309.6h0M680.6,309.6h0M680.8,301.9h0M681.0,319.0h0M681.2,313.3h0M681.4,310.6h0M681.6,313.5h0M681.8,311.1h0M681.9,312.3h0M682.1,304.2h0M682.3,307.2h0M682.5,318.8h0M682.7,303.0h0M682.8,305.7h0M683.0,303.7h0" stroke="#000" stroke-width="1.36" stroke-linecap="round" fill="none"/>
<path d="M482.9,283.8h0M483.1,275.3h0M483.2,276.0h0M483.4,276.0h0M483.6,282.3h0M483.8,279.7h0M484.0,277.4h0M484.1,282.7h0M484.3,281.3h0M484.5,277.3h0M484.7,274.2h0M484.9,281.3h0M485.1,278.8h0M485.3,273.1h0M485.5,283.6h0M485.7,277.8h0M485.9,266.2h0M486.1,282.8h0M486.3,279.8h0M486.5,276.8h0M486.8,272.5h0M487.0,276.7h0M487.2,276.1h0M487.4,276.0h0M487.6,273.8h0M487.9,268.5h0M488.1,267.5h0M488.3,275.3h0M488.6,271.0h0M488.8,269.9h0M489.0,269.2h0M489.3,274.0h0M489.5,268.1h0M489.8,275.2h0M490.0,270.0h0M490.2,268.7h0M490.5,266.6h0M490.8,278.2h0M491.0,277.5h0M491.3,270.5h0M491.5,269.3h0M491.8,268.8h0M492.0,277.1h0M492.3,271.4h0M492.6,275.6h0M492.8,267.6h0M493.1,271.2h0M493.4,271.4h0M493.7,281.1h0M493.9,279.8h0M494.2,288.1h0M494.5,270.0h0M494.8,275.4h0M495.1,278.7h0M495.4,280.0h0M495.7,282.9h0M495.9,275.9h0M496.2,273.6h0M496.5,288.0h0M496.8,283.3h0M497.1,275.9h0M497.4,274.6h0M497.7,282.9h0M498.0,271.0h0M498.4,275.2h0M498.7,270.3h0M499.0,276.8h0M499.3,272.0h0M499.6,278.2h0M499.9,274.3h0M500.2,275.6h0M500.6,269.0h0M500.9,284.7h0M501.2,266.3h0M501.5,272.9h0M501.9,276.8h0M502.2,279.8h0M502.5,270.3h0M502.9,282.6h0M503.2,280.1h0M503.5,276.2h0M503.9,282.0h0M504.2,268.8h0M504.6,271.0h0M504.9,270.4h0M505.3,278.1h0M505.6,274.3h0M506.0,279.5h0M506.3,276.1h0M506.7,280.1h0M507.0,273.2h0M507.4,278.9h0M507.7,281.8h0M508.1,271.5h0M508.5,274.0h0M508.8,275.0h0M509.2,273.7h0M509.6,273.7h0M509.9,279.5h0M510.3,272.3h0M510.7,278.3h0M511.1,279.4h0M511.4,261.5h0M511.8,274.3h0M512.2,279.1h0M512.6,284.6h0M513.0,277.7h0M513.3,281.6h0M513.7,274.8h0M514.1,278.3h0M514.5,272.1h0M514.9,279.8h0M515.3,278.0h0M515.7,287.8h0M516.1,301.5h0M516.5,274.0h0M516.9,276.1h0M517.3,283.3h0M517.7,274.9h0M518.1,281.7h0M518.5,273.7h0M518.9,281.6h0M519.3,274.7h0M519.7,275.5h0M520.1,273.6h0M520.5,277.0h0M521.0,286.1h0M521.4,275.8h0M521.8,272.3h0M522.2,275.9h0M522.6,278.7h0M523.1,265.0h0M523.5,272.8h0M523.9,276.8h0M524.3,265.0h0M524.8,276.6h0M525.2,272.8h0M525.6,278.7h0M526.0,276.2h0M526.5,273.6h0M526.9,267.4h0M527.3,275.4h0M527.8,275.3h0M528.2,270.9h0M528.7,283.3h0M529.1,267.6h0M529.5,270.7h0M530.0,281.8h0M530.4,277.8h0M530.9,274.4h0M531.3,276.3h0M531.8,278.5h0M532.2,272.6h0M532.7,286.0h0M533.1,273.0h0M533.6,278.0h0M534.0,274.4h0M534.5,274.7h0M534.9,272.6h0M535.4,264.7h0M535.8,270.4h0M536.3,275.8h0M536.8,278.7h0M537.2,282.4h0M537.7,280.2h0M538.1,275.0h0M538.6,275.6h0M539.1,281.9h0M539.5,280.8h0M540.0,285.4h0M540.5,277.8h0M540.9,276.9h0M541.4,275.4h0M541.9,278.7h0M542.3,275.3h0M542.8,273.9h0M543.3,276.4h0M543.8,272.9h0M544.2,280.2h0M544.7,278.2h0M545.2,274.4h0M545.7,268.7h0M546.2,277.0h0M546.6,273.8h0M547.1,270.7h0M547.6,270.3h0M548.1,270.8h0M548.6,278.8h0M549.0,285.0h0M549.5,273.9h0M550.0,276.0h0M550.5,276.1h0M551.0,274.9h0M551.5,266.9h0M552.0,276.5h0M552.5,270.7h0M552.9,283.3h0M553.4,268.6h0M553.9,276.5h0M554.4,281.9h0M554.9,280.9h0M555.4,277.9h0M555.9,275.8h0M556.4,273.8h0M556.9,271.0h0M557.4,293.5h0M557.9,276.8h0M558.4,272.1h0M558.9,275.6h0M559.4,270.6h0M559.9,273.9h0M560.4,272.3h0M560.9,271.0h0M561.4,280.9h0M561.9,267.8h0M562.4,272.0h0M562.9,273.8h0M563.4,273.4h0M563.9,265.7h0M564.4,275.0h0M564.9,275.0h0M565.4,273.4h0M565.9,272.2h0M566.4,260.9h0M566.9,270.3h0M567.4,277.1h0M567.9,268.4h0M568.4,274.5h0M568.9,279.2h0M569.4,271.9h0M569.9,277.4h0M570.5,274.0h0M571.0,284.0h0M571.5,270.3h0M572.0,274.8h0M572.5,257.6h0M573.0,271.4h0M573.5,274.6h0M574.0,270.7h0M574.5,281.3h0M575.0,284.5h0M575.5,276.3h0M576.1,272.8h0M576.6,275.9h0M577.1,276.6h0M577.6,283.8h0M578.1,277.0h0M578.6,274.9h0M579.1,269.9h0M579.6,275.2h0M580.1,276.2h0M580.6,281.9h0M581.2,273.9h0M581.7,273.8h0M582.2,274.5h0M582.7,272.6h0M583.2,272.6h0M583.7,274.3h0M584.2,270.7h0M584.7,288.2h0M585.3,271.4h0M585.8,277.4h0M586.3,276.5h0M586.8,275.9h0M587.3,271.8h0M587.8,278.3h0M588.3,274.3h0M588.8,281.9h0M589.3,266.2h0M589.8,275.7h0M590.4,274.2h0M590.9,282.0h0M591.4,277.3h0M591.9,277.1h0M592.4,276.6h0M592.9,275.9h0M593.4,271.2h0M593.9,264.7h0M594.4,269.2h0M594.9,282.6h0M595.4,266.3h0M596.0,277.7h0M596.5,267.4h0M597.0,279.1h0M597.5,271.9h0M598.0,274.3h0M598.5,273.4h0M599.0,265.6h0M599.5,267.8h0M600.0,269.9h0M600.5,269.1h0M601.0,267.6h0M601.5,268.9h0M602.0,268.5h0M602.5,271.5h0M603.0,274.1h0M603.5,276.5h0M604.0,263.5h0M604.5,266.5h0M605.0,268.4h0M605.5,273.6h0M606.0,275.7h0M606.5,279.1h0M607.0,272.2h0M607.5,270.3h0M608.0,277.0h0M608.5,273.0h0M609.0,267.0h0M609.5,266.5h0M610.0,275.4h0M610.5,275.3h0M611.0,274.9h0M611.5,276.0h0M612.0,278.8h0M612.5,279.5h0M613.0,279.6h0M613.4,273.0h0M613.9,272.8h0M614.4,276.4h0M614.9,275.8h0M615.4,275.3h0M615.9,270.4h0M616.4,278.0h0M616.9,274.9h0M617.3,274.0h0M617.8,277.6h0M618.3,274.8h0M618.8,278.5h0M619.3,273.0h0M619.7,265.4h0M620.2,277.6h0M620.7,280.2h0M621.2,270.3h0M621.7,276.4h0M622.1,273.8h0M622.6,266.1h0M623.1,284.5h0M623.6,268.4h0M624.0,274.1h0M624.5,277.3h0M625.0,265.3h0M625.4,270.6h0M625.9,276.0h0M626.4,275.4h0M626.8,272.9h0M627.3,276.4h0M627.8,276.7h0M628.2,270.7h0M628.7,266.8h0M629.1,275.5h0M629.6,279.7h0M630.1,277.9h0M630.5,274.9h0M631.0,281.4h0M631.4,278.8h0M631.9,277.6h0M632.3,273.5h0M632.8,285.1h0M633.2,278.0h0M633.7,292.3h0M634.1,282.9h0M634.6,271.6h0M635.0,272.5h0M635.5,280.3h0M635.9,278.8h0M636.4,282.2h0M636.8,272.1h0M637.2,274.2h0M637.7,285.3h0M638.1,282.8h0M638.6,274.3h0M639.0,277.1h0M639.4,284.6h0M639.9,282.6h0M640.3,273.9h0M640.7,277.8h0M641.1,271.0h0M641.6,274.1h0M642.0,269.5h0M642.4,276.8h0M642.8,272.2h0M643.3,271.1h0M643.7,280.1h0M644.1,275.1h0M644.5,283.2h0M644.9,281.1h0M645.4,277.8h0M645.8,279.5h0M646.2,276.6h0M646.6,266.6h0M647.0,262.1h0M647.4,276.8h0M647.8,272.7h0M648.2,271.9h0M648.6,278.2h0M649.0,280.9h0M649.4,277.9h0M649.8,272.2h0M650.2,268.7h0M650.6,273.8h0M651.0,264.7h0M651.4,267.8h0M651.8,264.8h0M652.2,280.3h0M652.6,273.8h0M652.9,269.2h0M653.3,276.4h0M653.7,273.8h0M654.1,287.7h0M654.5,265.5h0M654.8,278.4h0M655.2,271.1h0M655.6,271.5h0M656.0,275.5h0M656.3,272.0h0M656.7,279.7h0M657.1,277.0h0M657.4,280.0h0M657.8,271.2h0M658.2,271.7h0M658.5,270.1h0M658.9,281.7h0M659.2,281.8h0M659.6,275.4h0M659.9,297.7h0M660.3,282.6h0M660.6,280.9h0M661.0,268.7h0M661.3,271.7h0M661.7,274.5h0M662.0,268.3h0M662.4,279.5h0M662.7,274.3h0M663.0,276.8h0M663.4,277.5h0M663.7,277.6h0M664.0,290.9h0M664.4,268.9h0M664.7,276.1h0M665.0,269.2h0M665.3,275.4h0M665.7,271.2h0M666.0,275.2h0M666.3,270.4h0M666.6,271.3h0M666.9,274.8h0M667.2,279.4h0M667.5,290.9h0M667.9,279.6h0M668.2,271.1h0M668.5,278.3h0M668.8,277.4h0M669.1,274.3h0M669.4,283.5h0M669.7,274.9h0M670.0,277.6h0M670.2,282.4h0M670.5,273.4h0M670.8,276.2h0M671.1,276.5h0M671.4,273.4h0M671.7,280.9h0M672.0,275.4h0M672.2,276.1h0M672.5,279.4h0M672.8,274.5h0M673.1,278.5h0M673.3,277.5h0M673.6,281.6h0M673.9,280.5h0M674.1,277.5h0M674.4,279.8h0M674.6,271.4h0M674.9,284.6h0M675.1,282.6h0M675.4,273.1h0M675.7,284.2h0M675.9,275.6h0M676.1,272.0h0M676.4,275.6h0M676.6,275.9h0M676.9,273.1h0M677.1,276.7h0M677.3,267.3h0M677.6,280.4h0M677.8,272.5h0M678.0,267.5h0M678.3,276.4h0M678.5,273.6h0M678.7,273.8h0M678.9,273.1h0M679.1,271.9h0M679.4,281.9h0M679.6,273.9h0M679.8,263.9h0M680.0,270.1h0M680.2,277.9h0M680.4,274.4h0M680.6,274.4h0M680.8,266.7h0M681.0,283.8h0M681.2,278.1h0M681.4,275.5h0M681.6,278.4h0M681.8,276.0h0M681.9,277.2h0M682.1,269.1h0M682.3,272.2h0M682.5,283.8h0M682.7,267.9h0M682.8,270.7h0M683.0,268.7h0" stroke="#7c7c7c" stroke-width="1.29" stroke-linecap="round" fill="none"/>
<line x1="482.8" y1="275.8" x2="683.1" y2="275.8" stroke="#5a5a5a" stroke-width="0.55"/>
</g>
<rect x="482.8" y="240.8" width="200.3" height="168.5" fill="none" stroke="#707070" stroke-width="0.65"/>
<line x1="501.53" y1="409.3" x2="501.53" y2="406.8" stroke="#7a7a7a" stroke-width="0.6"/>
<text x="500.53" y="418.5" font-size="6.4" text-anchor="middle" fill="#111">-3</text>
<line x1="523.42" y1="409.3" x2="523.42" y2="406.8" stroke="#7a7a7a" stroke-width="0.6"/>
<text x="522.42" y="418.5" font-size="6.4" text-anchor="middle" fill="#111">-2</text>
<line x1="545.31" y1="409.3" x2="545.31" y2="406.8" stroke="#7a7a7a" stroke-width="0.6"/>
<text x="544.31" y="418.5" font-size="6.4" text-anchor="middle" fill="#111">-1</text>
<line x1="567.20" y1="409.3" x2="567.20" y2="406.8" stroke="#7a7a7a" stroke-width="0.6"/>
<text x="566.90" y="418.5" font-size="6.4" text-anchor="middle" fill="#111">0</text>
<line x1="589.09" y1="409.3" x2="589.09" y2="406.8" stroke="#7a7a7a" stroke-width="0.6"/>
<text x="588.79" y="418.5" font-size="6.4" text-anchor="middle" fill="#111">1</text>
<line x1="610.98" y1="409.3" x2="610.98" y2="406.8" stroke="#7a7a7a" stroke-width="0.6"/>
<text x="610.68" y="418.5" font-size="6.4" text-anchor="middle" fill="#111">2</text>
<line x1="632.87" y1="409.3" x2="632.87" y2="406.8" stroke="#7a7a7a" stroke-width="0.6"/>
<text x="632.57" y="418.5" font-size="6.4" text-anchor="middle" fill="#111">3</text>
<line x1="654.76" y1="409.3" x2="654.76" y2="406.8" stroke="#7a7a7a" stroke-width="0.6"/>
<text x="654.46" y="418.5" font-size="6.4" text-anchor="middle" fill="#111">4</text>
<line x1="676.65" y1="409.3" x2="676.65" y2="406.8" stroke="#7a7a7a" stroke-width="0.6"/>
<text x="676.35" y="418.5" font-size="6.4" text-anchor="middle" fill="#111">5</text>
<line x1="482.8" y1="240.82" x2="485.3" y2="240.82" stroke="#7a7a7a" stroke-width="0.6"/>
<text x="478.2" y="243.77" font-size="6.4" text-anchor="end" fill="#111">25.6</text>
<line x1="482.8" y1="264.86" x2="485.3" y2="264.86" stroke="#7a7a7a" stroke-width="0.6"/>
<text x="478.2" y="267.81" font-size="6.4" text-anchor="end" fill="#111">24.8</text>
<line x1="482.8" y1="288.90" x2="485.3" y2="288.90" stroke="#7a7a7a" stroke-width="0.6"/>
<text x="478.2" y="291.85" font-size="6.4" text-anchor="end" fill="#111">24.0</text>
<line x1="482.8" y1="312.94" x2="485.3" y2="312.94" stroke="#7a7a7a" stroke-width="0.6"/>
<text x="478.2" y="315.89" font-size="6.4" text-anchor="end" fill="#111">23.2</text>
<line x1="482.8" y1="336.98" x2="485.3" y2="336.98" stroke="#7a7a7a" stroke-width="0.6"/>
<text x="478.2" y="339.93" font-size="6.4" text-anchor="end" fill="#111">22.4</text>
<line x1="482.8" y1="361.02" x2="485.3" y2="361.02" stroke="#7a7a7a" stroke-width="0.6"/>
<text x="478.2" y="363.97" font-size="6.4" text-anchor="end" fill="#111">21.6</text>
<line x1="482.8" y1="385.06" x2="485.3" y2="385.06" stroke="#7a7a7a" stroke-width="0.6"/>
<text x="478.2" y="388.01" font-size="6.4" text-anchor="end" fill="#111">20.8</text>
<line x1="482.8" y1="409.10" x2="485.3" y2="409.10" stroke="#7a7a7a" stroke-width="0.6"/>
<text x="478.2" y="412.05" font-size="6.4" text-anchor="end" fill="#111">20.0</text>
<text x="580.5" y="428.9" font-size="9.2" text-anchor="middle" fill="#0a0a0a">velocity (mm/s)</text>
<text transform="translate(493.2,399.7) scale(1.0,1)" font-size="16.8" font-weight="bold" fill="#000">e</text>
<text x="678.3" y="397.6" font-size="14.4" text-anchor="end" fill="#0a0a0a">12 GPa</text>
<rect x="549" y="94.5" width="13.5" height="8.7" fill="#22A74A" stroke="#888" stroke-width="0.4"/>
<text x="569.2" y="101.5" font-size="9" fill="#111">Fe<tspan font-size="5" dy="-3.2">2+</tspan><tspan dy="3.2"> #1</tspan></text>
<rect x="549" y="110.2" width="13.5" height="8.7" fill="#B4B4B4" stroke="#888" stroke-width="0.4"/>
<text x="569.2" y="117.2" font-size="9" fill="#111">Fe<tspan font-size="5" dy="-3.2">2+</tspan><tspan dy="3.2"> #2</tspan></text>
<rect x="549" y="125.9" width="13.5" height="8.7" fill="#219FDB" stroke="#888" stroke-width="0.4"/>
<text x="569.2" y="132.9" font-size="9" fill="#111">Fe<tspan font-size="5" dy="-3.2">3+</tspan><tspan dy="3.2"> #1</tspan></text>
<rect x="549" y="141.9" width="13.5" height="8.7" fill="#BE1226" stroke="#888" stroke-width="0.4"/>
<text x="569.2" y="148.9" font-size="9" fill="#111">Fe<tspan font-size="5" dy="-3.2">3+</tspan><tspan dy="3.2"> #2</tspan></text>
</svg>
</body></html>
